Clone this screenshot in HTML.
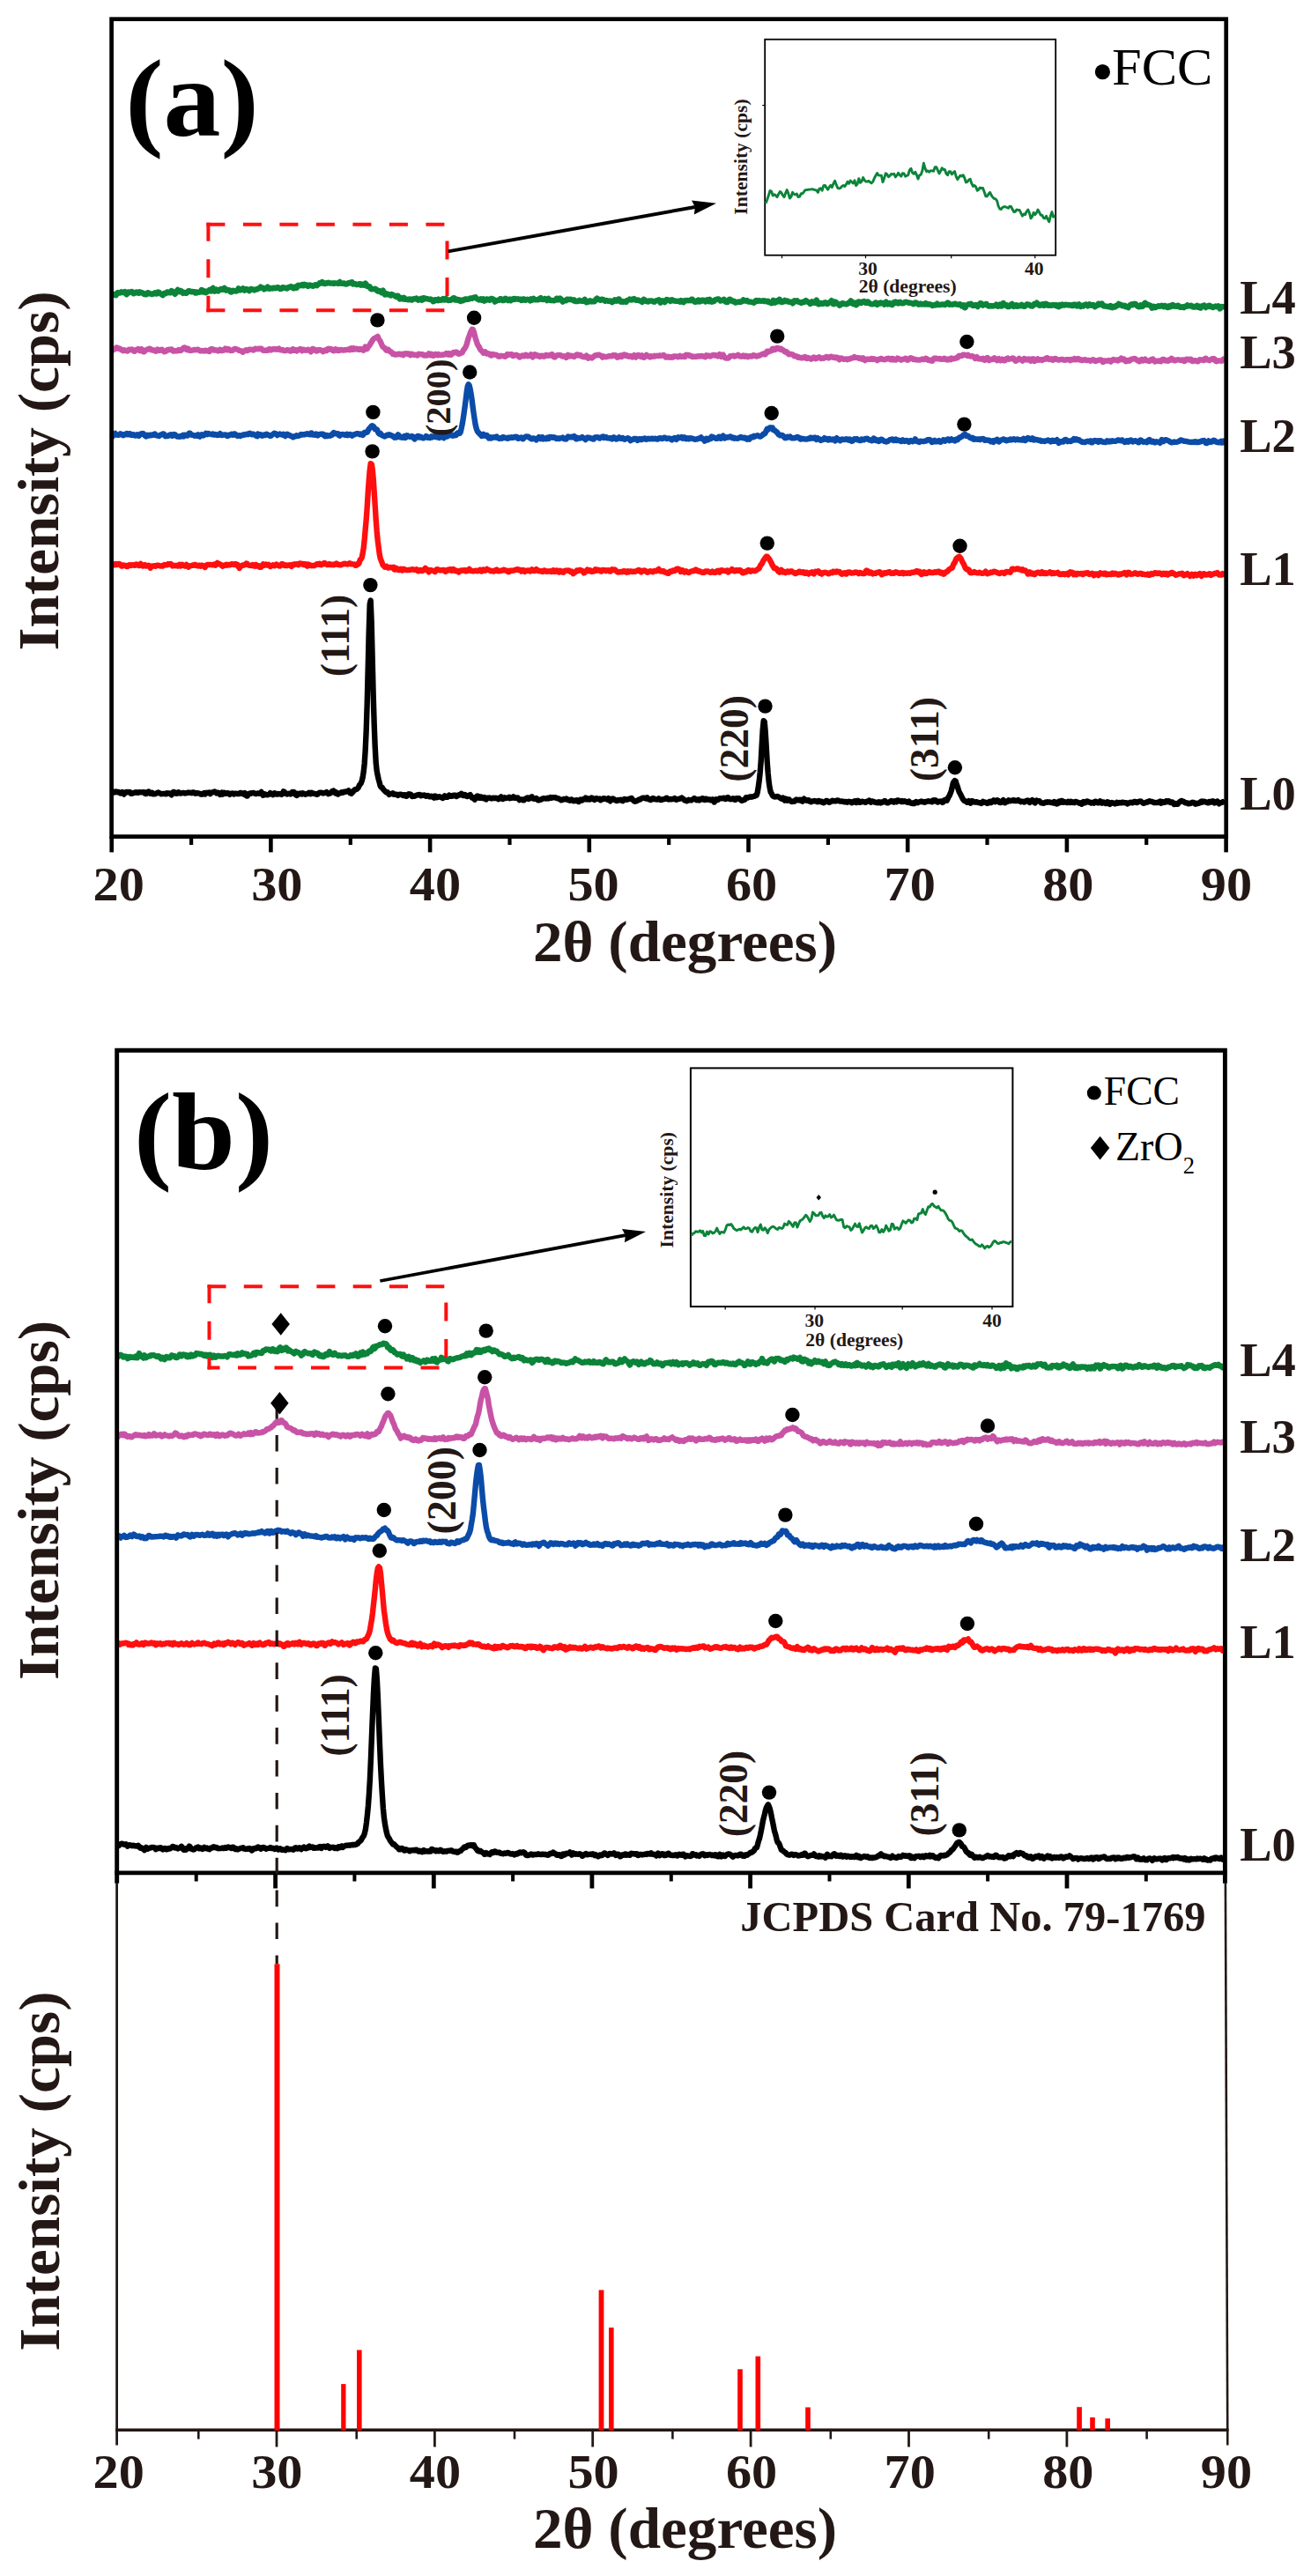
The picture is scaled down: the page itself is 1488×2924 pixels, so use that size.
<!DOCTYPE html>
<html lang="en"><head><meta charset="utf-8"><title>XRD patterns</title>
<style>html,body{margin:0;padding:0;background:#fff}svg{display:block}text{font-family:"Liberation Serif","DejaVu Serif",serif}</style></head><body>
<svg width="1488" height="2924" viewBox="0 0 1488 2924">
<rect width="1488" height="2924" fill="#fff"/>
<g id="panel-a">
<polyline points="126.7,901.1 127.7,900.1 128.7,898.8 129.7,898.6 130.7,899.3 131.7,898.5 132.7,898.8 133.7,899.3 134.7,898.9 135.7,899.7 136.7,900.5 137.7,900.1 138.7,899.2 139.7,900.3 140.7,901.5 141.7,900.3 142.7,899.1 143.7,899.2 144.7,898.9 145.7,899.3 146.7,898.9 147.7,899.3 148.7,900.9 149.7,900.8 150.7,900.5 151.7,899.9 152.7,899.8 153.7,899.4 154.7,899.2 155.7,899.9 156.7,899.8 157.7,899.1 158.7,899.3 159.7,899.4 160.7,899.4 161.7,899.3 162.7,899.2 163.7,899.1 164.7,900.8 165.7,901.1 166.7,899.4 167.7,898.9 168.7,898.6 169.7,900.1 170.7,900.8 171.7,899.8 172.7,899.6 173.7,901.4 174.7,901.4 175.7,901.1 176.7,901.0 177.7,900.3 178.7,899.8 179.7,899.5 180.7,900.1 181.7,900.5 182.7,901.2 183.7,901.1 184.7,901.0 185.7,901.0 186.7,900.9 187.7,900.8 188.7,901.3 189.7,900.2 190.7,900.5 191.7,900.5 192.7,900.7 193.7,901.5 194.7,902.3 195.7,900.7 196.7,898.9 197.7,899.1 198.7,900.1 199.7,900.7 200.7,900.7 201.7,899.7 202.7,899.2 203.7,900.4 204.7,900.5 205.7,900.3 206.7,900.1 207.7,900.0 208.7,899.9 209.7,900.5 210.7,900.2 211.7,900.3 212.7,899.7 213.7,899.8 214.7,899.6 215.7,899.7 216.7,900.0 217.7,900.3 218.7,899.5 219.7,899.4 220.7,899.9 221.7,900.7 222.7,900.2 223.7,900.5 224.7,900.2 225.7,900.5 226.7,900.8 227.7,901.4 228.7,901.7 229.7,901.5 230.7,900.7 231.7,900.1 232.7,901.4 233.7,900.4 234.7,899.7 235.7,900.0 236.7,899.6 237.7,899.5 238.7,901.1 239.7,899.9 240.7,899.5 241.7,899.1 242.7,898.9 243.7,898.5 244.7,899.0 245.7,900.4 246.7,899.9 247.7,899.8 248.7,900.2 249.7,902.0 250.7,900.5 251.7,899.7 252.7,901.6 253.7,901.1 254.7,899.8 255.7,900.5 256.7,900.9 257.7,900.2 258.7,900.3 259.7,900.6 260.7,901.8 261.7,900.9 262.7,900.8 263.7,900.5 264.7,900.6 265.7,901.5 266.7,900.8 267.7,900.7 268.7,901.0 269.7,901.0 270.7,901.1 271.7,901.1 272.7,900.0 273.7,900.0 274.7,900.4 275.7,901.1 276.7,901.6 277.7,900.0 278.7,900.8 279.7,903.5 280.7,903.5 281.7,901.9 282.7,900.9 283.7,900.5 284.7,900.9 285.7,900.2 286.7,900.1 287.7,900.0 288.7,900.3 289.7,901.0 290.7,901.0 291.7,900.6 292.7,900.5 293.7,900.6 294.7,900.9 295.7,900.3 296.7,899.0 297.7,900.7 298.7,902.8 299.7,902.5 300.7,901.3 301.7,901.8 302.7,902.1 303.7,902.3 304.7,902.0 305.7,901.4 306.7,900.1 307.7,900.5 308.7,901.5 309.7,902.2 310.7,901.4 311.7,900.2 312.7,900.6 313.7,901.6 314.7,901.6 315.7,900.9 316.7,901.4 317.7,901.3 318.7,901.4 319.7,901.9 320.7,900.8 321.7,898.4 322.7,898.8 323.7,900.1 324.7,901.0 325.7,901.5 326.7,901.1 327.7,900.6 328.7,901.0 329.7,901.5 330.7,900.9 331.7,898.9 332.7,899.0 333.7,899.1 334.7,900.3 335.7,902.2 336.7,902.9 337.7,900.9 338.7,901.4 339.7,901.5 340.7,900.5 341.7,900.8 342.7,901.5 343.7,900.2 344.7,900.8 345.7,901.3 346.7,901.7 347.7,901.1 348.7,900.7 349.7,901.0 350.7,899.9 351.7,900.9 352.7,901.3 353.7,899.8 354.7,900.2 355.7,900.5 356.7,901.0 357.7,900.9 358.7,901.4 359.7,901.9 360.7,901.4 361.7,900.4 362.7,899.7 363.7,899.8 364.7,899.8 365.7,899.9 366.7,900.5 367.7,900.2 368.7,900.0 369.7,899.7 370.7,899.1 371.7,900.2 372.7,901.2 373.7,900.7 374.7,900.5 375.7,900.0 376.7,898.3 377.7,898.9 378.7,897.7 379.7,898.7 380.7,900.4 381.7,899.4 382.7,900.4 383.7,901.5 384.7,900.7 385.7,900.3 386.7,900.1 387.7,899.2 388.7,899.7 389.7,899.6 390.7,898.7 391.7,898.9 392.7,898.7 393.7,898.3 394.7,898.5 395.7,897.5 396.7,898.5 397.7,900.4 398.7,900.8 399.7,899.9 400.7,898.8 401.7,897.2 402.7,896.3 403.7,896.3 404.7,895.9 405.7,895.1 406.7,894.1 407.7,891.6 408.7,890.4 409.7,889.1 410.7,886.4 411.7,882.4 412.7,876.1 413.7,866.5 414.7,851.1 415.7,829.0 416.7,798.5 417.7,759.1 418.7,717.3 419.7,686.0 420.7,681.5 421.7,707.1 422.7,748.1 423.7,789.4 424.7,822.3 425.7,847.5 426.7,865.9 427.7,875.2 428.7,880.3 429.7,884.8 430.7,888.2 431.7,892.2 432.7,893.6 433.7,893.6 434.7,895.6 435.7,896.7 436.7,897.7 437.7,898.7 438.7,899.5 439.7,899.2 440.7,900.6 441.7,902.0 442.7,901.3 443.7,901.1 444.7,900.8 445.7,900.3 446.7,901.6 447.7,901.9 448.7,901.5 449.7,901.8 450.7,901.9 451.7,902.9 452.7,902.2 453.7,901.7 454.7,901.7 455.7,901.9 456.7,902.6 457.7,903.0 458.7,902.2 459.7,902.3 460.7,903.8 461.7,903.8 462.7,902.0 463.7,901.3 464.7,901.5 465.7,901.5 466.7,902.2 467.7,904.0 468.7,903.9 469.7,903.8 470.7,903.6 471.7,903.1 472.7,902.7 473.7,902.4 474.7,902.3 475.7,901.9 476.7,902.1 477.7,903.3 478.7,902.8 479.7,902.8 480.7,902.8 481.7,902.4 482.7,903.1 483.7,903.8 484.7,903.5 485.7,903.0 486.7,903.5 487.7,904.4 488.7,904.1 489.7,903.6 490.7,904.1 491.7,905.1 492.7,905.6 493.7,903.5 494.7,903.8 495.7,905.3 496.7,905.0 497.7,904.5 498.7,904.3 499.7,904.7 500.7,905.2 501.7,905.3 502.7,905.9 503.7,905.0 504.7,903.3 505.7,904.1 506.7,904.9 507.7,904.9 508.7,903.7 509.7,902.7 510.7,903.8 511.7,903.9 512.7,903.2 513.7,903.6 514.7,902.7 515.7,902.7 516.7,902.8 517.7,904.0 518.7,903.8 519.7,902.8 520.7,902.3 521.7,902.5 522.7,901.6 523.7,900.8 524.7,901.8 525.7,903.1 526.7,903.0 527.7,902.0 528.7,902.9 529.7,903.8 530.7,904.0 531.7,903.2 532.7,902.7 533.7,902.2 534.7,904.2 535.7,905.4 536.7,905.1 537.7,906.3 538.7,907.6 539.7,906.1 540.7,904.4 541.7,903.4 542.7,903.8 543.7,905.7 544.7,905.7 545.7,904.4 546.7,904.7 547.7,906.1 548.7,906.1 549.7,905.1 550.7,906.9 551.7,907.4 552.7,905.9 553.7,905.7 554.7,905.8 555.7,905.4 556.7,906.0 557.7,906.5 558.7,906.2 559.7,905.7 560.7,905.9 561.7,906.1 562.7,905.6 563.7,906.1 564.7,906.5 565.7,907.3 566.7,906.5 567.7,905.2 568.7,904.5 569.7,906.4 570.7,907.0 571.7,905.7 572.7,905.3 573.7,906.0 574.7,905.8 575.7,905.8 576.7,905.5 577.7,904.9 578.7,906.1 579.7,905.2 580.7,905.8 581.7,905.4 582.7,904.4 583.7,905.6 584.7,905.9 585.7,905.4 586.7,905.9 587.7,905.6 588.7,906.9 589.7,908.1 590.7,907.5 591.7,907.4 592.7,907.4 593.7,908.3 594.7,908.4 595.7,907.0 596.7,906.6 597.7,905.9 598.7,905.6 599.7,907.0 600.7,906.7 601.7,905.7 602.7,904.8 603.7,904.3 604.7,906.1 605.7,906.7 606.7,906.9 607.7,906.9 608.7,906.1 609.7,906.8 610.7,908.4 611.7,908.4 612.7,907.9 613.7,907.7 614.7,907.3 615.7,906.5 616.7,906.2 617.7,906.4 618.7,906.4 619.7,906.5 620.7,906.1 621.7,905.8 622.7,906.4 623.7,905.9 624.7,905.1 625.7,905.8 626.7,905.2 627.7,905.2 628.7,905.3 629.7,905.3 630.7,905.3 631.7,906.0 632.7,906.1 633.7,906.4 634.7,906.9 635.7,907.2 636.7,908.2 637.7,908.2 638.7,907.7 639.7,907.0 640.7,907.4 641.7,907.1 642.7,906.5 643.7,907.6 644.7,908.0 645.7,907.8 646.7,908.7 647.7,907.7 648.7,907.4 649.7,908.7 650.7,909.2 651.7,908.8 652.7,909.0 653.7,908.2 654.7,908.3 655.7,909.5 656.7,910.1 657.7,909.2 658.7,907.7 659.7,908.7 660.7,908.5 661.7,907.3 662.7,907.3 663.7,907.4 664.7,905.6 665.7,906.7 666.7,907.4 667.7,906.5 668.7,906.6 669.7,907.5 670.7,906.8 671.7,905.5 672.7,906.0 673.7,906.9 674.7,907.9 675.7,906.6 676.7,906.1 677.7,906.4 678.7,907.0 679.7,907.1 680.7,906.6 681.7,908.2 682.7,907.6 683.7,907.2 684.7,906.4 685.7,906.1 686.7,906.9 687.7,906.8 688.7,906.9 689.7,907.7 690.7,906.2 691.7,908.0 692.7,909.3 693.7,907.4 694.7,906.6 695.7,906.5 696.7,907.1 697.7,907.9 698.7,908.4 699.7,909.0 700.7,908.8 701.7,908.0 702.7,908.4 703.7,908.2 704.7,907.7 705.7,908.6 706.7,909.1 707.7,907.9 708.7,907.0 709.7,907.1 710.7,907.8 711.7,907.5 712.7,907.6 713.7,907.0 714.7,906.9 715.7,906.3 716.7,905.9 717.7,907.3 718.7,908.3 719.7,909.4 720.7,909.7 721.7,909.3 722.7,909.2 723.7,908.7 724.7,907.7 725.7,907.7 726.7,907.4 727.7,906.5 728.7,906.2 729.7,905.7 730.7,905.8 731.7,905.7 732.7,906.4 733.7,906.6 734.7,905.4 735.7,906.7 736.7,907.5 737.7,907.3 738.7,908.1 739.7,907.3 740.7,906.2 741.7,906.1 742.7,907.1 743.7,907.2 744.7,907.4 745.7,907.5 746.7,907.3 747.7,906.4 748.7,907.1 749.7,908.1 750.7,907.8 751.7,907.7 752.7,907.2 753.7,907.1 754.7,907.1 755.7,906.2 756.7,905.7 757.7,907.0 758.7,907.5 759.7,907.1 760.7,906.9 761.7,907.4 762.7,907.2 763.7,907.0 764.7,907.0 765.7,906.1 766.7,907.2 767.7,907.8 768.7,907.1 769.7,907.0 770.7,906.9 771.7,906.6 772.7,906.2 773.7,905.5 774.7,906.6 775.7,907.0 776.7,908.1 777.7,908.6 778.7,908.6 779.7,909.3 780.7,908.5 781.7,907.7 782.7,908.3 783.7,908.4 784.7,908.3 785.7,907.6 786.7,907.2 787.7,906.2 788.7,906.4 789.7,907.2 790.7,908.2 791.7,907.9 792.7,907.3 793.7,908.5 794.7,908.0 795.7,906.8 796.7,906.3 797.7,906.1 798.7,907.7 799.7,908.0 800.7,906.7 801.7,906.7 802.7,907.7 803.7,907.5 804.7,907.4 805.7,907.4 806.7,908.3 807.7,908.0 808.7,907.3 809.7,908.9 810.7,910.5 811.7,908.5 812.7,907.3 813.7,907.6 814.7,908.0 815.7,907.0 816.7,906.3 817.7,906.2 818.7,906.2 819.7,906.3 820.7,906.2 821.7,905.7 822.7,906.6 823.7,907.1 824.7,906.1 825.7,905.1 826.7,905.4 827.7,906.7 828.7,907.1 829.7,907.2 830.7,907.0 831.7,906.3 832.7,906.5 833.7,907.8 834.7,907.9 835.7,906.3 836.7,906.4 837.7,906.2 838.7,906.3 839.7,907.5 840.7,907.6 841.7,908.9 842.7,908.7 843.7,908.1 844.7,907.9 845.7,907.3 846.7,905.2 847.7,905.3 848.7,905.5 849.7,905.1 850.7,904.6 851.7,904.4 852.7,904.7 853.7,904.5 854.7,904.1 855.7,903.9 856.7,903.6 857.7,902.7 858.7,902.7 859.7,899.6 860.7,893.4 861.7,886.5 862.7,877.0 863.7,863.9 864.7,845.5 865.7,828.3 866.7,818.2 867.7,819.1 868.7,830.2 869.7,846.7 870.7,864.1 871.7,877.5 872.7,887.7 873.7,894.4 874.7,899.0 875.7,900.6 876.7,902.8 877.7,903.9 878.7,904.3 879.7,904.5 880.7,904.2 881.7,904.2 882.7,904.0 883.7,904.5 884.7,905.2 885.7,905.8 886.7,906.7 887.7,906.7 888.7,905.6 889.7,907.4 890.7,908.5 891.7,906.7 892.7,907.2 893.7,908.7 894.7,907.4 895.7,907.4 896.7,908.9 897.7,909.4 898.7,910.0 899.7,909.6 900.7,909.5 901.7,909.8 902.7,908.3 903.7,907.6 904.7,908.4 905.7,908.3 906.7,907.8 907.7,908.5 908.7,907.8 909.7,908.9 910.7,909.6 911.7,908.0 912.7,906.7 913.7,908.0 914.7,908.5 915.7,908.9 916.7,908.2 917.7,908.3 918.7,909.5 919.7,909.7 920.7,910.3 921.7,909.5 922.7,909.4 923.7,909.4 924.7,908.9 925.7,909.5 926.7,909.5 927.7,910.2 928.7,909.2 929.7,909.0 930.7,910.0 931.7,910.2 932.7,909.8 933.7,911.0 934.7,911.3 935.7,910.9 936.7,910.0 937.7,909.0 938.7,908.9 939.7,909.5 940.7,910.7 941.7,910.6 942.7,909.9 943.7,909.7 944.7,908.7 945.7,909.2 946.7,909.3 947.7,909.2 948.7,909.4 949.7,908.7 950.7,908.5 951.7,908.6 952.7,909.3 953.7,909.6 954.7,909.6 955.7,909.5 956.7,909.6 957.7,910.2 958.7,910.4 959.7,910.0 960.7,910.0 961.7,910.8 962.7,910.0 963.7,909.7 964.7,910.3 965.7,910.1 966.7,911.3 967.7,910.9 968.7,910.1 969.7,909.3 970.7,909.1 971.7,911.1 972.7,910.8 973.7,908.9 974.7,909.4 975.7,910.9 976.7,910.7 977.7,910.1 978.7,909.6 979.7,910.1 980.7,910.2 981.7,910.7 982.7,910.7 983.7,909.9 984.7,909.6 985.7,909.4 986.7,908.5 987.7,909.2 988.7,910.7 989.7,909.6 990.7,909.5 991.7,910.0 992.7,910.5 993.7,910.7 994.7,911.1 995.7,910.7 996.7,911.3 997.7,910.3 998.7,910.5 999.7,911.5 1000.7,910.8 1001.7,910.1 1002.7,910.4 1003.7,909.3 1004.7,909.2 1005.7,910.4 1006.7,911.2 1007.7,911.3 1008.7,910.8 1009.7,910.2 1010.7,909.4 1011.7,909.0 1012.7,909.4 1013.7,910.3 1014.7,910.6 1015.7,909.1 1016.7,909.3 1017.7,910.2 1018.7,908.4 1019.7,908.5 1020.7,909.1 1021.7,909.3 1022.7,910.0 1023.7,909.1 1024.7,910.1 1025.7,909.9 1026.7,909.2 1027.7,909.8 1028.7,910.2 1029.7,910.8 1030.7,910.6 1031.7,909.7 1032.7,911.1 1033.7,911.5 1034.7,911.9 1035.7,912.0 1036.7,911.2 1037.7,912.0 1038.7,910.9 1039.7,910.1 1040.7,910.9 1041.7,911.2 1042.7,910.5 1043.7,910.2 1044.7,910.0 1045.7,909.4 1046.7,910.1 1047.7,910.3 1048.7,910.1 1049.7,910.7 1050.7,909.9 1051.7,909.8 1052.7,909.6 1053.7,909.3 1054.7,909.5 1055.7,909.6 1056.7,909.9 1057.7,910.3 1058.7,908.6 1059.7,908.3 1060.7,909.1 1061.7,908.3 1062.7,908.9 1063.7,910.3 1064.7,910.5 1065.7,909.7 1066.7,909.8 1067.7,909.4 1068.7,909.6 1069.7,910.9 1070.7,910.4 1071.7,908.3 1072.7,907.8 1073.7,908.0 1074.7,908.7 1075.7,906.6 1076.7,904.4 1077.7,902.9 1078.7,900.5 1079.7,897.8 1080.7,893.9 1081.7,889.2 1082.7,887.2 1083.7,886.0 1084.7,886.7 1085.7,890.1 1086.7,892.7 1087.7,896.0 1088.7,899.0 1089.7,900.8 1090.7,902.6 1091.7,904.6 1092.7,906.8 1093.7,908.1 1094.7,909.0 1095.7,909.6 1096.7,909.7 1097.7,910.9 1098.7,910.9 1099.7,909.2 1100.7,910.2 1101.7,911.6 1102.7,909.2 1103.7,909.1 1104.7,910.1 1105.7,910.3 1106.7,910.6 1107.7,910.1 1108.7,910.2 1109.7,910.8 1110.7,911.0 1111.7,911.4 1112.7,911.3 1113.7,912.0 1114.7,911.2 1115.7,909.9 1116.7,910.7 1117.7,910.9 1118.7,910.7 1119.7,911.4 1120.7,912.0 1121.7,911.5 1122.7,910.1 1123.7,909.8 1124.7,911.2 1125.7,910.7 1126.7,909.8 1127.7,908.4 1128.7,909.1 1129.7,910.2 1130.7,908.8 1131.7,908.2 1132.7,908.5 1133.7,910.1 1134.7,910.9 1135.7,911.1 1136.7,910.6 1137.7,909.2 1138.7,908.1 1139.7,909.6 1140.7,911.2 1141.7,910.2 1142.7,910.2 1143.7,909.9 1144.7,908.3 1145.7,908.6 1146.7,909.2 1147.7,908.9 1148.7,908.9 1149.7,908.3 1150.7,908.2 1151.7,909.1 1152.7,908.7 1153.7,909.1 1154.7,909.1 1155.7,908.1 1156.7,909.1 1157.7,909.5 1158.7,910.2 1159.7,909.7 1160.7,909.8 1161.7,910.1 1162.7,910.6 1163.7,910.0 1164.7,909.0 1165.7,909.3 1166.7,908.5 1167.7,909.1 1168.7,910.9 1169.7,910.2 1170.7,909.1 1171.7,908.1 1172.7,909.0 1173.7,910.7 1174.7,911.4 1175.7,909.8 1176.7,908.6 1177.7,909.3 1178.7,909.2 1179.7,909.2 1180.7,910.3 1181.7,911.3 1182.7,911.4 1183.7,911.7 1184.7,911.9 1185.7,911.0 1186.7,910.5 1187.7,910.8 1188.7,910.3 1189.7,910.4 1190.7,910.5 1191.7,910.5 1192.7,911.0 1193.7,910.9 1194.7,910.9 1195.7,911.5 1196.7,910.1 1197.7,910.6 1198.7,912.1 1199.7,912.6 1200.7,912.0 1201.7,909.8 1202.7,909.4 1203.7,910.8 1204.7,909.0 1205.7,909.0 1206.7,910.7 1207.7,910.0 1208.7,910.3 1209.7,910.5 1210.7,911.1 1211.7,911.0 1212.7,909.7 1213.7,910.3 1214.7,910.9 1215.7,909.7 1216.7,910.3 1217.7,911.0 1218.7,910.5 1219.7,911.1 1220.7,910.0 1221.7,910.0 1222.7,910.5 1223.7,910.8 1224.7,911.7 1225.7,911.9 1226.7,911.4 1227.7,912.7 1228.7,912.1 1229.7,910.2 1230.7,911.0 1231.7,911.3 1232.7,909.8 1233.7,909.5 1234.7,909.6 1235.7,910.5 1236.7,910.7 1237.7,910.6 1238.7,911.5 1239.7,911.1 1240.7,910.8 1241.7,911.6 1242.7,909.8 1243.7,909.6 1244.7,910.5 1245.7,911.3 1246.7,911.3 1247.7,910.8 1248.7,909.4 1249.7,909.9 1250.7,911.6 1251.7,910.9 1252.7,910.4 1253.7,911.2 1254.7,912.1 1255.7,912.0 1256.7,910.3 1257.7,910.4 1258.7,912.5 1259.7,913.0 1260.7,911.6 1261.7,911.0 1262.7,911.4 1263.7,911.8 1264.7,911.6 1265.7,912.4 1266.7,912.0 1267.7,910.8 1268.7,911.7 1269.7,911.5 1270.7,911.0 1271.7,911.3 1272.7,911.4 1273.7,910.6 1274.7,910.9 1275.7,911.0 1276.7,911.4 1277.7,911.1 1278.7,911.3 1279.7,912.4 1280.7,911.7 1281.7,911.3 1282.7,910.8 1283.7,910.9 1284.7,911.2 1285.7,911.2 1286.7,910.2 1287.7,909.9 1288.7,909.9 1289.7,910.9 1290.7,911.1 1291.7,910.3 1292.7,909.7 1293.7,909.9 1294.7,909.4 1295.7,910.3 1296.7,911.0 1297.7,911.8 1298.7,911.6 1299.7,911.2 1300.7,910.8 1301.7,910.3 1302.7,910.5 1303.7,909.7 1304.7,909.3 1305.7,909.6 1306.7,909.8 1307.7,910.0 1308.7,910.6 1309.7,911.0 1310.7,911.0 1311.7,911.0 1312.7,911.1 1313.7,911.0 1314.7,910.9 1315.7,910.0 1316.7,909.5 1317.7,911.8 1318.7,911.5 1319.7,910.0 1320.7,910.6 1321.7,910.8 1322.7,910.3 1323.7,909.2 1324.7,909.4 1325.7,910.1 1326.7,909.2 1327.7,910.0 1328.7,911.0 1329.7,910.6 1330.7,910.4 1331.7,911.4 1332.7,913.0 1333.7,912.9 1334.7,912.0 1335.7,912.7 1336.7,912.7 1337.7,911.4 1338.7,910.4 1339.7,909.7 1340.7,909.0 1341.7,909.2 1342.7,909.8 1343.7,909.9 1344.7,910.9 1345.7,911.4 1346.7,911.2 1347.7,911.9 1348.7,912.3 1349.7,911.8 1350.7,912.1 1351.7,911.7 1352.7,911.0 1353.7,910.8 1354.7,911.0 1355.7,911.8 1356.7,912.7 1357.7,911.8 1358.7,912.2 1359.7,911.8 1360.7,911.7 1361.7,911.4 1362.7,910.1 1363.7,909.6 1364.7,910.6 1365.7,909.6 1366.7,909.7 1367.7,910.2 1368.7,910.6 1369.7,910.4 1370.7,911.2 1371.7,911.3 1372.7,909.9 1373.7,910.0 1374.7,910.5 1375.7,909.6 1376.7,909.3 1377.7,909.9 1378.7,911.4 1379.7,910.9 1380.7,909.9 1381.7,909.5 1382.7,910.7 1383.7,912.3 1384.7,911.3 1385.7,911.0 1386.7,911.1 1387.7,910.2 1388.7,910.3 1389.7,910.1 1390.7,909.3" fill="none" stroke="#000000" stroke-width="6.4" stroke-linejoin="round" stroke-linecap="butt" />
<polyline points="126.7,640.8 127.7,641.1 128.7,640.3 129.7,641.2 130.7,641.3 131.7,640.1 132.7,641.0 133.7,640.6 134.7,639.9 135.7,640.1 136.7,641.0 137.7,642.5 138.7,642.6 139.7,641.4 140.7,641.7 141.7,642.1 142.7,642.0 143.7,643.0 144.7,642.9 145.7,641.9 146.7,641.2 147.7,641.4 148.7,641.9 149.7,641.3 150.7,641.4 151.7,641.3 152.7,641.8 153.7,641.6 154.7,640.4 155.7,640.8 156.7,641.4 157.7,642.0 158.7,641.1 159.7,640.0 160.7,641.2 161.7,642.3 162.7,642.5 163.7,641.3 164.7,641.3 165.7,642.6 166.7,642.4 167.7,642.4 168.7,641.7 169.7,642.3 170.7,644.7 171.7,643.2 172.7,642.5 173.7,642.6 174.7,642.4 175.7,642.1 176.7,642.7 177.7,641.8 178.7,641.6 179.7,641.7 180.7,642.2 181.7,642.5 182.7,642.4 183.7,642.3 184.7,642.6 185.7,641.5 186.7,640.9 187.7,641.3 188.7,641.4 189.7,641.4 190.7,640.3 191.7,640.2 192.7,640.6 193.7,640.0 194.7,640.8 195.7,642.3 196.7,641.7 197.7,642.0 198.7,642.2 199.7,641.9 200.7,641.9 201.7,642.5 202.7,641.6 203.7,640.8 204.7,642.5 205.7,641.3 206.7,640.8 207.7,641.4 208.7,642.1 209.7,642.5 210.7,642.3 211.7,641.0 212.7,642.3 213.7,643.6 214.7,642.7 215.7,642.4 216.7,642.3 217.7,642.0 218.7,641.4 219.7,641.7 220.7,641.0 221.7,641.0 222.7,641.9 223.7,641.6 224.7,642.4 225.7,641.6 226.7,641.6 227.7,642.7 228.7,641.6 229.7,641.8 230.7,642.2 231.7,643.1 232.7,643.9 233.7,642.3 234.7,641.4 235.7,640.9 236.7,641.0 237.7,641.1 238.7,641.0 239.7,641.1 240.7,641.1 241.7,641.3 242.7,640.6 243.7,640.4 244.7,641.6 245.7,640.5 246.7,638.9 247.7,640.1 248.7,640.1 249.7,640.4 250.7,641.0 251.7,642.1 252.7,642.7 253.7,641.8 254.7,642.0 255.7,641.3 256.7,640.8 257.7,641.7 258.7,640.9 259.7,641.1 260.7,641.2 261.7,641.1 262.7,640.2 263.7,640.2 264.7,640.7 265.7,641.0 266.7,640.3 267.7,640.2 268.7,641.4 269.7,641.0 270.7,643.2 271.7,644.9 272.7,643.5 273.7,642.3 274.7,641.8 275.7,641.7 276.7,641.3 277.7,641.2 278.7,640.8 279.7,639.5 280.7,640.1 281.7,641.3 282.7,641.6 283.7,641.8 284.7,641.9 285.7,642.0 286.7,641.1 287.7,642.2 288.7,642.7 289.7,641.2 290.7,641.0 291.7,642.6 292.7,642.6 293.7,642.2 294.7,643.8 295.7,643.9 296.7,643.3 297.7,641.8 298.7,640.5 299.7,641.8 300.7,641.4 301.7,640.6 302.7,641.5 303.7,641.5 304.7,640.8 305.7,641.8 306.7,643.0 307.7,642.6 308.7,642.0 309.7,641.3 310.7,641.9 311.7,642.3 312.7,641.3 313.7,640.5 314.7,641.4 315.7,641.8 316.7,642.4 317.7,642.5 318.7,641.2 319.7,640.2 320.7,640.1 321.7,641.5 322.7,642.0 323.7,641.3 324.7,641.9 325.7,642.1 326.7,641.4 327.7,641.5 328.7,641.3 329.7,642.2 330.7,642.9 331.7,641.0 332.7,640.8 333.7,641.3 334.7,640.3 335.7,640.5 336.7,640.3 337.7,640.1 338.7,641.0 339.7,639.7 340.7,639.4 341.7,639.8 342.7,640.2 343.7,639.9 344.7,641.0 345.7,640.4 346.7,640.3 347.7,642.0 348.7,642.6 349.7,640.5 350.7,641.4 351.7,641.2 352.7,642.0 353.7,642.2 354.7,642.0 355.7,642.1 356.7,642.1 357.7,641.4 358.7,641.2 359.7,640.1 360.7,640.2 361.7,640.7 362.7,639.9 363.7,640.9 364.7,641.2 365.7,640.3 366.7,640.4 367.7,639.1 368.7,639.2 369.7,640.3 370.7,640.4 371.7,641.1 372.7,640.6 373.7,640.1 374.7,641.1 375.7,641.0 376.7,640.6 377.7,640.8 378.7,641.3 379.7,641.0 380.7,640.0 381.7,639.5 382.7,640.7 383.7,640.7 384.7,640.8 385.7,641.4 386.7,641.4 387.7,640.9 388.7,640.7 389.7,640.0 390.7,640.1 391.7,639.8 392.7,640.1 393.7,640.3 394.7,640.5 395.7,639.8 396.7,639.3 397.7,639.6 398.7,640.4 399.7,640.4 400.7,640.4 401.7,640.5 402.7,641.3 403.7,641.8 404.7,641.6 405.7,640.0 406.7,640.3 407.7,638.9 408.7,635.3 409.7,634.6 410.7,632.9 411.7,628.0 412.7,622.0 413.7,612.3 414.7,600.9 415.7,589.7 416.7,576.1 417.7,559.6 418.7,545.6 419.7,533.6 420.7,526.2 421.7,526.6 422.7,532.4 423.7,543.2 424.7,558.1 425.7,573.9 426.7,589.7 427.7,603.1 428.7,613.4 429.7,621.1 430.7,628.9 431.7,633.8 432.7,636.4 433.7,638.9 434.7,641.6 435.7,642.2 436.7,643.6 437.7,643.0 438.7,642.8 439.7,644.2 440.7,644.6 441.7,644.2 442.7,644.0 443.7,643.9 444.7,644.5 445.7,644.0 446.7,643.8 447.7,646.6 448.7,646.5 449.7,644.8 450.7,645.5 451.7,646.8 452.7,647.0 453.7,647.0 454.7,645.8 455.7,646.6 456.7,647.4 457.7,645.7 458.7,646.0 459.7,646.6 460.7,646.8 461.7,647.1 462.7,647.1 463.7,647.0 464.7,646.8 465.7,646.8 466.7,646.6 467.7,646.2 468.7,646.4 469.7,646.6 470.7,646.9 471.7,646.9 472.7,646.3 473.7,647.7 474.7,648.3 475.7,647.8 476.7,647.0 477.7,647.2 478.7,648.0 479.7,647.8 480.7,647.5 481.7,646.3 482.7,644.9 483.7,646.1 484.7,646.2 485.7,647.7 486.7,649.3 487.7,647.4 488.7,647.0 489.7,647.3 490.7,647.6 491.7,647.8 492.7,648.1 493.7,649.0 494.7,648.1 495.7,646.2 496.7,646.2 497.7,646.5 498.7,647.2 499.7,647.5 500.7,647.2 501.7,647.3 502.7,647.0 503.7,647.0 504.7,647.9 505.7,648.8 506.7,648.2 507.7,646.9 508.7,646.7 509.7,647.3 510.7,646.3 511.7,646.2 512.7,647.7 513.7,647.3 514.7,646.1 515.7,646.9 516.7,648.0 517.7,648.3 518.7,647.8 519.7,648.5 520.7,649.5 521.7,648.5 522.7,647.6 523.7,647.4 524.7,647.4 525.7,647.7 526.7,647.2 527.7,647.4 528.7,648.3 529.7,647.3 530.7,647.9 531.7,647.0 532.7,646.0 533.7,647.1 534.7,648.0 535.7,648.0 536.7,648.4 537.7,648.4 538.7,648.0 539.7,647.6 540.7,647.8 541.7,648.2 542.7,647.8 543.7,647.7 544.7,646.7 545.7,646.9 546.7,648.4 547.7,647.8 548.7,646.6 549.7,646.9 550.7,647.7 551.7,646.9 552.7,645.9 553.7,646.9 554.7,647.0 555.7,647.3 556.7,648.2 557.7,648.1 558.7,648.0 559.7,648.5 560.7,648.6 561.7,647.6 562.7,647.0 563.7,646.5 564.7,648.1 565.7,648.3 566.7,647.9 567.7,648.1 568.7,647.6 569.7,647.4 570.7,647.6 571.7,646.7 572.7,647.2 573.7,647.6 574.7,647.5 575.7,648.1 576.7,649.2 577.7,649.1 578.7,647.6 579.7,647.8 580.7,647.8 581.7,647.6 582.7,647.5 583.7,647.3 584.7,647.1 585.7,646.5 586.7,646.4 587.7,646.2 588.7,647.1 589.7,646.7 590.7,647.1 591.7,648.5 592.7,647.4 593.7,647.0 594.7,648.1 595.7,648.9 596.7,647.8 597.7,647.6 598.7,647.8 599.7,647.4 600.7,647.7 601.7,648.4 602.7,647.8 603.7,646.3 604.7,647.1 605.7,647.9 606.7,648.1 607.7,647.0 608.7,646.1 609.7,647.5 610.7,648.0 611.7,647.7 612.7,648.3 613.7,648.2 614.7,648.3 615.7,649.0 616.7,648.7 617.7,647.4 618.7,647.6 619.7,648.3 620.7,648.9 621.7,648.5 622.7,648.6 623.7,648.3 624.7,648.4 625.7,649.0 626.7,648.8 627.7,647.2 628.7,647.7 629.7,648.8 630.7,648.1 631.7,647.4 632.7,647.7 633.7,649.2 634.7,649.6 635.7,647.7 636.7,648.1 637.7,648.6 638.7,649.5 639.7,649.7 640.7,648.0 641.7,647.7 642.7,647.6 643.7,647.5 644.7,647.9 645.7,647.5 646.7,648.5 647.7,649.2 648.7,648.5 649.7,649.7 650.7,651.2 651.7,650.1 652.7,649.6 653.7,648.7 654.7,647.5 655.7,648.1 656.7,647.6 657.7,646.9 658.7,647.0 659.7,647.7 660.7,647.7 661.7,648.7 662.7,650.4 663.7,649.9 664.7,648.3 665.7,647.8 666.7,646.6 667.7,648.0 668.7,648.2 669.7,647.2 670.7,647.6 671.7,648.9 672.7,648.4 673.7,648.6 674.7,648.2 675.7,646.3 676.7,646.5 677.7,647.6 678.7,647.0 679.7,647.0 680.7,647.3 681.7,648.5 682.7,648.6 683.7,647.0 684.7,647.2 685.7,647.1 686.7,647.1 687.7,648.1 688.7,647.5 689.7,647.1 690.7,647.3 691.7,648.4 692.7,648.6 693.7,646.8 694.7,646.3 695.7,646.7 696.7,647.1 697.7,646.6 698.7,647.2 699.7,648.3 700.7,649.3 701.7,649.5 702.7,649.3 703.7,649.2 704.7,648.9 705.7,649.2 706.7,649.1 707.7,648.2 708.7,648.3 709.7,648.4 710.7,649.6 711.7,649.7 712.7,648.5 713.7,649.3 714.7,648.4 715.7,648.4 716.7,648.5 717.7,649.0 718.7,648.7 719.7,648.6 720.7,648.9 721.7,648.7 722.7,648.0 723.7,647.6 724.7,647.0 725.7,647.2 726.7,648.7 727.7,649.4 728.7,648.7 729.7,647.7 730.7,647.6 731.7,647.5 732.7,648.1 733.7,649.2 734.7,649.7 735.7,649.4 736.7,648.6 737.7,648.2 738.7,648.6 739.7,648.5 740.7,649.3 741.7,648.6 742.7,648.0 743.7,648.1 744.7,648.3 745.7,647.9 746.7,646.7 747.7,646.0 748.7,647.8 749.7,648.3 750.7,648.5 751.7,648.3 752.7,648.0 753.7,648.9 754.7,649.6 755.7,649.4 756.7,650.0 757.7,650.9 758.7,650.9 759.7,649.4 760.7,648.5 761.7,648.9 762.7,648.7 763.7,647.6 764.7,647.9 765.7,648.1 766.7,647.1 767.7,646.0 768.7,645.6 769.7,646.6 770.7,646.1 771.7,647.0 772.7,649.0 773.7,648.3 774.7,647.3 775.7,648.8 776.7,649.6 777.7,648.9 778.7,648.3 779.7,649.2 780.7,649.7 781.7,650.0 782.7,649.4 783.7,648.8 784.7,648.5 785.7,648.1 786.7,648.1 787.7,648.0 788.7,647.1 789.7,646.5 790.7,646.9 791.7,648.1 792.7,648.5 793.7,648.1 794.7,648.6 795.7,649.2 796.7,649.7 797.7,649.8 798.7,649.9 799.7,649.6 800.7,648.5 801.7,648.5 802.7,648.6 803.7,648.4 804.7,649.2 805.7,649.6 806.7,649.9 807.7,649.5 808.7,648.5 809.7,649.2 810.7,649.9 811.7,649.9 812.7,649.7 813.7,648.3 814.7,647.7 815.7,648.6 816.7,649.5 817.7,647.5 818.7,647.7 819.7,647.3 820.7,647.9 821.7,647.9 822.7,647.9 823.7,648.2 824.7,647.7 825.7,647.5 826.7,649.4 827.7,648.0 828.7,647.8 829.7,647.8 830.7,646.0 831.7,646.5 832.7,647.8 833.7,648.4 834.7,648.3 835.7,647.1 836.7,647.2 837.7,647.9 838.7,647.9 839.7,647.0 840.7,647.6 841.7,648.8 842.7,650.3 843.7,650.4 844.7,649.2 845.7,648.9 846.7,649.3 847.7,648.6 848.7,647.4 849.7,647.1 850.7,648.2 851.7,648.7 852.7,648.3 853.7,647.5 854.7,647.6 855.7,648.0 856.7,648.2 857.7,647.7 858.7,647.2 859.7,646.3 860.7,645.6 861.7,645.1 862.7,642.6 863.7,641.1 864.7,640.1 865.7,637.7 866.7,635.9 867.7,634.4 868.7,633.0 869.7,631.8 870.7,631.7 871.7,633.1 872.7,634.0 873.7,635.5 874.7,637.4 875.7,639.3 876.7,641.6 877.7,643.1 878.7,644.9 879.7,645.2 880.7,644.9 881.7,646.0 882.7,647.6 883.7,649.0 884.7,649.6 885.7,648.2 886.7,646.9 887.7,648.2 888.7,649.4 889.7,648.7 890.7,649.4 891.7,650.1 892.7,649.3 893.7,648.4 894.7,648.6 895.7,649.5 896.7,648.8 897.7,648.3 898.7,648.5 899.7,649.5 900.7,649.8 901.7,650.5 902.7,651.1 903.7,650.2 904.7,650.3 905.7,649.9 906.7,648.9 907.7,648.6 908.7,649.6 909.7,649.7 910.7,649.4 911.7,649.3 912.7,650.7 913.7,650.9 914.7,649.7 915.7,649.8 916.7,650.5 917.7,651.5 918.7,650.4 919.7,650.0 920.7,650.0 921.7,649.3 922.7,650.9 923.7,651.4 924.7,650.2 925.7,648.8 926.7,649.0 927.7,648.6 928.7,648.3 929.7,649.1 930.7,650.8 931.7,650.8 932.7,651.6 933.7,650.1 934.7,650.1 935.7,649.8 936.7,649.6 937.7,650.0 938.7,650.4 939.7,651.1 940.7,651.3 941.7,650.3 942.7,649.8 943.7,650.1 944.7,650.2 945.7,648.7 946.7,648.9 947.7,649.5 948.7,649.5 949.7,648.4 950.7,648.8 951.7,649.3 952.7,648.9 953.7,650.1 954.7,651.3 955.7,651.7 956.7,651.2 957.7,650.4 958.7,650.3 959.7,651.4 960.7,651.6 961.7,649.8 962.7,649.8 963.7,649.5 964.7,649.5 965.7,650.3 966.7,650.5 967.7,650.4 968.7,650.3 969.7,649.8 970.7,649.4 971.7,649.7 972.7,649.8 973.7,650.5 974.7,651.1 975.7,650.0 976.7,650.2 977.7,650.7 978.7,651.0 979.7,651.1 980.7,651.1 981.7,650.7 982.7,648.2 983.7,647.5 984.7,648.0 985.7,649.1 986.7,650.6 987.7,650.3 988.7,649.5 989.7,650.2 990.7,651.5 991.7,650.8 992.7,650.7 993.7,650.9 994.7,650.3 995.7,649.7 996.7,649.8 997.7,649.3 998.7,649.3 999.7,650.9 1000.7,652.2 1001.7,651.8 1002.7,651.1 1003.7,650.1 1004.7,650.2 1005.7,650.8 1006.7,650.2 1007.7,649.5 1008.7,649.2 1009.7,649.3 1010.7,650.5 1011.7,651.0 1012.7,650.5 1013.7,650.2 1014.7,650.8 1015.7,650.0 1016.7,649.2 1017.7,649.8 1018.7,649.8 1019.7,650.3 1020.7,650.8 1021.7,650.4 1022.7,650.7 1023.7,650.0 1024.7,649.9 1025.7,651.1 1026.7,650.5 1027.7,650.5 1028.7,650.7 1029.7,650.8 1030.7,650.2 1031.7,650.5 1032.7,650.9 1033.7,650.4 1034.7,649.6 1035.7,649.7 1036.7,649.7 1037.7,649.3 1038.7,649.4 1039.7,648.4 1040.7,648.2 1041.7,648.4 1042.7,649.6 1043.7,648.8 1044.7,649.6 1045.7,651.9 1046.7,651.7 1047.7,650.4 1048.7,649.3 1049.7,649.6 1050.7,651.1 1051.7,650.9 1052.7,650.3 1053.7,649.7 1054.7,649.1 1055.7,649.9 1056.7,650.1 1057.7,649.8 1058.7,650.0 1059.7,650.0 1060.7,649.3 1061.7,649.3 1062.7,649.7 1063.7,649.2 1064.7,648.6 1065.7,648.7 1066.7,649.9 1067.7,650.5 1068.7,649.8 1069.7,650.2 1070.7,651.7 1071.7,651.5 1072.7,649.7 1073.7,649.3 1074.7,649.0 1075.7,648.1 1076.7,647.0 1077.7,646.1 1078.7,645.4 1079.7,644.9 1080.7,644.6 1081.7,641.9 1082.7,639.5 1083.7,638.7 1084.7,635.8 1085.7,633.8 1086.7,632.9 1087.7,632.3 1088.7,631.7 1089.7,632.8 1090.7,634.1 1091.7,636.5 1092.7,638.4 1093.7,639.9 1094.7,642.4 1095.7,644.8 1096.7,645.9 1097.7,646.5 1098.7,646.2 1099.7,646.6 1100.7,649.5 1101.7,650.3 1102.7,650.3 1103.7,650.0 1104.7,649.9 1105.7,649.0 1106.7,649.6 1107.7,650.0 1108.7,650.3 1109.7,650.4 1110.7,650.4 1111.7,649.7 1112.7,650.4 1113.7,650.4 1114.7,650.9 1115.7,650.7 1116.7,650.5 1117.7,649.8 1118.7,648.7 1119.7,650.2 1120.7,651.3 1121.7,650.7 1122.7,650.6 1123.7,650.4 1124.7,649.5 1125.7,649.9 1126.7,649.5 1127.7,648.9 1128.7,648.6 1129.7,649.0 1130.7,649.4 1131.7,649.9 1132.7,650.4 1133.7,650.7 1134.7,651.1 1135.7,650.3 1136.7,650.0 1137.7,650.0 1138.7,650.3 1139.7,651.0 1140.7,650.1 1141.7,649.2 1142.7,649.0 1143.7,649.2 1144.7,649.2 1145.7,649.4 1146.7,649.7 1147.7,648.0 1148.7,645.8 1149.7,645.9 1150.7,645.8 1151.7,646.3 1152.7,646.2 1153.7,645.7 1154.7,645.4 1155.7,645.4 1156.7,646.4 1157.7,646.1 1158.7,646.8 1159.7,647.5 1160.7,646.5 1161.7,647.6 1162.7,647.5 1163.7,647.4 1164.7,648.6 1165.7,649.9 1166.7,651.5 1167.7,651.4 1168.7,649.4 1169.7,649.9 1170.7,651.4 1171.7,651.0 1172.7,650.7 1173.7,652.0 1174.7,651.8 1175.7,650.7 1176.7,650.3 1177.7,649.6 1178.7,649.7 1179.7,650.2 1180.7,651.0 1181.7,650.8 1182.7,649.2 1183.7,649.9 1184.7,650.9 1185.7,650.3 1186.7,650.1 1187.7,651.0 1188.7,650.6 1189.7,650.4 1190.7,650.3 1191.7,649.2 1192.7,649.8 1193.7,651.0 1194.7,650.1 1195.7,650.4 1196.7,651.0 1197.7,650.5 1198.7,650.5 1199.7,650.5 1200.7,649.8 1201.7,650.9 1202.7,651.9 1203.7,652.0 1204.7,651.9 1205.7,651.3 1206.7,651.7 1207.7,651.3 1208.7,652.2 1209.7,651.7 1210.7,651.2 1211.7,650.8 1212.7,652.4 1213.7,650.4 1214.7,649.3 1215.7,649.5 1216.7,649.6 1217.7,650.6 1218.7,652.1 1219.7,651.0 1220.7,651.9 1221.7,652.2 1222.7,650.9 1223.7,650.9 1224.7,651.3 1225.7,651.3 1226.7,650.9 1227.7,651.0 1228.7,652.0 1229.7,651.8 1230.7,650.8 1231.7,650.9 1232.7,650.5 1233.7,650.3 1234.7,650.2 1235.7,651.6 1236.7,651.9 1237.7,651.4 1238.7,651.2 1239.7,650.8 1240.7,651.3 1241.7,653.2 1242.7,651.8 1243.7,651.4 1244.7,651.4 1245.7,652.3 1246.7,653.1 1247.7,651.2 1248.7,650.4 1249.7,651.3 1250.7,651.3 1251.7,650.9 1252.7,651.6 1253.7,650.6 1254.7,650.7 1255.7,652.3 1256.7,651.9 1257.7,651.8 1258.7,652.0 1259.7,651.4 1260.7,652.0 1261.7,651.8 1262.7,650.6 1263.7,651.7 1264.7,651.6 1265.7,650.7 1266.7,651.4 1267.7,651.4 1268.7,652.3 1269.7,652.6 1270.7,651.4 1271.7,651.5 1272.7,651.8 1273.7,651.2 1274.7,651.1 1275.7,650.4 1276.7,650.1 1277.7,651.2 1278.7,652.3 1279.7,651.1 1280.7,649.8 1281.7,650.0 1282.7,651.6 1283.7,651.7 1284.7,651.6 1285.7,651.5 1286.7,651.2 1287.7,650.5 1288.7,650.3 1289.7,651.2 1290.7,651.6 1291.7,651.7 1292.7,650.9 1293.7,651.0 1294.7,651.2 1295.7,650.9 1296.7,651.9 1297.7,651.7 1298.7,651.9 1299.7,652.1 1300.7,652.4 1301.7,652.4 1302.7,651.7 1303.7,652.8 1304.7,652.8 1305.7,652.3 1306.7,651.1 1307.7,651.6 1308.7,651.7 1309.7,651.2 1310.7,650.2 1311.7,650.2 1312.7,650.8 1313.7,651.1 1314.7,650.4 1315.7,650.4 1316.7,650.8 1317.7,650.9 1318.7,652.1 1319.7,651.5 1320.7,650.8 1321.7,651.9 1322.7,651.5 1323.7,650.9 1324.7,652.4 1325.7,652.5 1326.7,651.1 1327.7,650.7 1328.7,651.1 1329.7,649.9 1330.7,650.0 1331.7,650.7 1332.7,651.1 1333.7,652.1 1334.7,652.8 1335.7,652.5 1336.7,652.0 1337.7,651.5 1338.7,651.2 1339.7,651.4 1340.7,651.5 1341.7,650.8 1342.7,651.6 1343.7,653.2 1344.7,652.8 1345.7,652.6 1346.7,651.9 1347.7,651.1 1348.7,652.2 1349.7,652.7 1350.7,653.8 1351.7,652.9 1352.7,651.8 1353.7,652.8 1354.7,653.7 1355.7,652.4 1356.7,651.7 1357.7,652.0 1358.7,653.1 1359.7,652.1 1360.7,651.7 1361.7,651.1 1362.7,651.9 1363.7,653.8 1364.7,653.1 1365.7,651.4 1366.7,651.2 1367.7,651.6 1368.7,652.5 1369.7,652.5 1370.7,652.2 1371.7,651.6 1372.7,651.2 1373.7,652.6 1374.7,652.9 1375.7,651.6 1376.7,651.6 1377.7,651.5 1378.7,650.8 1379.7,650.6 1380.7,650.8 1381.7,650.1 1382.7,651.2 1383.7,652.5 1384.7,652.3 1385.7,652.6 1386.7,652.5 1387.7,651.1 1388.7,651.5 1389.7,652.4 1390.7,652.3" fill="none" stroke="#ff0f0f" stroke-width="6.4" stroke-linejoin="round" stroke-linecap="butt" />
<polyline points="126.7,496.6 127.7,495.4 128.7,494.1 129.7,492.7 130.7,491.9 131.7,493.6 132.7,493.4 133.7,493.7 134.7,493.8 135.7,493.5 136.7,492.3 137.7,492.8 138.7,493.4 139.7,494.2 140.7,493.9 141.7,493.0 142.7,492.8 143.7,492.1 144.7,493.2 145.7,493.3 146.7,492.2 147.7,492.2 148.7,493.9 149.7,494.0 150.7,493.4 151.7,493.3 152.7,494.4 153.7,494.5 154.7,494.4 155.7,493.3 156.7,494.0 157.7,494.8 158.7,493.4 159.7,492.4 160.7,492.7 161.7,491.9 162.7,492.3 163.7,493.4 164.7,494.6 165.7,495.3 166.7,493.7 167.7,494.0 168.7,494.6 169.7,493.7 170.7,493.8 171.7,494.2 172.7,493.5 173.7,493.8 174.7,493.1 175.7,492.5 176.7,493.8 177.7,494.3 178.7,494.4 179.7,494.8 180.7,495.0 181.7,493.8 182.7,493.5 183.7,493.3 184.7,492.5 185.7,492.5 186.7,493.4 187.7,495.2 188.7,494.7 189.7,495.0 190.7,494.8 191.7,494.0 192.7,494.3 193.7,493.3 194.7,493.1 195.7,494.7 196.7,493.8 197.7,493.0 198.7,493.3 199.7,494.3 200.7,495.4 201.7,495.1 202.7,495.6 203.7,495.7 204.7,495.0 205.7,495.5 206.7,494.9 207.7,494.0 208.7,495.3 209.7,493.9 210.7,493.6 211.7,494.3 212.7,494.5 213.7,493.4 214.7,491.7 215.7,491.6 216.7,493.5 217.7,493.8 218.7,493.8 219.7,494.1 220.7,494.7 221.7,494.5 222.7,494.8 223.7,493.9 224.7,493.4 225.7,495.0 226.7,495.6 227.7,493.8 228.7,493.3 229.7,494.4 230.7,494.5 231.7,494.0 232.7,492.7 233.7,491.8 234.7,492.4 235.7,493.1 236.7,492.1 237.7,492.6 238.7,492.6 239.7,493.0 240.7,493.2 241.7,492.5 242.7,493.5 243.7,493.6 244.7,492.9 245.7,493.6 246.7,494.0 247.7,493.4 248.7,493.7 249.7,492.2 250.7,492.9 251.7,494.0 252.7,493.8 253.7,493.6 254.7,493.6 255.7,493.4 256.7,493.7 257.7,494.9 258.7,495.0 259.7,493.8 260.7,493.8 261.7,493.6 262.7,492.8 263.7,493.7 264.7,493.7 265.7,492.4 266.7,492.4 267.7,493.4 268.7,494.2 269.7,495.0 270.7,494.3 271.7,494.1 272.7,494.9 273.7,494.3 274.7,493.9 275.7,494.1 276.7,493.2 277.7,493.6 278.7,493.3 279.7,492.8 280.7,492.9 281.7,493.2 282.7,492.1 283.7,491.8 284.7,492.3 285.7,493.3 286.7,492.7 287.7,492.8 288.7,493.7 289.7,493.6 290.7,494.7 291.7,495.2 292.7,492.6 293.7,493.5 294.7,494.0 295.7,493.3 296.7,494.5 297.7,494.8 298.7,493.8 299.7,493.7 300.7,494.1 301.7,493.2 302.7,492.7 303.7,493.3 304.7,493.9 305.7,494.4 306.7,494.9 307.7,494.7 308.7,493.5 309.7,493.0 310.7,492.2 311.7,491.7 312.7,492.3 313.7,492.7 314.7,494.1 315.7,493.5 316.7,492.8 317.7,492.5 318.7,493.0 319.7,493.5 320.7,493.8 321.7,492.8 322.7,493.8 323.7,495.0 324.7,493.7 325.7,492.8 326.7,493.1 327.7,494.0 328.7,493.9 329.7,494.8 330.7,494.9 331.7,495.6 332.7,496.3 333.7,495.7 334.7,495.0 335.7,495.2 336.7,494.2 337.7,494.9 338.7,494.8 339.7,494.3 340.7,494.0 341.7,493.0 342.7,493.6 343.7,493.3 344.7,493.4 345.7,493.4 346.7,492.6 347.7,492.6 348.7,492.2 349.7,493.0 350.7,493.0 351.7,493.3 352.7,491.6 353.7,491.5 354.7,493.5 355.7,493.5 356.7,493.4 357.7,493.7 358.7,492.5 359.7,492.8 360.7,494.3 361.7,493.7 362.7,493.0 363.7,492.9 364.7,492.6 365.7,492.8 366.7,492.6 367.7,494.3 368.7,495.1 369.7,494.0 370.7,493.9 371.7,495.1 372.7,494.7 373.7,494.5 374.7,494.7 375.7,493.7 376.7,493.9 377.7,492.2 378.7,491.1 379.7,492.4 380.7,492.2 381.7,492.0 382.7,492.5 383.7,492.2 384.7,494.2 385.7,494.7 386.7,493.3 387.7,493.3 388.7,493.0 389.7,493.1 390.7,493.5 391.7,493.9 392.7,493.1 393.7,492.7 394.7,494.1 395.7,493.6 396.7,493.1 397.7,493.0 398.7,493.7 399.7,494.7 400.7,494.0 401.7,493.2 402.7,493.1 403.7,492.6 404.7,492.2 405.7,492.3 406.7,492.2 407.7,492.8 408.7,493.3 409.7,492.5 410.7,492.8 411.7,493.9 412.7,493.0 413.7,490.8 414.7,490.6 415.7,490.8 416.7,490.8 417.7,488.9 418.7,486.9 419.7,485.9 420.7,484.7 421.7,483.4 422.7,483.3 423.7,483.8 424.7,485.2 425.7,487.2 426.7,487.3 427.7,487.4 428.7,489.2 429.7,491.7 430.7,492.6 431.7,491.8 432.7,493.0 433.7,494.2 434.7,494.5 435.7,495.2 436.7,495.5 437.7,494.8 438.7,494.1 439.7,493.6 440.7,494.0 441.7,493.2 442.7,493.5 443.7,494.3 444.7,494.5 445.7,494.8 446.7,496.0 447.7,496.7 448.7,495.9 449.7,496.5 450.7,494.8 451.7,493.4 452.7,494.1 453.7,496.1 454.7,496.4 455.7,496.6 456.7,496.7 457.7,496.0 458.7,495.1 459.7,497.0 460.7,496.6 461.7,494.3 462.7,494.5 463.7,495.2 464.7,495.6 465.7,495.9 466.7,495.8 467.7,495.0 468.7,495.5 469.7,497.6 470.7,498.4 471.7,496.4 472.7,496.0 473.7,495.2 474.7,495.0 475.7,496.5 476.7,495.8 477.7,495.7 478.7,496.7 479.7,497.3 480.7,497.3 481.7,496.9 482.7,496.3 483.7,495.0 484.7,495.6 485.7,496.8 486.7,496.5 487.7,497.1 488.7,496.6 489.7,495.4 490.7,496.4 491.7,496.0 492.7,495.3 493.7,495.4 494.7,496.0 495.7,496.4 496.7,496.1 497.7,496.3 498.7,496.9 499.7,496.2 500.7,495.5 501.7,496.3 502.7,495.8 503.7,497.1 504.7,496.3 505.7,494.8 506.7,494.7 507.7,495.4 508.7,494.3 509.7,494.4 510.7,494.1 511.7,493.1 512.7,494.0 513.7,494.8 514.7,494.4 515.7,493.8 516.7,494.2 517.7,494.0 518.7,492.1 519.7,491.3 520.7,492.1 521.7,491.9 522.7,490.4 523.7,486.2 524.7,481.4 525.7,475.3 526.7,468.5 527.7,461.1 528.7,453.5 529.7,445.1 530.7,438.7 531.7,436.2 532.7,437.6 533.7,441.7 534.7,447.5 535.7,454.3 536.7,462.4 537.7,469.6 538.7,476.2 539.7,482.4 540.7,486.4 541.7,489.3 542.7,490.8 543.7,491.6 544.7,493.0 545.7,493.7 546.7,494.9 547.7,494.6 548.7,492.8 549.7,493.8 550.7,494.8 551.7,494.1 552.7,494.0 553.7,495.8 554.7,497.4 555.7,497.1 556.7,496.4 557.7,497.5 558.7,496.8 559.7,496.1 560.7,496.5 561.7,496.6 562.7,495.8 563.7,495.5 564.7,497.0 565.7,497.2 566.7,497.9 567.7,497.1 568.7,497.2 569.7,497.7 570.7,496.3 571.7,496.3 572.7,497.1 573.7,497.1 574.7,497.0 575.7,497.7 576.7,497.7 577.7,496.5 578.7,497.0 579.7,497.1 580.7,496.2 581.7,496.8 582.7,496.8 583.7,496.0 584.7,496.2 585.7,495.6 586.7,496.0 587.7,497.8 588.7,497.7 589.7,496.9 590.7,496.9 591.7,496.6 592.7,497.8 593.7,498.3 594.7,497.0 595.7,496.3 596.7,495.7 597.7,495.5 598.7,495.6 599.7,495.7 600.7,496.6 601.7,497.3 602.7,498.1 603.7,498.4 604.7,497.4 605.7,497.4 606.7,497.8 607.7,498.4 608.7,499.3 609.7,498.4 610.7,497.6 611.7,496.0 612.7,496.7 613.7,498.0 614.7,496.4 615.7,496.2 616.7,498.3 617.7,497.5 618.7,497.9 619.7,498.3 620.7,496.9 621.7,497.6 622.7,498.0 623.7,496.1 624.7,496.6 625.7,495.9 626.7,496.3 627.7,496.7 628.7,496.2 629.7,496.5 630.7,497.4 631.7,498.1 632.7,497.7 633.7,497.4 634.7,498.1 635.7,497.5 636.7,497.4 637.7,497.2 638.7,496.5 639.7,497.9 640.7,498.3 641.7,498.1 642.7,498.4 643.7,497.0 644.7,495.4 645.7,495.8 646.7,496.1 647.7,496.4 648.7,495.7 649.7,496.2 650.7,496.2 651.7,495.1 652.7,496.0 653.7,498.2 654.7,498.3 655.7,497.0 656.7,497.1 657.7,497.5 658.7,497.4 659.7,496.8 660.7,496.1 661.7,496.9 662.7,497.4 663.7,498.2 664.7,499.1 665.7,498.1 666.7,496.5 667.7,497.0 668.7,496.6 669.7,497.0 670.7,497.7 671.7,497.6 672.7,498.3 673.7,498.6 674.7,496.9 675.7,496.4 676.7,496.3 677.7,496.5 678.7,496.3 679.7,496.9 680.7,497.6 681.7,497.0 682.7,496.3 683.7,495.6 684.7,495.5 685.7,497.0 686.7,496.5 687.7,496.0 688.7,497.2 689.7,497.4 690.7,497.2 691.7,497.6 692.7,497.2 693.7,497.1 694.7,498.4 695.7,497.9 696.7,496.3 697.7,497.0 698.7,497.6 699.7,498.5 700.7,498.2 701.7,497.3 702.7,496.4 703.7,497.1 704.7,497.8 705.7,497.4 706.7,497.0 707.7,498.2 708.7,498.8 709.7,498.3 710.7,497.9 711.7,497.7 712.7,497.2 713.7,497.8 714.7,498.9 715.7,500.2 716.7,499.5 717.7,498.6 718.7,498.9 719.7,498.0 720.7,498.1 721.7,497.9 722.7,498.4 723.7,499.9 724.7,499.2 725.7,498.1 726.7,498.3 727.7,499.1 728.7,498.2 729.7,498.6 730.7,497.8 731.7,497.5 732.7,498.6 733.7,498.7 734.7,498.4 735.7,497.8 736.7,498.0 737.7,498.4 738.7,498.0 739.7,497.6 740.7,497.6 741.7,498.3 742.7,498.0 743.7,497.6 744.7,498.3 745.7,498.5 746.7,498.5 747.7,497.6 748.7,497.3 749.7,497.1 750.7,497.6 751.7,498.1 752.7,497.5 753.7,496.8 754.7,496.8 755.7,497.4 756.7,498.0 757.7,497.8 758.7,497.5 759.7,497.6 760.7,497.8 761.7,498.9 762.7,499.4 763.7,498.1 764.7,497.4 765.7,497.0 766.7,498.0 767.7,498.9 768.7,497.4 769.7,496.4 770.7,497.1 771.7,496.8 772.7,496.4 773.7,496.0 774.7,497.6 775.7,496.9 776.7,496.4 777.7,498.0 778.7,498.3 779.7,497.3 780.7,498.2 781.7,498.4 782.7,497.2 783.7,497.7 784.7,497.4 785.7,497.7 786.7,498.2 787.7,498.4 788.7,498.8 789.7,498.6 790.7,498.6 791.7,498.1 792.7,497.8 793.7,497.7 794.7,497.2 795.7,496.4 796.7,497.8 797.7,498.3 798.7,498.7 799.7,500.6 800.7,500.1 801.7,497.8 802.7,498.5 803.7,499.1 804.7,497.6 805.7,497.5 806.7,497.9 807.7,495.6 808.7,495.8 809.7,496.4 810.7,496.9 811.7,497.1 812.7,497.8 813.7,497.8 814.7,497.6 815.7,495.8 816.7,495.8 817.7,497.7 818.7,497.7 819.7,495.6 820.7,494.7 821.7,496.6 822.7,497.5 823.7,496.7 824.7,496.3 825.7,496.6 826.7,496.6 827.7,496.0 828.7,495.4 829.7,495.7 830.7,496.8 831.7,497.3 832.7,496.8 833.7,497.8 834.7,497.5 835.7,497.5 836.7,497.8 837.7,497.6 838.7,497.2 839.7,496.5 840.7,495.9 841.7,496.6 842.7,497.1 843.7,496.7 844.7,497.4 845.7,496.8 846.7,497.3 847.7,498.6 848.7,497.7 849.7,497.3 850.7,498.5 851.7,497.0 852.7,496.0 853.7,495.9 854.7,496.3 855.7,494.9 856.7,495.6 857.7,495.0 858.7,494.5 859.7,494.2 860.7,494.7 861.7,495.3 862.7,495.5 863.7,495.3 864.7,494.3 865.7,493.6 866.7,492.4 867.7,492.5 868.7,491.5 869.7,488.8 870.7,486.9 871.7,487.8 872.7,486.8 873.7,485.4 874.7,485.7 875.7,485.4 876.7,485.5 877.7,488.1 878.7,488.0 879.7,488.8 880.7,490.0 881.7,490.1 882.7,491.7 883.7,493.3 884.7,493.4 885.7,494.4 886.7,494.2 887.7,493.9 888.7,494.6 889.7,495.8 890.7,497.0 891.7,497.2 892.7,496.2 893.7,495.8 894.7,496.5 895.7,495.8 896.7,495.5 897.7,496.8 898.7,497.2 899.7,497.3 900.7,497.3 901.7,497.4 902.7,496.9 903.7,496.5 904.7,495.9 905.7,496.2 906.7,496.5 907.7,498.0 908.7,498.6 909.7,497.7 910.7,497.9 911.7,498.2 912.7,498.3 913.7,498.4 914.7,498.6 915.7,498.6 916.7,498.2 917.7,497.7 918.7,498.0 919.7,496.7 920.7,496.6 921.7,497.5 922.7,497.6 923.7,497.4 924.7,496.7 925.7,498.1 926.7,498.9 927.7,497.1 928.7,498.3 929.7,498.1 930.7,498.7 931.7,499.9 932.7,499.4 933.7,499.2 934.7,498.8 935.7,497.2 936.7,498.2 937.7,498.7 938.7,498.1 939.7,499.5 940.7,499.3 941.7,498.1 942.7,499.0 943.7,499.2 944.7,498.9 945.7,498.4 946.7,499.1 947.7,500.4 948.7,498.7 949.7,497.1 950.7,498.6 951.7,499.4 952.7,499.4 953.7,500.2 954.7,498.8 955.7,498.5 956.7,498.9 957.7,499.0 958.7,499.1 959.7,498.5 960.7,498.7 961.7,498.4 962.7,499.5 963.7,499.8 964.7,498.6 965.7,499.5 966.7,500.9 967.7,500.5 968.7,499.6 969.7,498.3 970.7,498.6 971.7,498.1 972.7,498.2 973.7,499.4 974.7,499.2 975.7,500.1 976.7,500.1 977.7,498.5 978.7,498.6 979.7,499.3 980.7,499.2 981.7,498.2 982.7,498.0 983.7,497.8 984.7,497.9 985.7,499.0 986.7,499.6 987.7,499.4 988.7,499.4 989.7,500.3 990.7,500.0 991.7,497.5 992.7,498.0 993.7,499.5 994.7,500.3 995.7,499.5 996.7,499.5 997.7,500.9 998.7,500.2 999.7,498.9 1000.7,498.6 1001.7,499.3 1002.7,500.3 1003.7,500.8 1004.7,501.0 1005.7,501.6 1006.7,501.2 1007.7,500.9 1008.7,500.0 1009.7,499.3 1010.7,498.9 1011.7,498.9 1012.7,498.5 1013.7,499.9 1014.7,500.1 1015.7,499.2 1016.7,498.6 1017.7,500.1 1018.7,499.9 1019.7,499.7 1020.7,500.1 1021.7,500.0 1022.7,501.1 1023.7,500.9 1024.7,499.5 1025.7,500.5 1026.7,501.0 1027.7,500.4 1028.7,500.0 1029.7,500.1 1030.7,500.9 1031.7,501.7 1032.7,500.6 1033.7,500.1 1034.7,500.7 1035.7,501.2 1036.7,500.8 1037.7,500.3 1038.7,498.4 1039.7,499.5 1040.7,501.1 1041.7,501.2 1042.7,501.6 1043.7,501.9 1044.7,500.8 1045.7,500.9 1046.7,500.9 1047.7,501.1 1048.7,501.0 1049.7,500.7 1050.7,500.5 1051.7,500.3 1052.7,499.3 1053.7,499.3 1054.7,499.0 1055.7,499.3 1056.7,500.8 1057.7,502.0 1058.7,501.7 1059.7,500.3 1060.7,499.8 1061.7,501.4 1062.7,501.4 1063.7,501.2 1064.7,500.6 1065.7,500.0 1066.7,501.6 1067.7,501.8 1068.7,500.9 1069.7,500.4 1070.7,499.3 1071.7,499.7 1072.7,500.6 1073.7,499.5 1074.7,499.1 1075.7,498.4 1076.7,498.7 1077.7,500.1 1078.7,499.2 1079.7,498.4 1080.7,499.5 1081.7,499.3 1082.7,499.7 1083.7,500.4 1084.7,498.6 1085.7,498.8 1086.7,499.3 1087.7,497.9 1088.7,496.8 1089.7,496.7 1090.7,495.9 1091.7,495.7 1092.7,494.6 1093.7,493.7 1094.7,493.0 1095.7,493.2 1096.7,494.8 1097.7,494.8 1098.7,494.8 1099.7,495.6 1100.7,496.7 1101.7,497.2 1102.7,497.3 1103.7,496.9 1104.7,498.7 1105.7,498.9 1106.7,498.1 1107.7,498.5 1108.7,498.7 1109.7,498.9 1110.7,498.5 1111.7,498.4 1112.7,499.1 1113.7,498.1 1114.7,498.4 1115.7,498.0 1116.7,498.4 1117.7,499.7 1118.7,499.7 1119.7,499.5 1120.7,499.7 1121.7,499.8 1122.7,499.7 1123.7,500.4 1124.7,501.3 1125.7,500.9 1126.7,500.3 1127.7,501.9 1128.7,500.7 1129.7,499.6 1130.7,499.6 1131.7,498.8 1132.7,500.6 1133.7,501.4 1134.7,500.8 1135.7,499.7 1136.7,499.4 1137.7,499.2 1138.7,498.4 1139.7,498.7 1140.7,499.0 1141.7,500.1 1142.7,500.2 1143.7,499.5 1144.7,499.6 1145.7,499.5 1146.7,498.6 1147.7,499.3 1148.7,499.2 1149.7,498.6 1150.7,498.3 1151.7,498.7 1152.7,499.4 1153.7,498.9 1154.7,498.5 1155.7,498.8 1156.7,499.3 1157.7,499.3 1158.7,499.3 1159.7,499.5 1160.7,499.6 1161.7,497.9 1162.7,498.4 1163.7,500.0 1164.7,499.3 1165.7,497.7 1166.7,496.9 1167.7,497.5 1168.7,498.2 1169.7,498.8 1170.7,498.0 1171.7,497.3 1172.7,499.4 1173.7,499.5 1174.7,498.6 1175.7,499.1 1176.7,499.2 1177.7,499.3 1178.7,499.7 1179.7,500.1 1180.7,499.8 1181.7,500.8 1182.7,500.8 1183.7,500.5 1184.7,500.6 1185.7,501.0 1186.7,500.4 1187.7,500.3 1188.7,499.9 1189.7,499.5 1190.7,500.2 1191.7,500.7 1192.7,501.4 1193.7,500.1 1194.7,499.8 1195.7,500.7 1196.7,500.3 1197.7,500.7 1198.7,500.2 1199.7,499.2 1200.7,500.7 1201.7,502.9 1202.7,502.3 1203.7,501.6 1204.7,500.9 1205.7,501.2 1206.7,501.6 1207.7,500.1 1208.7,499.1 1209.7,499.0 1210.7,500.1 1211.7,501.2 1212.7,500.7 1213.7,500.4 1214.7,501.0 1215.7,500.8 1216.7,500.0 1217.7,499.2 1218.7,498.2 1219.7,499.5 1220.7,499.4 1221.7,498.3 1222.7,499.4 1223.7,499.1 1224.7,499.1 1225.7,500.5 1226.7,500.8 1227.7,501.6 1228.7,501.9 1229.7,501.7 1230.7,502.0 1231.7,502.0 1232.7,501.3 1233.7,501.0 1234.7,500.7 1235.7,501.3 1236.7,500.8 1237.7,500.4 1238.7,502.2 1239.7,502.3 1240.7,501.0 1241.7,500.3 1242.7,499.9 1243.7,500.6 1244.7,501.0 1245.7,500.4 1246.7,501.7 1247.7,501.4 1248.7,500.1 1249.7,500.3 1250.7,501.0 1251.7,501.8 1252.7,501.7 1253.7,501.9 1254.7,502.1 1255.7,501.6 1256.7,500.4 1257.7,501.0 1258.7,501.5 1259.7,500.6 1260.7,501.0 1261.7,501.2 1262.7,500.3 1263.7,500.9 1264.7,500.9 1265.7,500.8 1266.7,500.7 1267.7,500.2 1268.7,499.4 1269.7,499.4 1270.7,499.8 1271.7,500.2 1272.7,499.7 1273.7,499.4 1274.7,500.7 1275.7,501.3 1276.7,501.9 1277.7,501.2 1278.7,500.4 1279.7,501.5 1280.7,501.7 1281.7,499.9 1282.7,500.2 1283.7,499.6 1284.7,500.4 1285.7,501.5 1286.7,500.9 1287.7,500.3 1288.7,500.1 1289.7,501.0 1290.7,501.3 1291.7,502.2 1292.7,502.2 1293.7,499.9 1294.7,499.4 1295.7,500.1 1296.7,501.1 1297.7,501.7 1298.7,501.6 1299.7,501.5 1300.7,501.2 1301.7,502.2 1302.7,501.5 1303.7,499.6 1304.7,499.0 1305.7,501.1 1306.7,501.5 1307.7,501.3 1308.7,500.8 1309.7,501.6 1310.7,502.4 1311.7,502.1 1312.7,501.3 1313.7,501.6 1314.7,501.7 1315.7,502.0 1316.7,502.8 1317.7,501.0 1318.7,499.1 1319.7,500.0 1320.7,501.0 1321.7,499.8 1322.7,499.1 1323.7,499.4 1324.7,499.8 1325.7,500.2 1326.7,500.6 1327.7,501.2 1328.7,502.0 1329.7,502.4 1330.7,502.2 1331.7,501.9 1332.7,501.4 1333.7,501.9 1334.7,501.9 1335.7,501.8 1336.7,501.5 1337.7,501.0 1338.7,500.7 1339.7,499.7 1340.7,499.5 1341.7,499.9 1342.7,500.3 1343.7,500.7 1344.7,500.6 1345.7,500.8 1346.7,501.0 1347.7,501.2 1348.7,501.6 1349.7,501.6 1350.7,501.7 1351.7,502.0 1352.7,501.9 1353.7,501.6 1354.7,502.0 1355.7,501.4 1356.7,501.2 1357.7,502.1 1358.7,501.6 1359.7,502.1 1360.7,501.9 1361.7,501.1 1362.7,501.4 1363.7,500.5 1364.7,500.2 1365.7,500.4 1366.7,500.1 1367.7,501.7 1368.7,502.9 1369.7,503.1 1370.7,501.4 1371.7,500.4 1372.7,501.9 1373.7,501.9 1374.7,501.8 1375.7,501.5 1376.7,500.1 1377.7,499.8 1378.7,500.1 1379.7,501.3 1380.7,501.7 1381.7,501.8 1382.7,502.2 1383.7,502.2 1384.7,501.8 1385.7,501.0 1386.7,502.5 1387.7,501.6 1388.7,500.7 1389.7,502.3 1390.7,502.2" fill="none" stroke="#0b4ca8" stroke-width="6.4" stroke-linejoin="round" stroke-linecap="butt" />
<polyline points="126.7,397.7 127.7,397.7 128.7,396.9 129.7,396.5 130.7,396.2 131.7,394.6 132.7,394.4 133.7,395.4 134.7,395.7 135.7,395.5 136.7,396.0 137.7,397.2 138.7,397.2 139.7,398.2 140.7,397.3 141.7,397.7 142.7,397.6 143.7,398.3 144.7,398.5 145.7,397.6 146.7,396.6 147.7,396.8 148.7,397.1 149.7,396.5 150.7,397.4 151.7,398.3 152.7,398.8 153.7,397.3 154.7,397.1 155.7,397.3 156.7,396.1 157.7,397.5 158.7,398.1 159.7,396.3 160.7,396.1 161.7,398.1 162.7,399.4 163.7,399.3 164.7,397.6 165.7,397.5 166.7,396.8 167.7,396.8 168.7,396.2 169.7,395.7 170.7,396.2 171.7,397.2 172.7,396.9 173.7,397.3 174.7,397.9 175.7,397.7 176.7,398.7 177.7,397.8 178.7,396.7 179.7,398.1 180.7,397.9 181.7,397.1 182.7,397.0 183.7,396.7 184.7,398.1 185.7,398.6 186.7,399.3 187.7,399.0 188.7,398.1 189.7,397.3 190.7,397.6 191.7,396.6 192.7,396.6 193.7,396.8 194.7,396.5 195.7,397.9 196.7,398.6 197.7,397.9 198.7,398.3 199.7,398.3 200.7,398.3 201.7,398.2 202.7,397.0 203.7,397.5 204.7,398.0 205.7,397.6 206.7,396.5 207.7,395.5 208.7,394.6 209.7,394.5 210.7,395.1 211.7,396.9 212.7,397.2 213.7,395.9 214.7,397.3 215.7,397.9 216.7,397.9 217.7,397.8 218.7,397.5 219.7,397.1 220.7,396.9 221.7,397.3 222.7,397.0 223.7,396.8 224.7,396.7 225.7,397.1 226.7,398.3 227.7,398.3 228.7,398.4 229.7,398.0 230.7,398.1 231.7,398.5 232.7,397.8 233.7,397.6 234.7,398.3 235.7,398.1 236.7,398.6 237.7,398.9 238.7,396.5 239.7,396.2 240.7,396.1 241.7,396.3 242.7,397.6 243.7,397.5 244.7,397.2 245.7,397.8 246.7,397.5 247.7,398.4 248.7,397.9 249.7,396.8 250.7,397.1 251.7,398.0 252.7,397.6 253.7,397.7 254.7,397.1 255.7,395.6 256.7,396.3 257.7,397.3 258.7,396.0 259.7,396.3 260.7,397.6 261.7,398.0 262.7,397.9 263.7,397.8 264.7,397.1 265.7,396.2 266.7,395.9 267.7,396.0 268.7,396.5 269.7,396.8 270.7,397.3 271.7,397.9 272.7,398.1 273.7,398.4 274.7,398.9 275.7,399.7 276.7,398.7 277.7,398.0 278.7,397.4 279.7,397.3 280.7,398.1 281.7,397.4 282.7,396.8 283.7,396.9 284.7,396.6 285.7,397.0 286.7,397.1 287.7,397.5 288.7,396.7 289.7,395.7 290.7,396.2 291.7,396.0 292.7,396.3 293.7,395.6 294.7,395.6 295.7,395.9 296.7,395.8 297.7,397.0 298.7,397.8 299.7,397.8 300.7,397.9 301.7,397.6 302.7,397.7 303.7,397.9 304.7,396.5 305.7,396.1 306.7,396.4 307.7,397.4 308.7,397.0 309.7,396.3 310.7,396.0 311.7,396.6 312.7,396.6 313.7,396.0 314.7,396.7 315.7,396.2 316.7,395.5 317.7,396.9 318.7,397.4 319.7,397.3 320.7,397.0 321.7,397.9 322.7,398.1 323.7,398.1 324.7,397.9 325.7,397.2 326.7,397.1 327.7,397.6 328.7,398.1 329.7,398.6 330.7,398.2 331.7,396.7 332.7,396.2 333.7,397.9 334.7,397.9 335.7,397.3 336.7,398.4 337.7,397.8 338.7,396.8 339.7,396.5 340.7,396.0 341.7,397.1 342.7,398.0 343.7,396.8 344.7,396.6 345.7,397.5 346.7,397.4 347.7,397.7 348.7,397.1 349.7,396.8 350.7,397.4 351.7,398.1 352.7,399.3 353.7,397.9 354.7,395.9 355.7,396.2 356.7,397.3 357.7,396.9 358.7,398.4 359.7,398.5 360.7,397.9 361.7,396.9 362.7,397.3 363.7,397.3 364.7,397.6 365.7,398.3 366.7,399.2 367.7,398.3 368.7,397.5 369.7,397.2 370.7,398.0 371.7,396.3 372.7,395.7 373.7,396.6 374.7,395.9 375.7,396.0 376.7,396.7 377.7,397.9 378.7,398.3 379.7,396.9 380.7,396.3 381.7,397.6 382.7,397.7 383.7,397.1 384.7,398.0 385.7,397.6 386.7,397.0 387.7,397.0 388.7,397.5 389.7,397.5 390.7,397.3 391.7,397.4 392.7,397.2 393.7,397.0 394.7,396.9 395.7,396.4 396.7,397.1 397.7,395.6 398.7,395.3 399.7,396.8 400.7,396.7 401.7,395.5 402.7,396.5 403.7,396.2 404.7,395.7 405.7,396.2 406.7,396.9 407.7,396.8 408.7,396.0 409.7,396.9 410.7,396.8 411.7,396.2 412.7,397.7 413.7,396.8 414.7,393.5 415.7,394.6 416.7,395.9 417.7,393.7 418.7,392.9 419.7,391.6 420.7,389.5 421.7,388.4 422.7,386.2 423.7,385.0 424.7,384.2 425.7,383.7 426.7,383.4 427.7,382.5 428.7,381.9 429.7,384.3 430.7,386.0 431.7,387.4 432.7,389.8 433.7,392.1 434.7,393.8 435.7,394.4 436.7,395.0 437.7,396.7 438.7,397.7 439.7,396.7 440.7,396.8 441.7,397.9 442.7,399.1 443.7,399.2 444.7,400.3 445.7,401.8 446.7,401.3 447.7,402.5 448.7,402.4 449.7,402.6 450.7,402.0 451.7,402.2 452.7,401.7 453.7,401.7 454.7,402.4 455.7,401.9 456.7,402.2 457.7,403.1 458.7,401.5 459.7,401.4 460.7,401.6 461.7,401.3 462.7,402.0 463.7,401.5 464.7,401.5 465.7,403.2 466.7,402.5 467.7,401.8 468.7,402.5 469.7,402.8 470.7,402.8 471.7,402.7 472.7,403.2 473.7,403.5 474.7,402.2 475.7,401.7 476.7,402.0 477.7,402.3 478.7,402.3 479.7,402.3 480.7,403.2 481.7,403.6 482.7,402.9 483.7,403.3 484.7,403.6 485.7,402.8 486.7,401.5 487.7,402.8 488.7,403.2 489.7,401.9 490.7,402.4 491.7,403.8 492.7,403.3 493.7,402.2 494.7,401.9 495.7,402.8 496.7,403.2 497.7,402.2 498.7,403.0 499.7,403.1 500.7,402.6 501.7,402.6 502.7,402.9 503.7,402.3 504.7,402.1 505.7,402.2 506.7,401.0 507.7,401.3 508.7,402.5 509.7,401.0 510.7,401.5 511.7,402.8 512.7,402.4 513.7,400.8 514.7,399.9 515.7,400.3 516.7,400.3 517.7,399.4 518.7,400.0 519.7,401.5 520.7,401.8 521.7,401.5 522.7,400.9 523.7,400.7 524.7,400.1 525.7,397.8 526.7,396.5 527.7,395.2 528.7,393.5 529.7,390.8 530.7,387.2 531.7,383.6 532.7,381.1 533.7,378.2 534.7,375.9 535.7,373.8 536.7,374.0 537.7,376.2 538.7,380.0 539.7,384.1 540.7,386.9 541.7,390.2 542.7,392.2 543.7,393.5 544.7,395.9 545.7,397.3 546.7,398.3 547.7,399.4 548.7,400.7 549.7,399.9 550.7,399.3 551.7,400.7 552.7,401.6 553.7,401.3 554.7,401.4 555.7,401.7 556.7,403.3 557.7,403.6 558.7,402.0 559.7,402.1 560.7,402.6 561.7,402.6 562.7,402.7 563.7,403.2 564.7,403.7 565.7,404.6 566.7,404.7 567.7,404.5 568.7,403.8 569.7,404.0 570.7,404.1 571.7,404.2 572.7,404.6 573.7,404.8 574.7,403.6 575.7,402.2 576.7,402.9 577.7,402.6 578.7,402.2 579.7,402.3 580.7,402.3 581.7,403.8 582.7,404.0 583.7,403.4 584.7,403.0 585.7,402.9 586.7,403.1 587.7,403.6 588.7,404.8 589.7,405.5 590.7,404.9 591.7,404.2 592.7,403.5 593.7,403.6 594.7,404.3 595.7,403.8 596.7,402.7 597.7,403.2 598.7,404.2 599.7,404.1 600.7,403.7 601.7,403.6 602.7,402.4 603.7,404.2 604.7,405.4 605.7,404.0 606.7,402.3 607.7,402.4 608.7,403.5 609.7,404.0 610.7,403.5 611.7,403.6 612.7,405.0 613.7,404.5 614.7,403.6 615.7,403.6 616.7,404.5 617.7,404.7 618.7,404.1 619.7,402.9 620.7,403.2 621.7,403.8 622.7,403.3 623.7,403.3 624.7,403.5 625.7,402.4 626.7,402.2 627.7,403.5 628.7,405.2 629.7,405.5 630.7,404.5 631.7,403.7 632.7,403.2 633.7,403.1 634.7,403.0 635.7,403.1 636.7,403.4 637.7,404.2 638.7,404.6 639.7,404.4 640.7,404.3 641.7,404.5 642.7,405.9 643.7,405.0 644.7,402.8 645.7,403.8 646.7,404.4 647.7,403.8 648.7,403.8 649.7,404.2 650.7,404.7 651.7,405.0 652.7,404.0 653.7,403.1 654.7,402.5 655.7,402.4 656.7,403.6 657.7,403.5 658.7,403.1 659.7,404.3 660.7,404.6 661.7,405.0 662.7,404.9 663.7,405.4 664.7,404.9 665.7,403.7 666.7,405.2 667.7,406.6 668.7,405.6 669.7,405.4 670.7,406.0 671.7,406.4 672.7,405.6 673.7,404.9 674.7,403.9 675.7,403.3 676.7,403.1 677.7,403.3 678.7,402.8 679.7,402.7 680.7,403.2 681.7,403.5 682.7,404.3 683.7,405.5 684.7,404.3 685.7,404.8 686.7,405.0 687.7,405.2 688.7,405.0 689.7,404.7 690.7,404.4 691.7,404.1 692.7,404.2 693.7,404.3 694.7,404.2 695.7,403.1 696.7,403.3 697.7,403.6 698.7,403.3 699.7,404.9 700.7,405.7 701.7,405.3 702.7,404.0 703.7,403.5 704.7,404.9 705.7,405.0 706.7,403.2 707.7,402.6 708.7,402.5 709.7,403.6 710.7,404.0 711.7,403.3 712.7,404.0 713.7,404.7 714.7,404.6 715.7,404.0 716.7,404.5 717.7,405.4 718.7,404.5 719.7,403.1 720.7,404.7 721.7,405.5 722.7,404.3 723.7,403.3 724.7,402.9 725.7,403.5 726.7,404.6 727.7,404.9 728.7,403.5 729.7,404.4 730.7,405.8 731.7,405.3 732.7,404.0 733.7,402.9 734.7,403.6 735.7,404.2 736.7,405.0 737.7,405.4 738.7,404.2 739.7,404.7 740.7,404.9 741.7,404.5 742.7,403.8 743.7,404.5 744.7,404.0 745.7,403.7 746.7,404.0 747.7,404.1 748.7,403.4 749.7,403.7 750.7,403.8 751.7,403.5 752.7,403.0 753.7,403.2 754.7,404.4 755.7,405.5 756.7,405.6 757.7,404.9 758.7,404.8 759.7,405.7 760.7,405.2 761.7,405.3 762.7,405.7 763.7,405.5 764.7,404.4 765.7,404.6 766.7,404.4 767.7,404.5 768.7,405.1 769.7,405.2 770.7,404.5 771.7,403.8 772.7,404.7 773.7,405.1 774.7,404.5 775.7,404.2 776.7,405.1 777.7,405.0 778.7,402.8 779.7,403.0 780.7,403.2 781.7,403.0 782.7,404.0 783.7,403.8 784.7,404.1 785.7,405.1 786.7,405.0 787.7,404.7 788.7,404.7 789.7,405.0 790.7,404.5 791.7,404.7 792.7,404.2 793.7,404.4 794.7,404.5 795.7,403.9 796.7,403.9 797.7,404.5 798.7,404.5 799.7,405.1 800.7,405.2 801.7,403.3 802.7,403.6 803.7,403.6 804.7,403.7 805.7,404.5 806.7,404.3 807.7,403.7 808.7,403.2 809.7,402.9 810.7,402.9 811.7,403.6 812.7,403.3 813.7,403.9 814.7,404.4 815.7,403.8 816.7,402.1 817.7,403.7 818.7,404.9 819.7,403.1 820.7,402.6 821.7,404.7 822.7,405.9 823.7,406.5 824.7,406.5 825.7,406.5 826.7,406.5 827.7,405.5 828.7,404.3 829.7,404.3 830.7,403.9 831.7,403.9 832.7,403.7 833.7,404.6 834.7,404.3 835.7,403.7 836.7,403.6 837.7,402.8 838.7,403.8 839.7,404.5 840.7,404.2 841.7,404.8 842.7,404.2 843.7,403.6 844.7,404.7 845.7,404.3 846.7,403.8 847.7,404.7 848.7,405.2 849.7,404.4 850.7,404.2 851.7,404.3 852.7,404.5 853.7,404.3 854.7,403.4 855.7,403.1 856.7,403.9 857.7,404.1 858.7,404.5 859.7,403.6 860.7,403.6 861.7,403.8 862.7,403.2 863.7,402.6 864.7,402.3 865.7,401.7 866.7,401.4 867.7,402.3 868.7,402.3 869.7,400.0 870.7,398.9 871.7,399.7 872.7,398.9 873.7,398.6 874.7,398.3 875.7,398.1 876.7,395.9 877.7,395.8 878.7,397.1 879.7,397.0 880.7,396.0 881.7,394.9 882.7,395.0 883.7,396.0 884.7,396.5 885.7,395.7 886.7,395.9 887.7,397.3 888.7,397.3 889.7,397.9 890.7,399.2 891.7,399.7 892.7,399.3 893.7,400.5 894.7,401.8 895.7,402.2 896.7,401.8 897.7,402.0 898.7,402.3 899.7,402.5 900.7,403.3 901.7,404.4 902.7,404.2 903.7,404.1 904.7,405.1 905.7,405.7 906.7,405.3 907.7,406.0 908.7,406.1 909.7,406.4 910.7,405.8 911.7,406.3 912.7,405.7 913.7,405.1 914.7,406.1 915.7,406.9 916.7,406.0 917.7,406.1 918.7,406.8 919.7,407.0 920.7,407.7 921.7,406.8 922.7,406.1 923.7,405.5 924.7,406.3 925.7,407.3 926.7,407.0 927.7,406.0 928.7,405.7 929.7,405.3 930.7,405.8 931.7,407.0 932.7,406.8 933.7,406.5 934.7,406.7 935.7,406.3 936.7,405.7 937.7,405.0 938.7,405.0 939.7,406.1 940.7,406.4 941.7,405.7 942.7,404.8 943.7,404.6 944.7,405.5 945.7,405.8 946.7,405.6 947.7,405.4 948.7,406.3 949.7,405.7 950.7,405.7 951.7,407.3 952.7,408.3 953.7,406.9 954.7,406.4 955.7,406.9 956.7,407.3 957.7,407.7 958.7,407.8 959.7,407.5 960.7,407.5 961.7,408.3 962.7,407.5 963.7,407.4 964.7,407.5 965.7,406.8 966.7,406.4 967.7,406.4 968.7,406.2 969.7,405.0 970.7,405.5 971.7,406.1 972.7,406.1 973.7,406.1 974.7,406.4 975.7,407.1 976.7,406.4 977.7,406.9 978.7,407.7 979.7,406.3 980.7,407.8 981.7,409.0 982.7,408.1 983.7,407.7 984.7,407.8 985.7,407.7 986.7,407.8 987.7,407.9 988.7,407.1 989.7,407.0 990.7,407.9 991.7,407.5 992.7,407.5 993.7,407.9 994.7,408.5 995.7,409.1 996.7,407.8 997.7,407.6 998.7,407.7 999.7,406.9 1000.7,407.1 1001.7,407.9 1002.7,408.0 1003.7,408.3 1004.7,407.8 1005.7,407.9 1006.7,407.0 1007.7,407.4 1008.7,406.7 1009.7,407.3 1010.7,408.2 1011.7,407.1 1012.7,406.9 1013.7,408.4 1014.7,407.5 1015.7,407.9 1016.7,408.6 1017.7,407.9 1018.7,406.6 1019.7,407.0 1020.7,407.3 1021.7,408.1 1022.7,408.7 1023.7,408.2 1024.7,407.9 1025.7,407.5 1026.7,407.2 1027.7,406.8 1028.7,408.1 1029.7,408.7 1030.7,408.5 1031.7,407.6 1032.7,406.6 1033.7,406.3 1034.7,406.6 1035.7,407.0 1036.7,408.1 1037.7,407.8 1038.7,407.9 1039.7,408.4 1040.7,408.4 1041.7,408.5 1042.7,408.6 1043.7,408.5 1044.7,408.3 1045.7,408.0 1046.7,407.5 1047.7,408.0 1048.7,408.1 1049.7,407.6 1050.7,406.8 1051.7,407.1 1052.7,408.4 1053.7,408.9 1054.7,408.5 1055.7,409.3 1056.7,409.0 1057.7,409.8 1058.7,409.3 1059.7,407.0 1060.7,406.5 1061.7,406.8 1062.7,406.8 1063.7,407.2 1064.7,407.3 1065.7,407.3 1066.7,407.0 1067.7,407.9 1068.7,407.8 1069.7,407.9 1070.7,407.7 1071.7,406.7 1072.7,407.0 1073.7,408.2 1074.7,408.0 1075.7,408.5 1076.7,407.5 1077.7,408.0 1078.7,408.2 1079.7,406.6 1080.7,406.9 1081.7,407.2 1082.7,407.2 1083.7,407.0 1084.7,406.5 1085.7,406.4 1086.7,406.4 1087.7,404.4 1088.7,403.8 1089.7,404.0 1090.7,403.8 1091.7,403.9 1092.7,402.9 1093.7,402.6 1094.7,402.9 1095.7,402.9 1096.7,403.4 1097.7,403.8 1098.7,402.9 1099.7,403.8 1100.7,404.1 1101.7,404.5 1102.7,404.2 1103.7,404.2 1104.7,405.0 1105.7,405.3 1106.7,407.0 1107.7,406.6 1108.7,405.1 1109.7,406.4 1110.7,407.4 1111.7,407.1 1112.7,407.2 1113.7,407.7 1114.7,407.5 1115.7,406.8 1116.7,408.5 1117.7,408.9 1118.7,407.6 1119.7,406.6 1120.7,406.0 1121.7,407.0 1122.7,409.1 1123.7,408.4 1124.7,407.9 1125.7,408.1 1126.7,407.9 1127.7,407.1 1128.7,406.3 1129.7,407.0 1130.7,408.4 1131.7,409.1 1132.7,408.2 1133.7,407.2 1134.7,408.4 1135.7,409.2 1136.7,407.9 1137.7,407.7 1138.7,408.6 1139.7,409.3 1140.7,409.1 1141.7,407.6 1142.7,407.0 1143.7,406.5 1144.7,407.7 1145.7,407.6 1146.7,407.3 1147.7,407.1 1148.7,406.7 1149.7,406.5 1150.7,407.1 1151.7,408.8 1152.7,409.8 1153.7,409.1 1154.7,408.8 1155.7,408.3 1156.7,406.8 1157.7,407.9 1158.7,408.0 1159.7,408.4 1160.7,409.6 1161.7,408.3 1162.7,407.0 1163.7,407.6 1164.7,407.9 1165.7,408.5 1166.7,407.8 1167.7,407.4 1168.7,407.9 1169.7,409.7 1170.7,408.6 1171.7,407.5 1172.7,407.3 1173.7,409.9 1174.7,409.6 1175.7,409.3 1176.7,407.9 1177.7,407.3 1178.7,408.3 1179.7,408.7 1180.7,408.2 1181.7,408.3 1182.7,408.9 1183.7,408.3 1184.7,407.8 1185.7,407.9 1186.7,407.7 1187.7,406.4 1188.7,406.2 1189.7,407.3 1190.7,408.1 1191.7,407.5 1192.7,407.5 1193.7,407.4 1194.7,408.7 1195.7,408.6 1196.7,407.3 1197.7,406.9 1198.7,407.4 1199.7,408.1 1200.7,408.3 1201.7,408.6 1202.7,408.4 1203.7,408.1 1204.7,408.0 1205.7,408.0 1206.7,408.2 1207.7,408.8 1208.7,408.8 1209.7,408.4 1210.7,408.1 1211.7,408.3 1212.7,408.2 1213.7,408.3 1214.7,409.2 1215.7,408.1 1216.7,407.9 1217.7,408.3 1218.7,408.2 1219.7,407.0 1220.7,407.4 1221.7,408.3 1222.7,407.7 1223.7,407.1 1224.7,407.7 1225.7,408.6 1226.7,408.2 1227.7,409.0 1228.7,409.1 1229.7,408.5 1230.7,408.4 1231.7,408.1 1232.7,408.9 1233.7,409.0 1234.7,409.0 1235.7,408.9 1236.7,409.1 1237.7,409.7 1238.7,409.1 1239.7,408.6 1240.7,408.3 1241.7,408.7 1242.7,409.7 1243.7,410.1 1244.7,409.3 1245.7,409.1 1246.7,409.1 1247.7,408.5 1248.7,408.6 1249.7,408.5 1250.7,409.1 1251.7,410.9 1252.7,410.6 1253.7,409.5 1254.7,409.9 1255.7,409.5 1256.7,409.4 1257.7,409.5 1258.7,409.0 1259.7,409.8 1260.7,410.6 1261.7,409.7 1262.7,408.5 1263.7,407.9 1264.7,408.5 1265.7,408.8 1266.7,408.5 1267.7,409.2 1268.7,409.5 1269.7,408.3 1270.7,408.6 1271.7,407.8 1272.7,406.6 1273.7,408.1 1274.7,408.4 1275.7,407.5 1276.7,408.5 1277.7,410.2 1278.7,410.1 1279.7,409.2 1280.7,409.0 1281.7,409.7 1282.7,408.9 1283.7,407.9 1284.7,407.6 1285.7,407.6 1286.7,407.1 1287.7,407.0 1288.7,407.3 1289.7,408.0 1290.7,409.1 1291.7,409.1 1292.7,410.3 1293.7,410.2 1294.7,408.8 1295.7,408.0 1296.7,408.2 1297.7,409.4 1298.7,408.5 1299.7,407.7 1300.7,408.7 1301.7,409.4 1302.7,409.5 1303.7,409.8 1304.7,410.0 1305.7,409.2 1306.7,408.1 1307.7,408.7 1308.7,407.7 1309.7,409.0 1310.7,410.4 1311.7,410.1 1312.7,409.6 1313.7,409.8 1314.7,409.9 1315.7,409.5 1316.7,409.4 1317.7,410.2 1318.7,408.9 1319.7,408.0 1320.7,407.9 1321.7,408.4 1322.7,409.5 1323.7,409.2 1324.7,409.2 1325.7,409.8 1326.7,408.5 1327.7,408.6 1328.7,408.8 1329.7,406.9 1330.7,407.6 1331.7,408.5 1332.7,409.2 1333.7,409.3 1334.7,408.6 1335.7,408.5 1336.7,408.4 1337.7,408.2 1338.7,408.5 1339.7,409.1 1340.7,408.7 1341.7,408.9 1342.7,408.5 1343.7,409.9 1344.7,410.0 1345.7,408.5 1346.7,407.6 1347.7,407.7 1348.7,408.1 1349.7,408.5 1350.7,407.6 1351.7,407.6 1352.7,409.6 1353.7,410.1 1354.7,409.4 1355.7,409.3 1356.7,409.1 1357.7,409.7 1358.7,410.3 1359.7,410.3 1360.7,409.4 1361.7,408.2 1362.7,408.5 1363.7,408.5 1364.7,408.4 1365.7,409.0 1366.7,409.1 1367.7,407.2 1368.7,406.7 1369.7,407.9 1370.7,408.5 1371.7,408.7 1372.7,409.2 1373.7,408.3 1374.7,408.0 1375.7,407.3 1376.7,407.9 1377.7,407.0 1378.7,407.5 1379.7,409.8 1380.7,410.2 1381.7,409.6 1382.7,409.4 1383.7,409.5 1384.7,409.4 1385.7,409.5 1386.7,409.7 1387.7,408.4 1388.7,407.6 1389.7,407.4 1390.7,406.7" fill="none" stroke="#c853a6" stroke-width="6.4" stroke-linejoin="round" stroke-linecap="butt" />
<polyline points="126.7,333.9 127.7,333.5 128.7,334.8 129.7,335.0 130.7,334.1 131.7,335.0 132.7,333.8 133.7,332.1 134.7,332.5 135.7,332.6 136.7,331.9 137.7,331.3 138.7,332.1 139.7,332.1 140.7,331.7 141.7,331.1 142.7,333.3 143.7,334.3 144.7,332.7 145.7,331.6 146.7,332.3 147.7,331.5 148.7,331.3 149.7,330.9 150.7,331.9 151.7,333.3 152.7,332.9 153.7,332.2 154.7,331.4 155.7,331.9 156.7,332.6 157.7,332.8 158.7,331.4 159.7,332.0 160.7,332.0 161.7,332.9 162.7,332.7 163.7,334.0 164.7,333.6 165.7,334.3 166.7,333.8 167.7,332.3 168.7,332.4 169.7,333.3 170.7,333.2 171.7,333.8 172.7,334.0 173.7,333.6 174.7,333.0 175.7,332.4 176.7,333.4 177.7,333.6 178.7,331.9 179.7,331.4 180.7,332.0 181.7,333.1 182.7,333.7 183.7,334.4 184.7,335.1 185.7,333.3 186.7,332.8 187.7,333.3 188.7,332.9 189.7,331.5 190.7,331.7 191.7,331.7 192.7,332.4 193.7,332.4 194.7,330.1 195.7,330.7 196.7,331.5 197.7,332.2 198.7,333.8 199.7,332.6 200.7,330.2 201.7,329.0 202.7,330.1 203.7,331.1 204.7,329.9 205.7,330.2 206.7,332.0 207.7,332.8 208.7,331.8 209.7,332.6 210.7,332.7 211.7,332.9 212.7,331.6 213.7,330.4 214.7,330.1 215.7,330.6 216.7,331.2 217.7,331.2 218.7,330.9 219.7,331.3 220.7,331.2 221.7,332.6 222.7,332.5 223.7,331.5 224.7,332.0 225.7,331.7 226.7,331.6 227.7,331.4 228.7,329.0 229.7,329.3 230.7,331.6 231.7,331.5 232.7,330.7 233.7,332.2 234.7,331.4 235.7,330.5 236.7,330.6 237.7,329.1 238.7,329.4 239.7,330.4 240.7,327.8 241.7,327.0 242.7,328.5 243.7,330.7 244.7,330.1 245.7,328.5 246.7,329.6 247.7,330.4 248.7,329.6 249.7,328.7 250.7,327.9 251.7,327.9 252.7,328.8 253.7,328.3 254.7,326.8 255.7,328.7 256.7,329.7 257.7,329.2 258.7,329.0 259.7,329.4 260.7,329.5 261.7,331.4 262.7,331.6 263.7,330.8 264.7,329.7 265.7,330.0 266.7,330.4 267.7,330.6 268.7,330.4 269.7,329.7 270.7,327.4 271.7,328.4 272.7,329.4 273.7,329.0 274.7,328.2 275.7,327.3 276.7,328.4 277.7,329.6 278.7,328.1 279.7,328.1 280.7,328.3 281.7,328.8 282.7,330.2 283.7,329.6 284.7,327.9 285.7,328.1 286.7,328.5 287.7,328.7 288.7,329.4 289.7,328.7 290.7,328.4 291.7,328.5 292.7,327.6 293.7,327.5 294.7,327.2 295.7,325.7 296.7,326.6 297.7,326.5 298.7,326.8 299.7,328.3 300.7,327.7 301.7,327.8 302.7,327.2 303.7,325.6 304.7,326.4 305.7,327.7 306.7,327.6 307.7,327.5 308.7,326.9 309.7,327.4 310.7,326.7 311.7,326.8 312.7,327.2 313.7,326.9 314.7,326.3 315.7,326.2 316.7,326.8 317.7,328.0 318.7,327.9 319.7,327.6 320.7,326.3 321.7,326.2 322.7,326.8 323.7,326.8 324.7,326.9 325.7,327.6 326.7,327.0 327.7,325.9 328.7,325.9 329.7,325.3 330.7,325.3 331.7,326.3 332.7,327.2 333.7,327.3 334.7,326.0 335.7,326.8 336.7,326.7 337.7,324.2 338.7,323.8 339.7,324.2 340.7,324.2 341.7,324.0 342.7,323.1 343.7,324.2 344.7,324.3 345.7,322.9 346.7,323.5 347.7,323.4 348.7,323.4 349.7,325.0 350.7,324.5 351.7,323.5 352.7,323.9 353.7,324.0 354.7,324.8 355.7,324.8 356.7,324.0 357.7,323.3 358.7,323.4 359.7,324.1 360.7,323.2 361.7,322.5 362.7,321.3 363.7,321.7 364.7,321.5 365.7,320.1 366.7,320.7 367.7,321.9 368.7,322.1 369.7,321.4 370.7,321.3 371.7,321.5 372.7,320.7 373.7,321.1 374.7,321.5 375.7,321.4 376.7,321.5 377.7,321.4 378.7,321.9 379.7,321.3 380.7,321.6 381.7,321.6 382.7,321.5 383.7,321.9 384.7,320.7 385.7,320.0 386.7,321.6 387.7,321.8 388.7,321.9 389.7,321.4 390.7,321.4 391.7,322.3 392.7,322.6 393.7,322.4 394.7,321.5 395.7,321.0 396.7,321.5 397.7,320.9 398.7,320.4 399.7,320.2 400.7,322.5 401.7,322.0 402.7,322.1 403.7,322.4 404.7,323.1 405.7,323.1 406.7,322.9 407.7,322.1 408.7,322.1 409.7,323.6 410.7,322.7 411.7,323.1 412.7,323.7 413.7,322.5 414.7,321.6 415.7,322.8 416.7,324.9 417.7,324.6 418.7,325.0 419.7,325.3 420.7,327.9 421.7,328.3 422.7,328.1 423.7,328.1 424.7,328.0 425.7,327.8 426.7,328.2 427.7,329.8 428.7,330.6 429.7,329.9 430.7,330.1 431.7,330.8 432.7,332.1 433.7,331.1 434.7,329.7 435.7,332.7 436.7,334.4 437.7,332.9 438.7,333.2 439.7,334.3 440.7,334.4 441.7,334.1 442.7,334.9 443.7,335.5 444.7,334.1 445.7,334.6 446.7,335.2 447.7,335.5 448.7,336.3 449.7,337.0 450.7,335.7 451.7,335.6 452.7,337.7 453.7,339.4 454.7,338.5 455.7,338.0 456.7,339.3 457.7,339.6 458.7,337.9 459.7,339.8 460.7,339.6 461.7,339.6 462.7,340.1 463.7,340.2 464.7,339.4 465.7,339.6 466.7,340.6 467.7,340.5 468.7,339.5 469.7,339.3 470.7,339.0 471.7,339.5 472.7,338.7 473.7,339.8 474.7,340.7 475.7,340.2 476.7,339.5 477.7,338.8 478.7,340.7 479.7,340.3 480.7,338.2 481.7,338.4 482.7,339.3 483.7,339.0 484.7,339.1 485.7,339.4 486.7,339.7 487.7,340.0 488.7,339.5 489.7,340.1 490.7,340.9 491.7,342.2 492.7,342.0 493.7,340.2 494.7,340.1 495.7,340.7 496.7,341.2 497.7,339.6 498.7,340.9 499.7,340.8 500.7,340.4 501.7,340.5 502.7,339.1 503.7,339.8 504.7,340.4 505.7,339.0 506.7,339.2 507.7,340.5 508.7,341.1 509.7,340.7 510.7,340.9 511.7,340.8 512.7,339.5 513.7,339.1 514.7,338.2 515.7,338.4 516.7,340.5 517.7,339.6 518.7,339.6 519.7,340.9 520.7,340.1 521.7,340.3 522.7,342.0 523.7,341.0 524.7,340.4 525.7,341.2 526.7,340.2 527.7,339.5 528.7,340.1 529.7,339.4 530.7,339.9 531.7,339.7 532.7,339.3 533.7,338.5 534.7,338.7 535.7,338.9 536.7,338.2 537.7,337.6 538.7,337.5 539.7,337.3 540.7,338.7 541.7,339.4 542.7,339.8 543.7,340.5 544.7,340.2 545.7,339.3 546.7,340.8 547.7,340.6 548.7,339.5 549.7,341.6 550.7,341.2 551.7,339.7 552.7,339.4 553.7,339.9 554.7,340.5 555.7,340.8 556.7,339.2 557.7,338.9 558.7,339.1 559.7,339.6 560.7,340.1 561.7,342.6 562.7,342.0 563.7,341.2 564.7,340.9 565.7,340.7 566.7,340.7 567.7,339.3 568.7,339.3 569.7,340.4 570.7,341.1 571.7,341.1 572.7,339.4 573.7,338.7 574.7,339.4 575.7,340.1 576.7,341.0 577.7,340.1 578.7,339.5 579.7,341.2 580.7,339.9 581.7,339.6 582.7,339.1 583.7,339.9 584.7,339.0 585.7,339.4 586.7,339.5 587.7,339.3 588.7,339.7 589.7,339.7 590.7,339.8 591.7,341.0 592.7,340.7 593.7,339.4 594.7,339.5 595.7,340.7 596.7,340.7 597.7,340.0 598.7,339.7 599.7,340.0 600.7,340.4 601.7,341.3 602.7,339.4 603.7,340.7 604.7,340.3 605.7,339.0 606.7,339.8 607.7,340.2 608.7,340.1 609.7,340.2 610.7,340.3 611.7,339.6 612.7,338.8 613.7,338.2 614.7,339.8 615.7,339.8 616.7,340.0 617.7,339.2 618.7,338.9 619.7,339.8 620.7,341.0 621.7,340.1 622.7,339.0 623.7,340.2 624.7,341.1 625.7,340.9 626.7,341.0 627.7,341.1 628.7,341.2 629.7,341.1 630.7,340.3 631.7,338.8 632.7,338.7 633.7,340.5 634.7,340.0 635.7,338.6 636.7,339.5 637.7,341.2 638.7,342.5 639.7,341.5 640.7,341.2 641.7,341.4 642.7,341.1 643.7,339.6 644.7,339.7 645.7,340.0 646.7,339.8 647.7,339.8 648.7,340.0 649.7,340.5 650.7,341.2 651.7,340.5 652.7,342.0 653.7,342.0 654.7,341.6 655.7,342.1 656.7,341.7 657.7,340.8 658.7,341.5 659.7,341.6 660.7,341.7 661.7,341.7 662.7,340.7 663.7,339.8 664.7,341.3 665.7,343.2 666.7,342.5 667.7,342.8 668.7,342.5 669.7,341.3 670.7,341.8 671.7,342.4 672.7,341.9 673.7,342.2 674.7,342.3 675.7,341.3 676.7,339.3 677.7,338.6 678.7,339.3 679.7,339.8 680.7,340.3 681.7,340.8 682.7,339.8 683.7,340.2 684.7,340.0 685.7,340.8 686.7,341.8 687.7,341.1 688.7,341.0 689.7,341.3 690.7,341.9 691.7,341.6 692.7,341.4 693.7,342.5 694.7,343.2 695.7,342.5 696.7,341.9 697.7,340.3 698.7,341.2 699.7,341.7 700.7,341.5 701.7,339.7 702.7,339.5 703.7,341.8 704.7,342.7 705.7,341.8 706.7,342.6 707.7,342.8 708.7,342.2 709.7,342.6 710.7,342.8 711.7,341.1 712.7,340.8 713.7,340.5 714.7,339.5 715.7,340.2 716.7,340.5 717.7,339.6 718.7,339.5 719.7,339.1 720.7,340.2 721.7,340.8 722.7,340.8 723.7,340.5 724.7,340.7 725.7,341.3 726.7,341.6 727.7,341.6 728.7,342.9 729.7,342.1 730.7,339.8 731.7,340.3 732.7,341.8 733.7,342.1 734.7,341.9 735.7,342.5 736.7,341.4 737.7,341.5 738.7,341.4 739.7,341.4 740.7,341.9 741.7,342.5 742.7,342.8 743.7,341.8 744.7,341.3 745.7,341.4 746.7,340.9 747.7,340.3 748.7,341.5 749.7,343.6 750.7,342.2 751.7,341.3 752.7,341.5 753.7,341.9 754.7,343.0 755.7,341.5 756.7,340.1 757.7,340.4 758.7,340.5 759.7,340.8 760.7,341.9 761.7,341.3 762.7,340.2 763.7,340.6 764.7,341.5 765.7,341.5 766.7,341.6 767.7,341.9 768.7,341.9 769.7,341.8 770.7,342.0 771.7,342.7 772.7,341.0 773.7,341.3 774.7,342.4 775.7,343.1 776.7,341.9 777.7,341.0 778.7,341.3 779.7,341.2 780.7,341.0 781.7,341.3 782.7,341.0 783.7,341.2 784.7,339.6 785.7,339.6 786.7,341.0 787.7,341.9 788.7,342.8 789.7,342.7 790.7,342.4 791.7,340.9 792.7,340.5 793.7,342.5 794.7,342.2 795.7,342.0 796.7,340.8 797.7,340.7 798.7,340.8 799.7,341.6 800.7,342.4 801.7,341.8 802.7,340.5 803.7,342.0 804.7,342.3 805.7,339.9 806.7,341.2 807.7,342.7 808.7,342.5 809.7,342.1 810.7,341.9 811.7,340.3 812.7,340.0 813.7,339.6 814.7,339.4 815.7,339.5 816.7,340.2 817.7,341.5 818.7,341.3 819.7,341.0 820.7,341.0 821.7,339.8 822.7,341.1 823.7,342.7 824.7,343.0 825.7,343.0 826.7,341.9 827.7,339.9 828.7,339.7 829.7,340.5 830.7,341.6 831.7,342.2 832.7,341.7 833.7,342.0 834.7,343.6 835.7,343.4 836.7,343.0 837.7,342.9 838.7,342.4 839.7,342.6 840.7,342.9 841.7,342.4 842.7,341.4 843.7,340.3 844.7,341.6 845.7,341.6 846.7,341.4 847.7,341.0 848.7,342.1 849.7,342.6 850.7,342.4 851.7,342.6 852.7,342.9 853.7,342.9 854.7,343.3 855.7,343.7 856.7,342.8 857.7,341.3 858.7,340.9 859.7,341.8 860.7,341.7 861.7,341.0 862.7,341.5 863.7,341.8 864.7,341.6 865.7,341.4 866.7,341.2 867.7,342.1 868.7,341.5 869.7,341.8 870.7,342.5 871.7,341.8 872.7,343.0 873.7,343.6 874.7,343.2 875.7,344.2 876.7,343.0 877.7,340.8 878.7,341.5 879.7,343.7 880.7,341.6 881.7,341.3 882.7,342.4 883.7,341.0 884.7,339.8 885.7,342.2 886.7,342.9 887.7,342.2 888.7,342.8 889.7,342.2 890.7,340.8 891.7,342.0 892.7,342.2 893.7,341.5 894.7,342.5 895.7,342.8 896.7,342.7 897.7,342.6 898.7,342.8 899.7,344.3 900.7,343.5 901.7,341.3 902.7,341.6 903.7,341.6 904.7,341.3 905.7,342.5 906.7,342.9 907.7,343.0 908.7,343.6 909.7,343.9 910.7,343.2 911.7,342.4 912.7,343.0 913.7,342.2 914.7,341.1 915.7,341.8 916.7,342.6 917.7,343.1 918.7,343.7 919.7,345.0 920.7,344.5 921.7,342.4 922.7,343.5 923.7,343.6 924.7,343.8 925.7,342.2 926.7,340.5 927.7,343.8 928.7,345.2 929.7,345.3 930.7,344.0 931.7,344.0 932.7,344.8 933.7,344.9 934.7,344.6 935.7,343.5 936.7,343.2 937.7,344.3 938.7,345.1 939.7,344.8 940.7,343.7 941.7,343.1 942.7,342.7 943.7,341.2 944.7,342.3 945.7,345.1 946.7,345.2 947.7,342.5 948.7,342.8 949.7,344.2 950.7,344.5 951.7,345.3 952.7,346.7 953.7,346.4 954.7,345.0 955.7,344.3 956.7,344.2 957.7,344.7 958.7,345.1 959.7,345.0 960.7,345.5 961.7,345.0 962.7,343.9 963.7,343.9 964.7,342.9 965.7,341.4 966.7,342.5 967.7,344.7 968.7,345.2 969.7,343.7 970.7,343.8 971.7,346.2 972.7,345.7 973.7,342.9 974.7,342.4 975.7,342.6 976.7,343.8 977.7,344.0 978.7,342.6 979.7,342.3 980.7,341.9 981.7,343.1 982.7,343.9 983.7,343.8 984.7,342.4 985.7,342.7 986.7,344.2 987.7,344.8 988.7,345.2 989.7,345.4 990.7,345.1 991.7,345.1 992.7,344.8 993.7,343.5 994.7,343.7 995.7,345.8 996.7,344.3 997.7,344.2 998.7,344.6 999.7,343.4 1000.7,343.8 1001.7,344.1 1002.7,344.7 1003.7,345.6 1004.7,343.4 1005.7,342.7 1006.7,344.7 1007.7,345.5 1008.7,344.8 1009.7,344.1 1010.7,345.4 1011.7,345.9 1012.7,346.0 1013.7,344.7 1014.7,343.0 1015.7,343.9 1016.7,342.6 1017.7,343.0 1018.7,344.2 1019.7,344.5 1020.7,343.0 1021.7,342.8 1022.7,343.8 1023.7,344.4 1024.7,344.4 1025.7,344.0 1026.7,343.1 1027.7,342.7 1028.7,343.1 1029.7,342.9 1030.7,343.5 1031.7,343.9 1032.7,343.8 1033.7,343.9 1034.7,344.2 1035.7,344.6 1036.7,345.2 1037.7,344.7 1038.7,343.4 1039.7,343.4 1040.7,344.1 1041.7,344.9 1042.7,345.7 1043.7,345.2 1044.7,344.5 1045.7,345.3 1046.7,345.5 1047.7,344.9 1048.7,345.4 1049.7,345.6 1050.7,344.2 1051.7,344.9 1052.7,345.6 1053.7,345.6 1054.7,345.3 1055.7,345.4 1056.7,345.9 1057.7,346.6 1058.7,347.0 1059.7,346.5 1060.7,345.9 1061.7,346.4 1062.7,345.7 1063.7,344.7 1064.7,345.9 1065.7,345.6 1066.7,346.1 1067.7,345.7 1068.7,345.7 1069.7,345.4 1070.7,345.4 1071.7,345.9 1072.7,346.1 1073.7,345.0 1074.7,344.2 1075.7,343.6 1076.7,344.1 1077.7,345.7 1078.7,345.4 1079.7,345.6 1080.7,345.8 1081.7,345.3 1082.7,345.4 1083.7,344.7 1084.7,344.9 1085.7,345.6 1086.7,345.6 1087.7,345.9 1088.7,345.4 1089.7,345.3 1090.7,346.2 1091.7,347.5 1092.7,347.2 1093.7,346.3 1094.7,349.2 1095.7,349.2 1096.7,346.6 1097.7,346.1 1098.7,345.7 1099.7,345.1 1100.7,345.5 1101.7,344.8 1102.7,345.2 1103.7,346.7 1104.7,347.0 1105.7,346.9 1106.7,346.4 1107.7,345.9 1108.7,346.8 1109.7,348.0 1110.7,346.2 1111.7,345.2 1112.7,344.1 1113.7,344.3 1114.7,346.2 1115.7,346.7 1116.7,346.0 1117.7,345.7 1118.7,345.2 1119.7,345.0 1120.7,346.5 1121.7,347.3 1122.7,347.5 1123.7,347.3 1124.7,346.9 1125.7,347.5 1126.7,347.3 1127.7,347.3 1128.7,347.1 1129.7,346.7 1130.7,345.7 1131.7,347.2 1132.7,347.8 1133.7,346.5 1134.7,345.7 1135.7,347.4 1136.7,347.6 1137.7,346.1 1138.7,344.0 1139.7,345.2 1140.7,346.4 1141.7,346.1 1142.7,346.4 1143.7,348.0 1144.7,347.8 1145.7,348.0 1146.7,346.5 1147.7,345.5 1148.7,344.9 1149.7,345.9 1150.7,347.9 1151.7,347.5 1152.7,346.3 1153.7,346.1 1154.7,347.7 1155.7,347.1 1156.7,346.8 1157.7,347.3 1158.7,347.1 1159.7,345.9 1160.7,347.3 1161.7,347.6 1162.7,347.9 1163.7,347.4 1164.7,346.0 1165.7,345.3 1166.7,345.8 1167.7,345.6 1168.7,346.2 1169.7,347.2 1170.7,347.1 1171.7,347.6 1172.7,346.7 1173.7,345.0 1174.7,345.7 1175.7,344.7 1176.7,343.7 1177.7,344.6 1178.7,345.7 1179.7,346.7 1180.7,346.7 1181.7,346.4 1182.7,345.3 1183.7,345.1 1184.7,346.8 1185.7,346.8 1186.7,344.8 1187.7,344.9 1188.7,345.7 1189.7,346.8 1190.7,346.2 1191.7,346.4 1192.7,346.8 1193.7,346.7 1194.7,346.0 1195.7,346.1 1196.7,346.4 1197.7,346.9 1198.7,346.0 1199.7,346.5 1200.7,348.0 1201.7,348.3 1202.7,346.0 1203.7,346.4 1204.7,346.9 1205.7,345.5 1206.7,346.2 1207.7,346.6 1208.7,345.9 1209.7,345.8 1210.7,346.0 1211.7,346.4 1212.7,346.0 1213.7,346.6 1214.7,346.5 1215.7,346.2 1216.7,347.0 1217.7,347.1 1218.7,345.7 1219.7,345.7 1220.7,345.7 1221.7,347.2 1222.7,347.5 1223.7,346.5 1224.7,345.5 1225.7,346.5 1226.7,348.0 1227.7,347.3 1228.7,346.7 1229.7,347.4 1230.7,346.3 1231.7,345.7 1232.7,345.4 1233.7,345.8 1234.7,347.3 1235.7,346.7 1236.7,345.4 1237.7,346.5 1238.7,346.7 1239.7,346.4 1240.7,345.9 1241.7,346.6 1242.7,348.2 1243.7,346.9 1244.7,346.6 1245.7,346.7 1246.7,344.7 1247.7,344.6 1248.7,345.7 1249.7,345.1 1250.7,344.6 1251.7,346.5 1252.7,347.4 1253.7,347.6 1254.7,347.4 1255.7,347.7 1256.7,348.0 1257.7,347.8 1258.7,347.8 1259.7,348.4 1260.7,347.2 1261.7,349.0 1262.7,349.2 1263.7,348.0 1264.7,348.6 1265.7,348.5 1266.7,347.0 1267.7,347.0 1268.7,346.9 1269.7,344.9 1270.7,345.5 1271.7,345.7 1272.7,346.0 1273.7,347.2 1274.7,347.4 1275.7,346.9 1276.7,346.8 1277.7,348.4 1278.7,348.4 1279.7,348.1 1280.7,349.0 1281.7,347.3 1282.7,346.3 1283.7,345.7 1284.7,345.3 1285.7,346.2 1286.7,345.7 1287.7,344.8 1288.7,345.0 1289.7,345.9 1290.7,347.2 1291.7,348.0 1292.7,348.4 1293.7,348.1 1294.7,346.2 1295.7,346.5 1296.7,347.9 1297.7,347.0 1298.7,344.8 1299.7,343.8 1300.7,345.5 1301.7,346.1 1302.7,345.5 1303.7,346.2 1304.7,346.4 1305.7,346.8 1306.7,348.1 1307.7,349.7 1308.7,349.2 1309.7,347.9 1310.7,349.0 1311.7,349.0 1312.7,348.0 1313.7,348.0 1314.7,347.3 1315.7,347.4 1316.7,347.8 1317.7,347.2 1318.7,346.8 1319.7,347.3 1320.7,348.2 1321.7,347.0 1322.7,347.2 1323.7,348.1 1324.7,348.8 1325.7,349.0 1326.7,347.4 1327.7,347.2 1328.7,348.1 1329.7,346.7 1330.7,345.9 1331.7,346.3 1332.7,347.8 1333.7,347.5 1334.7,347.7 1335.7,347.8 1336.7,346.8 1337.7,346.9 1338.7,348.5 1339.7,348.9 1340.7,348.9 1341.7,348.3 1342.7,348.1 1343.7,349.1 1344.7,348.2 1345.7,347.5 1346.7,347.7 1347.7,346.4 1348.7,347.3 1349.7,347.2 1350.7,347.4 1351.7,346.8 1352.7,347.2 1353.7,348.3 1354.7,348.5 1355.7,348.6 1356.7,348.5 1357.7,347.3 1358.7,346.8 1359.7,348.6 1360.7,347.6 1361.7,347.6 1362.7,349.6 1363.7,348.1 1364.7,347.2 1365.7,346.9 1366.7,346.5 1367.7,347.9 1368.7,349.0 1369.7,347.9 1370.7,347.3 1371.7,348.0 1372.7,346.8 1373.7,347.2 1374.7,347.9 1375.7,348.7 1376.7,349.0 1377.7,348.6 1378.7,348.0 1379.7,347.4 1380.7,348.1 1381.7,348.2 1382.7,347.4 1383.7,348.5 1384.7,350.5 1385.7,349.3 1386.7,347.9 1387.7,348.3 1388.7,348.3 1389.7,347.9 1390.7,349.1" fill="none" stroke="#0b8439" stroke-width="6.4" stroke-linejoin="round" stroke-linecap="butt" />
<rect x="126.6" y="21.7" width="1265.1" height="927.9" fill="none" stroke="#000" stroke-width="4.7"/>
<line x1="126.7" y1="949.6" x2="126.7" y2="967.4" stroke="#000" stroke-width="4.6" />
<line x1="307.4" y1="949.6" x2="307.4" y2="967.4" stroke="#000" stroke-width="4.6" />
<line x1="488.1" y1="949.6" x2="488.1" y2="967.4" stroke="#000" stroke-width="4.6" />
<line x1="668.8" y1="949.6" x2="668.8" y2="967.4" stroke="#000" stroke-width="4.6" />
<line x1="849.5" y1="949.6" x2="849.5" y2="967.4" stroke="#000" stroke-width="4.6" />
<line x1="1030.2" y1="949.6" x2="1030.2" y2="967.4" stroke="#000" stroke-width="4.6" />
<line x1="1210.9" y1="949.6" x2="1210.9" y2="967.4" stroke="#000" stroke-width="4.6" />
<line x1="1391.6" y1="949.6" x2="1391.6" y2="967.4" stroke="#000" stroke-width="4.6" />
<line x1="217.1" y1="949.6" x2="217.1" y2="959.0" stroke="#000" stroke-width="4.2" />
<line x1="397.8" y1="949.6" x2="397.8" y2="959.0" stroke="#000" stroke-width="4.2" />
<line x1="578.5" y1="949.6" x2="578.5" y2="959.0" stroke="#000" stroke-width="4.2" />
<line x1="759.2" y1="949.6" x2="759.2" y2="959.0" stroke="#000" stroke-width="4.2" />
<line x1="939.9" y1="949.6" x2="939.9" y2="959.0" stroke="#000" stroke-width="4.2" />
<line x1="1120.5" y1="949.6" x2="1120.5" y2="959.0" stroke="#000" stroke-width="4.2" />
<line x1="1301.2" y1="949.6" x2="1301.2" y2="959.0" stroke="#000" stroke-width="4.2" />
<text x="0.0" y="0.0" font-size="55.5" font-weight="bold" text-anchor="middle" fill="#231815" transform="translate(134.7 1021.5) scale(1.050 1)" >20</text>
<text x="0.0" y="0.0" font-size="55.5" font-weight="bold" text-anchor="middle" fill="#231815" transform="translate(314.3 1021.5) scale(1.050 1)" >30</text>
<text x="0.0" y="0.0" font-size="55.5" font-weight="bold" text-anchor="middle" fill="#231815" transform="translate(493.9 1021.5) scale(1.050 1)" >40</text>
<text x="0.0" y="0.0" font-size="55.5" font-weight="bold" text-anchor="middle" fill="#231815" transform="translate(673.5 1021.5) scale(1.050 1)" >50</text>
<text x="0.0" y="0.0" font-size="55.5" font-weight="bold" text-anchor="middle" fill="#231815" transform="translate(853.1 1021.5) scale(1.050 1)" >60</text>
<text x="0.0" y="0.0" font-size="55.5" font-weight="bold" text-anchor="middle" fill="#231815" transform="translate(1032.7 1021.5) scale(1.050 1)" >70</text>
<text x="0.0" y="0.0" font-size="55.5" font-weight="bold" text-anchor="middle" fill="#231815" transform="translate(1212.3 1021.5) scale(1.050 1)" >80</text>
<text x="0.0" y="0.0" font-size="55.5" font-weight="bold" text-anchor="middle" fill="#231815" transform="translate(1391.9 1021.5) scale(1.050 1)" >90</text>
<text x="0.0" y="0.0" font-size="66" font-weight="bold" text-anchor="middle" fill="#231815" transform="translate(777.5 1090.8) scale(1.017 1)" >2θ (degrees)</text>
<text x="0.0" y="0.0" font-size="66" font-weight="bold" text-anchor="middle" fill="#231815" transform="translate(65.6 534.5) rotate(-90) scale(1.017 1)" >Intensity (cps)</text>
<text x="0.0" y="0.0" font-size="124.3" font-weight="bold" text-anchor="start" fill="#000" transform="translate(142.3 154.0) scale(1.045 1)" >(a)</text>
<path d="M234.4,254.7 H507.5" stroke="#ff0f0f" stroke-width="4" fill="none" stroke-dasharray="21 20.5"/>
<path d="M234.4,352.2 H507.5" stroke="#ff0f0f" stroke-width="4" fill="none" stroke-dasharray="21 20.5"/>
<path d="M236.4,252.7 V354.2" stroke="#ff0f0f" stroke-width="4" fill="none" stroke-dasharray="21 20.5"/>
<path d="M507.5,273.4 V340" stroke="#ff0f0f" stroke-width="4" fill="none" stroke-dasharray="21 20.5"/>
<line x1="508.7" y1="285.4" x2="788.9" y2="235.0" stroke="#000" stroke-width="4.0" />
<path d="M813.0,230.7 L787.8,243.4 L788.9,235.0 L785.0,227.6 Z" fill="#000"/>
<rect x="868.2" y="44.7" width="330.0" height="245.0" fill="#fff" stroke="#000" stroke-width="1.8"/>
<line x1="887.5" y1="289.7" x2="887.5" y2="293.2" stroke="#000" stroke-width="1.2" />
<line x1="982.5" y1="289.7" x2="982.5" y2="293.2" stroke="#000" stroke-width="1.2" />
<line x1="1079.7" y1="289.7" x2="1079.7" y2="293.2" stroke="#000" stroke-width="1.2" />
<line x1="1174.8" y1="289.7" x2="1174.8" y2="293.2" stroke="#000" stroke-width="1.2" />
<line x1="865.2" y1="119.5" x2="868.2" y2="119.5" stroke="#000" stroke-width="1" />
<polyline points="869.2,230.8 870.8,226.5 872.4,221.6 874.0,216.5 875.6,217.3 877.2,222.0 878.8,220.7 880.4,221.8 882.0,223.6 883.6,220.5 885.2,217.6 886.8,218.6 888.4,221.7 890.0,223.7 891.6,219.3 893.2,215.5 894.8,219.6 896.4,225.0 898.0,223.2 899.6,218.3 901.2,220.4 902.8,221.0 904.4,220.0 906.0,223.6 907.6,223.2 909.2,219.8 910.8,219.7 912.4,217.9 914.0,215.7 915.6,215.6 917.2,215.3 918.8,215.1 920.4,214.9 922.0,214.8 923.6,215.1 925.2,215.7 926.8,215.9 928.4,218.4 930.0,214.3 931.6,213.7 933.2,216.2 934.8,210.6 936.4,210.4 938.0,212.9 939.6,215.2 941.2,212.5 942.8,210.4 944.4,212.6 946.0,208.3 947.6,205.2 949.2,209.7 950.8,213.3 952.4,214.0 954.0,213.3 955.6,211.5 957.2,210.4 958.8,211.7 960.4,209.4 962.0,206.2 963.6,208.4 965.2,205.1 966.8,206.7 968.4,208.0 970.0,204.8 971.6,210.6 973.2,208.7 974.8,202.7 976.4,207.4 978.0,206.0 979.6,201.5 981.2,204.5 982.8,206.1 984.4,206.0 986.0,205.5 987.6,206.8 989.2,207.9 990.8,206.1 992.4,202.3 994.0,199.3 995.6,196.5 997.2,199.1 998.8,199.1 1000.4,199.2 1002.0,206.7 1003.6,202.4 1005.2,196.8 1006.8,197.8 1008.4,200.7 1010.0,199.6 1011.6,197.4 1013.2,197.8 1014.8,197.3 1016.4,200.9 1018.0,199.1 1019.6,196.3 1021.2,198.7 1022.8,200.1 1024.4,196.6 1026.0,196.9 1027.6,200.2 1029.2,199.5 1030.8,198.5 1032.4,192.9 1034.0,191.2 1035.6,196.1 1037.2,197.3 1038.8,195.2 1040.4,198.6 1042.0,203.1 1043.6,199.0 1045.2,198.2 1046.8,193.9 1048.4,185.3 1050.0,191.1 1051.6,194.7 1053.2,193.9 1054.8,195.3 1056.4,193.8 1058.0,193.9 1059.6,194.3 1061.2,189.6 1062.8,189.7 1064.4,193.4 1066.0,196.9 1067.6,194.3 1069.2,190.7 1070.8,192.5 1072.4,192.5 1074.0,197.2 1075.6,198.7 1077.2,194.6 1078.8,194.6 1080.4,197.8 1082.0,196.0 1083.6,194.5 1085.2,200.5 1086.8,203.7 1088.4,201.2 1090.0,199.3 1091.6,200.0 1093.2,198.7 1094.8,202.0 1096.4,207.0 1098.0,206.3 1099.6,204.0 1101.2,203.3 1102.8,208.2 1104.4,211.4 1106.0,210.4 1107.6,212.1 1109.2,216.3 1110.8,215.0 1112.4,213.0 1114.0,213.7 1115.6,213.5 1117.2,218.1 1118.8,222.7 1120.4,222.8 1122.0,220.3 1123.6,218.4 1125.2,221.7 1126.8,224.0 1128.4,225.4 1130.0,225.8 1131.6,227.9 1133.2,234.1 1134.8,237.0 1136.4,237.5 1138.0,235.3 1139.6,234.7 1141.2,234.7 1142.8,235.5 1144.4,236.3 1146.0,234.2 1147.6,234.5 1149.2,237.8 1150.8,240.5 1152.4,240.2 1154.0,237.9 1155.6,238.5 1157.2,238.5 1158.8,241.9 1160.4,245.2 1162.0,243.0 1163.6,243.5 1165.2,240.2 1166.8,238.0 1168.4,241.6 1170.0,247.9 1171.6,245.8 1173.2,241.3 1174.8,243.7 1176.4,241.6 1178.0,238.1 1179.6,240.8 1181.2,244.2 1182.8,244.2 1184.4,247.4 1186.0,247.9 1187.6,245.3 1189.2,249.0 1190.8,251.7 1192.4,245.0 1194.0,240.6 1195.6,246.3 1197.2,244.2" fill="none" stroke="#0b8439" stroke-width="2.9" stroke-linejoin="round" stroke-linecap="butt" />
<text x="985.0" y="312.0" font-size="21.6" font-weight="bold" text-anchor="middle" fill="#231815" >30</text>
<text x="1173.7" y="312.0" font-size="21.6" font-weight="bold" text-anchor="middle" fill="#231815" >40</text>
<text x="1030.2" y="331.5" font-size="21.6" font-weight="bold" text-anchor="middle" fill="#231815" >2θ (degrees)</text>
<text x="0.0" y="0.0" font-size="21.6" font-weight="bold" text-anchor="middle" fill="#231815" transform="translate(847.6 178.0) rotate(-90)" >Intensity (cps)</text>
<circle cx="1251.4" cy="81.7" r="8.6" fill="#000"/>
<text x="0.0" y="0.0" font-size="58.5" font-weight="normal" text-anchor="start" fill="#000" transform="translate(1262.0 95.7) scale(1.035 1)" >FCC</text>
<circle cx="420.4" cy="664.1" r="8.2" fill="#000"/>
<circle cx="868.5" cy="801.6" r="8.2" fill="#000"/>
<circle cx="1083.9" cy="871.2" r="8.2" fill="#000"/>
<circle cx="422.6" cy="512.4" r="8.2" fill="#000"/>
<circle cx="870.8" cy="616.6" r="8.2" fill="#000"/>
<circle cx="1089.5" cy="619.8" r="8.2" fill="#000"/>
<circle cx="423.4" cy="467.9" r="8.2" fill="#000"/>
<circle cx="533.2" cy="422.5" r="8.2" fill="#000"/>
<circle cx="875.7" cy="469.0" r="8.2" fill="#000"/>
<circle cx="1094.4" cy="481.6" r="8.2" fill="#000"/>
<circle cx="428.4" cy="363.4" r="8.2" fill="#000"/>
<circle cx="538.1" cy="360.7" r="8.2" fill="#000"/>
<circle cx="882.2" cy="381.6" r="8.2" fill="#000"/>
<circle cx="1097.4" cy="388.0" r="8.2" fill="#000"/>
<text x="0.0" y="0.0" font-size="45.5" font-weight="bold" text-anchor="middle" fill="#231815" transform="translate(396.1 721.5) rotate(-90)" >(111)</text>
<text x="0.0" y="0.0" font-size="45.5" font-weight="bold" text-anchor="middle" fill="#231815" transform="translate(848.6 838.4) rotate(-90)" >(220)</text>
<text x="0.0" y="0.0" font-size="45.5" font-weight="bold" text-anchor="middle" fill="#231815" transform="translate(1065.3 839.2) rotate(-90)" >(311)</text>
<text x="0.0" y="0.0" font-size="40.5" font-weight="bold" text-anchor="middle" fill="#231815" transform="translate(511.2 451.4) rotate(-90)" >(200)</text>
<text x="1407.2" y="355.8" font-size="54.5" font-weight="bold" text-anchor="start" fill="#231815" >L4</text>
<text x="1407.2" y="418.4" font-size="54.5" font-weight="bold" text-anchor="start" fill="#231815" >L3</text>
<text x="1407.2" y="513.0" font-size="54.5" font-weight="bold" text-anchor="start" fill="#231815" >L2</text>
<text x="1407.2" y="664.0" font-size="54.5" font-weight="bold" text-anchor="start" fill="#231815" >L1</text>
<text x="1407.2" y="919.0" font-size="54.5" font-weight="bold" text-anchor="start" fill="#231815" >L0</text>
</g>
<g id="panel-b">
<polyline points="132.9,2094.5 133.9,2094.4 134.9,2094.9 135.9,2093.7 136.9,2093.1 137.9,2092.8 138.9,2092.7 139.9,2093.4 140.9,2093.7 141.9,2093.6 142.9,2093.2 143.9,2094.2 144.9,2095.7 145.9,2094.5 146.9,2094.1 147.9,2094.5 148.9,2094.6 149.9,2095.2 150.9,2094.7 151.9,2094.9 152.9,2095.4 153.9,2095.3 154.9,2095.6 155.9,2095.6 156.9,2094.8 157.9,2095.9 158.9,2097.4 159.9,2097.9 160.9,2097.5 161.9,2098.5 162.9,2099.1 163.9,2100.2 164.9,2098.8 165.9,2096.9 166.9,2097.6 167.9,2098.7 168.9,2098.0 169.9,2097.7 170.9,2097.5 171.9,2097.0 172.9,2096.9 173.9,2097.1 174.9,2097.0 175.9,2097.7 176.9,2099.2 177.9,2097.9 178.9,2097.6 179.9,2097.9 180.9,2098.0 181.9,2097.2 182.9,2097.4 183.9,2098.6 184.9,2099.4 185.9,2098.9 186.9,2097.9 187.9,2098.1 188.9,2099.4 189.9,2099.2 190.9,2098.1 191.9,2097.9 192.9,2098.5 193.9,2097.8 194.9,2097.0 195.9,2096.0 196.9,2096.1 197.9,2097.3 198.9,2097.5 199.9,2096.9 200.9,2097.7 201.9,2098.4 202.9,2097.9 203.9,2097.4 204.9,2096.8 205.9,2095.8 206.9,2096.8 207.9,2099.1 208.9,2099.9 209.9,2099.9 210.9,2099.8 211.9,2098.1 212.9,2098.4 213.9,2098.0 214.9,2095.6 215.9,2096.6 216.9,2098.7 217.9,2098.6 218.9,2099.3 219.9,2099.5 220.9,2098.9 221.9,2097.8 222.9,2097.2 223.9,2096.9 224.9,2096.6 225.9,2098.3 226.9,2098.2 227.9,2097.5 228.9,2097.8 229.9,2098.9 230.9,2098.2 231.9,2097.0 232.9,2097.9 233.9,2098.2 234.9,2097.5 235.9,2098.3 236.9,2098.9 237.9,2099.2 238.9,2097.8 239.9,2097.8 240.9,2097.5 241.9,2096.5 242.9,2096.3 243.9,2097.1 244.9,2097.3 245.9,2097.0 246.9,2098.0 247.9,2098.2 248.9,2098.1 249.9,2098.1 250.9,2098.0 251.9,2097.9 252.9,2097.4 253.9,2098.1 254.9,2097.7 255.9,2097.0 256.9,2097.7 257.9,2097.1 258.9,2096.5 259.9,2096.6 260.9,2097.3 261.9,2097.7 262.9,2098.1 263.9,2096.8 264.9,2096.8 265.9,2098.0 266.9,2099.0 267.9,2098.3 268.9,2099.3 269.9,2099.3 270.9,2098.6 271.9,2098.6 272.9,2098.0 273.9,2097.6 274.9,2097.6 275.9,2097.2 276.9,2098.5 277.9,2098.4 278.9,2099.0 279.9,2098.7 280.9,2098.4 281.9,2098.8 282.9,2098.0 283.9,2098.1 284.9,2099.6 285.9,2100.4 286.9,2099.4 287.9,2098.2 288.9,2098.5 289.9,2097.7 290.9,2098.2 291.9,2097.7 292.9,2096.5 293.9,2096.9 294.9,2097.3 295.9,2098.7 296.9,2098.3 297.9,2097.1 298.9,2097.0 299.9,2097.2 300.9,2098.0 301.9,2098.7 302.9,2098.1 303.9,2098.1 304.9,2097.9 305.9,2097.6 306.9,2097.1 307.9,2098.0 308.9,2098.0 309.9,2097.8 310.9,2098.5 311.9,2099.1 312.9,2098.3 313.9,2097.4 314.9,2098.0 315.9,2099.5 316.9,2098.8 317.9,2098.2 318.9,2099.4 319.9,2099.8 320.9,2099.4 321.9,2099.6 322.9,2100.0 323.9,2100.3 324.9,2099.0 325.9,2098.0 326.9,2098.9 327.9,2099.4 328.9,2099.1 329.9,2099.0 330.9,2099.1 331.9,2099.0 332.9,2099.8 333.9,2099.0 334.9,2097.4 335.9,2097.3 336.9,2097.6 337.9,2098.5 338.9,2098.1 339.9,2097.3 340.9,2098.3 341.9,2099.1 342.9,2098.0 343.9,2097.3 344.9,2096.5 345.9,2097.6 346.9,2098.2 347.9,2098.1 348.9,2097.7 349.9,2096.4 350.9,2095.7 351.9,2097.0 352.9,2096.9 353.9,2096.5 354.9,2096.5 355.9,2097.8 356.9,2097.8 357.9,2097.3 358.9,2097.5 359.9,2097.5 360.9,2097.6 361.9,2096.5 362.9,2096.1 363.9,2097.6 364.9,2097.9 365.9,2096.2 366.9,2095.9 367.9,2096.2 368.9,2096.0 369.9,2096.8 370.9,2095.8 371.9,2095.3 372.9,2096.8 373.9,2097.8 374.9,2096.9 375.9,2097.2 376.9,2097.0 377.9,2096.6 378.9,2097.0 379.9,2098.0 380.9,2097.4 381.9,2097.1 382.9,2098.0 383.9,2096.3 384.9,2096.1 385.9,2097.2 386.9,2096.0 387.9,2095.3 388.9,2097.0 389.9,2096.1 390.9,2095.7 391.9,2095.2 392.9,2094.7 393.9,2094.8 394.9,2094.8 395.9,2094.5 396.9,2094.7 397.9,2094.4 398.9,2094.3 399.9,2093.9 400.9,2094.2 401.9,2093.9 402.9,2094.1 403.9,2093.8 404.9,2093.1 405.9,2092.9 406.9,2091.3 407.9,2090.5 408.9,2089.7 409.9,2088.8 410.9,2086.6 411.9,2085.1 412.9,2083.8 413.9,2080.7 414.9,2076.4 415.9,2069.1 416.9,2060.3 417.9,2050.1 418.9,2036.2 419.9,2019.4 420.9,1996.9 421.9,1971.7 422.9,1946.7 423.9,1923.0 424.9,1904.6 425.9,1893.4 426.9,1894.1 427.9,1906.7 428.9,1927.3 429.9,1952.2 430.9,1977.7 431.9,2001.5 432.9,2020.9 433.9,2037.9 434.9,2052.8 435.9,2063.2 436.9,2070.1 437.9,2075.7 438.9,2080.3 439.9,2084.0 440.9,2085.6 441.9,2087.2 442.9,2089.3 443.9,2090.6 444.9,2092.0 445.9,2093.4 446.9,2093.1 447.9,2094.2 448.9,2095.1 449.9,2096.3 450.9,2097.0 451.9,2097.4 452.9,2099.3 453.9,2099.4 454.9,2098.4 455.9,2097.9 456.9,2098.2 457.9,2099.2 458.9,2100.5 459.9,2100.5 460.9,2099.3 461.9,2099.9 462.9,2100.2 463.9,2100.2 464.9,2101.2 465.9,2100.8 466.9,2100.4 467.9,2100.1 468.9,2100.4 469.9,2099.9 470.9,2100.4 471.9,2099.7 472.9,2099.7 473.9,2100.8 474.9,2101.6 475.9,2101.6 476.9,2100.7 477.9,2101.5 478.9,2102.1 479.9,2100.9 480.9,2100.2 481.9,2101.6 482.9,2101.0 483.9,2101.1 484.9,2101.5 485.9,2101.3 486.9,2100.9 487.9,2101.6 488.9,2101.6 489.9,2099.0 490.9,2099.2 491.9,2100.0 492.9,2100.0 493.9,2100.8 494.9,2101.3 495.9,2100.3 496.9,2101.0 497.9,2101.2 498.9,2100.8 499.9,2099.7 500.9,2100.3 501.9,2101.4 502.9,2101.9 503.9,2101.6 504.9,2101.2 505.9,2101.5 506.9,2101.6 507.9,2100.9 508.9,2100.8 509.9,2100.9 510.9,2100.8 511.9,2100.2 512.9,2100.5 513.9,2101.6 514.9,2101.6 515.9,2102.0 516.9,2101.6 517.9,2101.7 518.9,2102.7 519.9,2102.5 520.9,2101.5 521.9,2101.0 522.9,2100.8 523.9,2099.7 524.9,2098.7 525.9,2097.9 526.9,2096.5 527.9,2096.2 528.9,2096.9 529.9,2095.8 530.9,2094.8 531.9,2094.5 532.9,2095.0 533.9,2094.2 534.9,2094.4 535.9,2095.1 536.9,2094.2 537.9,2094.2 538.9,2096.7 539.9,2097.8 540.9,2098.9 541.9,2100.4 542.9,2101.2 543.9,2101.5 544.9,2100.7 545.9,2101.4 546.9,2102.2 547.9,2102.9 548.9,2103.3 549.9,2104.9 550.9,2104.7 551.9,2103.1 552.9,2103.9 553.9,2104.5 554.9,2104.3 555.9,2105.0 556.9,2103.4 557.9,2102.4 558.9,2102.3 559.9,2102.9 560.9,2101.7 561.9,2101.5 562.9,2101.9 563.9,2102.8 564.9,2102.9 565.9,2102.6 566.9,2102.7 567.9,2103.6 568.9,2103.9 569.9,2103.9 570.9,2104.3 571.9,2103.9 572.9,2103.4 573.9,2104.0 574.9,2103.4 575.9,2103.0 576.9,2102.9 577.9,2103.5 578.9,2104.4 579.9,2104.4 580.9,2104.6 581.9,2104.0 582.9,2104.5 583.9,2105.5 584.9,2104.8 585.9,2103.9 586.9,2104.5 587.9,2104.1 588.9,2103.0 589.9,2102.4 590.9,2102.7 591.9,2103.3 592.9,2102.5 593.9,2102.2 594.9,2102.6 595.9,2103.6 596.9,2105.7 597.9,2106.0 598.9,2106.1 599.9,2106.1 600.9,2105.3 601.9,2104.8 602.9,2104.5 603.9,2105.4 604.9,2105.6 605.9,2104.9 606.9,2105.0 607.9,2104.9 608.9,2105.0 609.9,2104.8 610.9,2104.2 611.9,2104.8 612.9,2104.8 613.9,2105.0 614.9,2105.0 615.9,2104.5 616.9,2105.1 617.9,2105.0 618.9,2104.8 619.9,2105.2 620.9,2105.6 621.9,2105.7 622.9,2105.5 623.9,2104.1 624.9,2103.8 625.9,2104.1 626.9,2103.6 627.9,2102.6 628.9,2103.5 629.9,2104.2 630.9,2104.1 631.9,2105.7 632.9,2105.9 633.9,2105.4 634.9,2105.2 635.9,2105.6 636.9,2107.1 637.9,2106.7 638.9,2104.4 639.9,2104.4 640.9,2105.4 641.9,2104.5 642.9,2103.7 643.9,2104.0 644.9,2103.9 645.9,2103.5 646.9,2102.4 647.9,2103.0 648.9,2105.6 649.9,2104.9 650.9,2103.5 651.9,2104.5 652.9,2104.3 653.9,2104.7 654.9,2104.5 655.9,2104.8 656.9,2104.6 657.9,2104.2 658.9,2104.6 659.9,2105.4 660.9,2106.8 661.9,2106.3 662.9,2105.3 663.9,2104.6 664.9,2104.1 665.9,2105.3 666.9,2105.2 667.9,2104.9 668.9,2104.9 669.9,2104.7 670.9,2104.8 671.9,2105.1 672.9,2104.3 673.9,2104.8 674.9,2106.0 675.9,2105.1 676.9,2105.9 677.9,2106.4 678.9,2107.3 679.9,2106.7 680.9,2105.4 681.9,2105.4 682.9,2106.1 683.9,2105.6 684.9,2104.4 685.9,2103.5 686.9,2103.7 687.9,2104.5 688.9,2105.3 689.9,2105.9 690.9,2105.2 691.9,2104.0 692.9,2104.1 693.9,2104.3 694.9,2104.6 695.9,2103.8 696.9,2103.3 697.9,2104.8 698.9,2105.9 699.9,2104.9 700.9,2104.6 701.9,2104.6 702.9,2106.4 703.9,2107.3 704.9,2106.8 705.9,2105.5 706.9,2105.4 707.9,2105.8 708.9,2104.7 709.9,2104.4 710.9,2105.8 711.9,2105.3 712.9,2104.9 713.9,2105.6 714.9,2105.8 715.9,2104.2 716.9,2103.7 717.9,2104.4 718.9,2104.2 719.9,2104.2 720.9,2104.7 721.9,2104.2 722.9,2104.3 723.9,2106.0 724.9,2105.8 725.9,2104.9 726.9,2105.1 727.9,2104.9 728.9,2105.5 729.9,2105.0 730.9,2105.1 731.9,2104.9 732.9,2104.4 733.9,2104.9 734.9,2104.1 735.9,2103.9 736.9,2104.5 737.9,2104.3 738.9,2103.4 739.9,2104.6 740.9,2104.7 741.9,2104.6 742.9,2105.2 743.9,2105.5 744.9,2106.5 745.9,2105.3 746.9,2103.5 747.9,2104.7 748.9,2106.2 749.9,2105.5 750.9,2104.4 751.9,2104.2 752.9,2105.4 753.9,2106.0 754.9,2104.9 755.9,2105.9 756.9,2105.5 757.9,2103.9 758.9,2103.8 759.9,2104.9 760.9,2105.7 761.9,2105.5 762.9,2106.1 763.9,2106.1 764.9,2105.8 765.9,2106.0 766.9,2105.3 767.9,2105.6 768.9,2106.4 769.9,2105.3 770.9,2104.7 771.9,2105.1 772.9,2105.7 773.9,2105.9 774.9,2104.7 775.9,2104.8 776.9,2106.0 777.9,2107.4 778.9,2106.6 779.9,2106.1 780.9,2106.6 781.9,2106.6 782.9,2106.9 783.9,2107.0 784.9,2106.5 785.9,2104.2 786.9,2104.4 787.9,2105.6 788.9,2105.3 789.9,2105.2 790.9,2106.4 791.9,2106.0 792.9,2105.9 793.9,2106.8 794.9,2105.8 795.9,2104.8 796.9,2104.7 797.9,2104.2 798.9,2104.9 799.9,2106.2 800.9,2105.1 801.9,2105.3 802.9,2105.9 803.9,2105.4 804.9,2105.1 805.9,2104.9 806.9,2105.5 807.9,2106.1 808.9,2105.4 809.9,2106.1 810.9,2106.3 811.9,2105.2 812.9,2105.7 813.9,2107.0 814.9,2107.4 815.9,2107.1 816.9,2104.8 817.9,2105.3 818.9,2107.3 819.9,2106.7 820.9,2105.7 821.9,2106.6 822.9,2107.0 823.9,2106.0 824.9,2105.2 825.9,2104.7 826.9,2104.4 827.9,2104.4 828.9,2105.0 829.9,2105.9 830.9,2106.7 831.9,2107.7 832.9,2106.5 833.9,2106.0 834.9,2106.0 835.9,2105.9 836.9,2106.4 837.9,2106.4 838.9,2105.2 839.9,2104.8 840.9,2104.6 841.9,2105.2 842.9,2106.7 843.9,2106.9 844.9,2106.8 845.9,2105.4 846.9,2105.7 847.9,2105.9 848.9,2104.8 849.9,2104.3 850.9,2103.6 851.9,2102.8 852.9,2102.9 853.9,2102.2 854.9,2101.4 855.9,2100.6 856.9,2098.2 857.9,2097.4 858.9,2097.3 859.9,2093.9 860.9,2090.0 861.9,2087.2 862.9,2082.9 863.9,2078.1 864.9,2072.9 865.9,2067.1 866.9,2063.0 867.9,2059.2 868.9,2054.7 869.9,2051.6 870.9,2049.8 871.9,2048.3 872.9,2050.6 873.9,2053.4 874.9,2057.5 875.9,2062.9 876.9,2067.7 877.9,2072.6 878.9,2078.0 879.9,2081.2 880.9,2084.9 881.9,2089.4 882.9,2091.5 883.9,2092.1 884.9,2094.2 885.9,2097.2 886.9,2099.8 887.9,2100.2 888.9,2100.9 889.9,2101.8 890.9,2102.7 891.9,2103.2 892.9,2104.6 893.9,2105.2 894.9,2105.1 895.9,2105.7 896.9,2105.4 897.9,2104.9 898.9,2104.6 899.9,2105.2 900.9,2106.0 901.9,2105.5 902.9,2105.0 903.9,2105.6 904.9,2105.7 905.9,2106.5 906.9,2106.4 907.9,2106.2 908.9,2105.6 909.9,2105.1 910.9,2105.8 911.9,2105.2 912.9,2103.8 913.9,2103.7 914.9,2105.9 915.9,2106.5 916.9,2107.2 917.9,2106.9 918.9,2106.4 919.9,2106.0 920.9,2105.9 921.9,2105.9 922.9,2105.6 923.9,2104.4 924.9,2105.5 925.9,2107.0 926.9,2106.6 927.9,2107.1 928.9,2107.6 929.9,2106.3 930.9,2106.6 931.9,2107.4 932.9,2106.9 933.9,2107.3 934.9,2107.4 935.9,2108.1 936.9,2108.7 937.9,2106.4 938.9,2104.8 939.9,2106.6 940.9,2107.1 941.9,2106.8 942.9,2106.9 943.9,2107.2 944.9,2106.0 945.9,2104.6 946.9,2104.2 947.9,2105.6 948.9,2106.7 949.9,2105.7 950.9,2106.1 951.9,2106.9 952.9,2107.0 953.9,2105.7 954.9,2105.7 955.9,2107.5 956.9,2107.5 957.9,2106.8 958.9,2106.2 959.9,2107.1 960.9,2107.7 961.9,2106.7 962.9,2106.9 963.9,2107.4 964.9,2107.9 965.9,2107.3 966.9,2107.7 967.9,2107.3 968.9,2107.4 969.9,2108.0 970.9,2107.2 971.9,2105.8 972.9,2106.9 973.9,2108.1 974.9,2106.8 975.9,2107.7 976.9,2109.0 977.9,2108.4 978.9,2107.7 979.9,2107.8 980.9,2107.0 981.9,2107.1 982.9,2107.6 983.9,2108.1 984.9,2107.4 985.9,2108.2 986.9,2109.0 987.9,2108.7 988.9,2108.5 989.9,2109.1 990.9,2108.4 991.9,2108.5 992.9,2108.5 993.9,2108.1 994.9,2108.1 995.9,2107.1 996.9,2106.4 997.9,2106.6 998.9,2105.0 999.9,2104.3 1000.9,2106.1 1001.9,2105.8 1002.9,2107.0 1003.9,2107.3 1004.9,2106.7 1005.9,2107.1 1006.9,2107.5 1007.9,2107.8 1008.9,2107.8 1009.9,2108.4 1010.9,2108.9 1011.9,2108.1 1012.9,2106.7 1013.9,2107.7 1014.9,2108.2 1015.9,2108.5 1016.9,2108.3 1017.9,2108.8 1018.9,2107.8 1019.9,2107.1 1020.9,2107.9 1021.9,2107.8 1022.9,2107.7 1023.9,2107.0 1024.9,2105.9 1025.9,2106.5 1026.9,2106.7 1027.9,2106.2 1028.9,2106.9 1029.9,2107.0 1030.9,2106.7 1031.9,2106.3 1032.9,2106.5 1033.9,2109.1 1034.9,2109.1 1035.9,2107.8 1036.9,2108.1 1037.9,2109.0 1038.9,2107.6 1039.9,2107.0 1040.9,2107.1 1041.9,2107.1 1042.9,2106.8 1043.9,2107.4 1044.9,2108.1 1045.9,2107.8 1046.9,2106.8 1047.9,2106.9 1048.9,2108.1 1049.9,2107.5 1050.9,2106.2 1051.9,2106.5 1052.9,2107.3 1053.9,2106.5 1054.9,2105.9 1055.9,2107.3 1056.9,2106.4 1057.9,2106.1 1058.9,2106.1 1059.9,2107.8 1060.9,2108.1 1061.9,2108.8 1062.9,2108.2 1063.9,2108.5 1064.9,2109.3 1065.9,2108.4 1066.9,2106.6 1067.9,2105.9 1068.9,2106.1 1069.9,2106.4 1070.9,2106.5 1071.9,2105.8 1072.9,2106.2 1073.9,2105.7 1074.9,2105.3 1075.9,2104.4 1076.9,2103.2 1077.9,2102.8 1078.9,2101.7 1079.9,2099.9 1080.9,2099.7 1081.9,2098.6 1082.9,2097.0 1083.9,2095.8 1084.9,2094.3 1085.9,2092.5 1086.9,2091.5 1087.9,2091.0 1088.9,2090.9 1089.9,2091.9 1090.9,2093.2 1091.9,2095.7 1092.9,2096.1 1093.9,2096.3 1094.9,2098.0 1095.9,2100.1 1096.9,2101.9 1097.9,2102.7 1098.9,2102.9 1099.9,2104.5 1100.9,2105.6 1101.9,2104.8 1102.9,2104.8 1103.9,2106.7 1104.9,2107.0 1105.9,2108.7 1106.9,2108.7 1107.9,2107.8 1108.9,2108.1 1109.9,2108.6 1110.9,2108.1 1111.9,2107.8 1112.9,2108.2 1113.9,2108.9 1114.9,2109.1 1115.9,2109.0 1116.9,2108.3 1117.9,2108.0 1118.9,2107.4 1119.9,2106.7 1120.9,2106.0 1121.9,2107.2 1122.9,2107.5 1123.9,2106.9 1124.9,2107.5 1125.9,2108.0 1126.9,2107.3 1127.9,2108.0 1128.9,2107.4 1129.9,2105.8 1130.9,2106.0 1131.9,2106.9 1132.9,2107.8 1133.9,2108.3 1134.9,2108.4 1135.9,2108.1 1136.9,2108.3 1137.9,2108.0 1138.9,2108.1 1139.9,2109.6 1140.9,2109.4 1141.9,2109.0 1142.9,2108.0 1143.9,2107.6 1144.9,2106.2 1145.9,2106.7 1146.9,2107.3 1147.9,2106.3 1148.9,2105.8 1149.9,2107.1 1150.9,2106.0 1151.9,2104.3 1152.9,2103.9 1153.9,2103.1 1154.9,2103.8 1155.9,2104.7 1156.9,2103.6 1157.9,2102.9 1158.9,2103.6 1159.9,2104.1 1160.9,2103.9 1161.9,2105.2 1162.9,2106.3 1163.9,2106.3 1164.9,2106.2 1165.9,2107.9 1166.9,2107.6 1167.9,2108.5 1168.9,2107.6 1169.9,2107.3 1170.9,2109.1 1171.9,2109.8 1172.9,2109.3 1173.9,2108.6 1174.9,2107.4 1175.9,2107.2 1176.9,2107.7 1177.9,2106.9 1178.9,2106.4 1179.9,2106.7 1180.9,2108.8 1181.9,2108.5 1182.9,2107.2 1183.9,2108.7 1184.9,2109.7 1185.9,2108.3 1186.9,2108.0 1187.9,2107.4 1188.9,2106.6 1189.9,2108.4 1190.9,2108.2 1191.9,2107.2 1192.9,2109.0 1193.9,2109.5 1194.9,2108.4 1195.9,2108.2 1196.9,2107.9 1197.9,2108.8 1198.9,2108.8 1199.9,2107.9 1200.9,2108.5 1201.9,2108.9 1202.9,2108.4 1203.9,2107.4 1204.9,2107.4 1205.9,2108.6 1206.9,2109.4 1207.9,2108.9 1208.9,2107.9 1209.9,2107.5 1210.9,2107.6 1211.9,2107.8 1212.9,2107.2 1213.9,2106.4 1214.9,2107.1 1215.9,2108.0 1216.9,2108.8 1217.9,2110.0 1218.9,2109.6 1219.9,2108.9 1220.9,2109.4 1221.9,2109.0 1222.9,2109.1 1223.9,2110.5 1224.9,2109.6 1225.9,2109.4 1226.9,2109.3 1227.9,2109.4 1228.9,2109.7 1229.9,2110.0 1230.9,2109.7 1231.9,2110.1 1232.9,2109.5 1233.9,2108.9 1234.9,2109.7 1235.9,2110.1 1236.9,2109.6 1237.9,2108.8 1238.9,2108.4 1239.9,2109.6 1240.9,2110.5 1241.9,2109.8 1242.9,2108.4 1243.9,2108.4 1244.9,2108.3 1245.9,2108.4 1246.9,2110.0 1247.9,2109.7 1248.9,2108.4 1249.9,2108.2 1250.9,2108.3 1251.9,2107.9 1252.9,2107.5 1253.9,2107.7 1254.9,2109.0 1255.9,2109.8 1256.9,2110.0 1257.9,2109.8 1258.9,2109.5 1259.9,2110.1 1260.9,2109.7 1261.9,2108.6 1262.9,2108.7 1263.9,2108.5 1264.9,2108.5 1265.9,2110.2 1266.9,2109.1 1267.9,2108.6 1268.9,2109.5 1269.9,2108.5 1270.9,2108.9 1271.9,2109.8 1272.9,2109.7 1273.9,2109.8 1274.9,2108.9 1275.9,2108.7 1276.9,2109.1 1277.9,2109.2 1278.9,2108.0 1279.9,2108.0 1280.9,2108.9 1281.9,2108.7 1282.9,2108.3 1283.9,2108.1 1284.9,2107.9 1285.9,2107.5 1286.9,2107.3 1287.9,2107.5 1288.9,2109.0 1289.9,2110.3 1290.9,2110.0 1291.9,2108.7 1292.9,2110.5 1293.9,2110.8 1294.9,2110.2 1295.9,2110.7 1296.9,2109.8 1297.9,2109.3 1298.9,2110.6 1299.9,2111.2 1300.9,2111.0 1301.9,2111.3 1302.9,2110.0 1303.9,2109.4 1304.9,2109.5 1305.9,2109.7 1306.9,2110.3 1307.9,2111.8 1308.9,2110.7 1309.9,2109.2 1310.9,2109.7 1311.9,2110.3 1312.9,2110.2 1313.9,2110.1 1314.9,2109.6 1315.9,2109.9 1316.9,2109.5 1317.9,2110.1 1318.9,2111.4 1319.9,2111.1 1320.9,2109.4 1321.9,2109.1 1322.9,2110.6 1323.9,2111.1 1324.9,2110.1 1325.9,2109.1 1326.9,2109.2 1327.9,2109.2 1328.9,2109.1 1329.9,2108.7 1330.9,2108.0 1331.9,2109.1 1332.9,2108.1 1333.9,2108.2 1334.9,2108.8 1335.9,2108.2 1336.9,2107.9 1337.9,2108.9 1338.9,2109.4 1339.9,2109.6 1340.9,2109.3 1341.9,2109.4 1342.9,2110.2 1343.9,2110.5 1344.9,2109.1 1345.9,2109.7 1346.9,2111.2 1347.9,2110.3 1348.9,2110.4 1349.9,2111.4 1350.9,2111.0 1351.9,2109.8 1352.9,2110.2 1353.9,2110.2 1354.9,2110.3 1355.9,2110.0 1356.9,2110.3 1357.9,2110.2 1358.9,2109.4 1359.9,2110.0 1360.9,2109.8 1361.9,2109.6 1362.9,2109.6 1363.9,2110.0 1364.9,2110.7 1365.9,2110.6 1366.9,2109.5 1367.9,2110.8 1368.9,2110.2 1369.9,2111.2 1370.9,2111.6 1371.9,2111.2 1372.9,2111.4 1373.9,2111.6 1374.9,2109.7 1375.9,2109.9 1376.9,2109.2 1377.9,2108.9 1378.9,2109.8 1379.9,2108.5 1380.9,2108.7 1381.9,2109.2 1382.9,2109.7 1383.9,2110.0 1384.9,2109.1 1385.9,2108.5 1386.9,2108.9 1387.9,2110.6 1388.9,2110.9 1389.9,2110.7" fill="none" stroke="#000000" stroke-width="6.4" stroke-linejoin="round" stroke-linecap="butt" />
<polyline points="132.9,1865.0 133.9,1864.8 134.9,1865.8 135.9,1866.7 136.9,1866.1 137.9,1865.4 138.9,1865.6 139.9,1865.5 140.9,1865.2 141.9,1865.1 142.9,1864.7 143.9,1865.0 144.9,1865.4 145.9,1866.8 146.9,1866.0 147.9,1866.4 148.9,1867.4 149.9,1867.4 150.9,1867.5 151.9,1866.0 152.9,1866.0 153.9,1866.0 154.9,1864.4 155.9,1865.5 156.9,1866.5 157.9,1866.7 158.9,1866.6 159.9,1866.1 160.9,1865.2 161.9,1865.2 162.9,1866.9 163.9,1865.8 164.9,1864.7 165.9,1865.6 166.9,1865.5 167.9,1865.5 168.9,1865.7 169.9,1865.4 170.9,1865.3 171.9,1864.5 172.9,1865.3 173.9,1865.6 174.9,1865.0 175.9,1866.4 176.9,1867.2 177.9,1865.5 178.9,1865.4 179.9,1865.8 180.9,1866.1 181.9,1865.3 182.9,1866.5 183.9,1866.7 184.9,1866.2 185.9,1865.7 186.9,1866.2 187.9,1865.7 188.9,1865.0 189.9,1865.3 190.9,1865.0 191.9,1865.0 192.9,1866.1 193.9,1865.4 194.9,1865.2 195.9,1866.9 196.9,1866.0 197.9,1864.9 198.9,1866.1 199.9,1865.9 200.9,1866.4 201.9,1866.2 202.9,1867.0 203.9,1866.5 204.9,1865.8 205.9,1865.2 206.9,1866.3 207.9,1866.3 208.9,1866.7 209.9,1866.5 210.9,1865.7 211.9,1865.1 212.9,1865.8 213.9,1866.9 214.9,1867.1 215.9,1867.2 216.9,1865.7 217.9,1864.9 218.9,1865.9 219.9,1866.4 220.9,1866.5 221.9,1866.0 222.9,1865.9 223.9,1864.9 224.9,1864.5 225.9,1865.9 226.9,1865.8 227.9,1865.9 228.9,1866.2 229.9,1865.1 230.9,1865.1 231.9,1864.7 232.9,1865.3 233.9,1865.8 234.9,1865.9 235.9,1866.2 236.9,1866.4 237.9,1866.9 238.9,1867.3 239.9,1867.2 240.9,1868.1 241.9,1867.2 242.9,1865.7 243.9,1866.8 244.9,1866.7 245.9,1866.4 246.9,1864.8 247.9,1864.5 248.9,1865.5 249.9,1866.4 250.9,1866.0 251.9,1865.6 252.9,1866.7 253.9,1867.0 254.9,1865.2 255.9,1865.0 256.9,1865.6 257.9,1864.5 258.9,1863.8 259.9,1864.3 260.9,1865.2 261.9,1866.0 262.9,1864.8 263.9,1864.6 264.9,1865.3 265.9,1866.3 266.9,1866.9 267.9,1865.5 268.9,1865.2 269.9,1864.3 270.9,1864.3 271.9,1864.9 272.9,1866.0 273.9,1865.2 274.9,1865.0 275.9,1866.7 276.9,1867.7 277.9,1866.7 278.9,1866.7 279.9,1866.4 280.9,1866.0 281.9,1866.2 282.9,1865.1 283.9,1865.7 284.9,1866.6 285.9,1867.8 286.9,1867.3 287.9,1865.2 288.9,1865.9 289.9,1866.8 290.9,1865.7 291.9,1865.8 292.9,1866.9 293.9,1865.4 294.9,1864.7 295.9,1866.4 296.9,1866.5 297.9,1867.0 298.9,1867.2 299.9,1866.1 300.9,1866.4 301.9,1865.0 302.9,1864.9 303.9,1864.5 304.9,1864.1 305.9,1865.2 306.9,1866.1 307.9,1865.3 308.9,1865.5 309.9,1866.1 310.9,1866.2 311.9,1865.8 312.9,1866.1 313.9,1866.0 314.9,1864.7 315.9,1865.9 316.9,1866.4 317.9,1865.6 318.9,1866.5 319.9,1866.5 320.9,1867.1 321.9,1868.8 322.9,1868.6 323.9,1866.4 324.9,1866.0 325.9,1865.2 326.9,1865.3 327.9,1867.2 328.9,1866.6 329.9,1866.2 330.9,1866.0 331.9,1865.2 332.9,1865.1 333.9,1866.4 334.9,1865.0 335.9,1864.7 336.9,1865.3 337.9,1866.4 338.9,1866.1 339.9,1863.7 340.9,1864.8 341.9,1866.6 342.9,1865.7 343.9,1865.0 344.9,1864.9 345.9,1865.0 346.9,1865.8 347.9,1866.1 348.9,1865.9 349.9,1865.2 350.9,1865.9 351.9,1867.2 352.9,1867.3 353.9,1866.0 354.9,1865.6 355.9,1865.5 356.9,1865.6 357.9,1866.7 358.9,1868.0 359.9,1868.1 360.9,1866.5 361.9,1865.6 362.9,1866.0 363.9,1865.2 364.9,1864.9 365.9,1866.2 366.9,1865.1 367.9,1865.8 368.9,1867.9 369.9,1866.5 370.9,1865.4 371.9,1865.4 372.9,1864.5 373.9,1865.5 374.9,1866.0 375.9,1864.2 376.9,1863.4 377.9,1864.3 378.9,1864.5 379.9,1864.2 380.9,1864.4 381.9,1864.8 382.9,1865.3 383.9,1866.4 384.9,1865.8 385.9,1865.5 386.9,1865.0 387.9,1864.4 388.9,1865.4 389.9,1866.9 390.9,1866.0 391.9,1865.8 392.9,1866.0 393.9,1865.3 394.9,1865.3 395.9,1866.6 396.9,1867.5 397.9,1866.5 398.9,1864.9 399.9,1864.7 400.9,1863.7 401.9,1864.0 402.9,1865.4 403.9,1865.2 404.9,1863.5 405.9,1863.6 406.9,1863.8 407.9,1863.5 408.9,1862.7 409.9,1862.8 410.9,1863.2 411.9,1863.4 412.9,1862.4 413.9,1861.2 414.9,1860.7 415.9,1860.4 416.9,1858.2 417.9,1856.1 418.9,1854.1 419.9,1850.3 420.9,1844.3 421.9,1838.6 422.9,1831.2 423.9,1821.9 424.9,1812.9 425.9,1803.4 426.9,1792.9 427.9,1785.0 428.9,1779.7 429.9,1778.4 430.9,1779.4 431.9,1785.2 432.9,1795.5 433.9,1806.3 434.9,1817.8 435.9,1828.4 436.9,1835.5 437.9,1842.8 438.9,1848.8 439.9,1853.4 440.9,1856.3 441.9,1858.4 442.9,1860.5 443.9,1861.6 444.9,1862.6 445.9,1861.5 446.9,1862.3 447.9,1863.7 448.9,1864.4 449.9,1864.7 450.9,1865.1 451.9,1864.5 452.9,1864.0 453.9,1863.8 454.9,1864.0 455.9,1864.4 456.9,1864.9 457.9,1865.1 458.9,1865.3 459.9,1865.4 460.9,1866.1 461.9,1866.4 462.9,1866.6 463.9,1866.8 464.9,1867.1 465.9,1866.7 466.9,1864.9 467.9,1864.7 468.9,1867.0 469.9,1866.2 470.9,1865.6 471.9,1866.2 472.9,1867.0 473.9,1868.2 474.9,1867.2 475.9,1866.6 476.9,1865.7 477.9,1867.3 478.9,1869.2 479.9,1868.1 480.9,1867.6 481.9,1868.8 482.9,1868.9 483.9,1868.5 484.9,1869.1 485.9,1869.5 486.9,1868.7 487.9,1868.4 488.9,1867.9 489.9,1868.1 490.9,1869.0 491.9,1867.6 492.9,1865.6 493.9,1866.6 494.9,1867.8 495.9,1867.0 496.9,1866.6 497.9,1867.4 498.9,1867.3 499.9,1867.9 500.9,1869.1 501.9,1870.2 502.9,1869.5 503.9,1868.6 504.9,1868.3 505.9,1868.1 506.9,1868.7 507.9,1869.1 508.9,1869.8 509.9,1868.3 510.9,1868.5 511.9,1868.3 512.9,1867.8 513.9,1868.0 514.9,1868.3 515.9,1867.5 516.9,1867.8 517.9,1868.4 518.9,1868.2 519.9,1868.8 520.9,1869.1 521.9,1867.3 522.9,1867.3 523.9,1867.4 524.9,1867.5 525.9,1868.1 526.9,1867.5 527.9,1867.8 528.9,1867.3 529.9,1866.4 530.9,1866.3 531.9,1865.4 532.9,1864.6 533.9,1865.6 534.9,1864.6 535.9,1864.7 536.9,1866.5 537.9,1866.4 538.9,1866.4 539.9,1866.6 540.9,1866.7 541.9,1866.1 542.9,1866.3 543.9,1866.4 544.9,1867.9 545.9,1868.3 546.9,1868.7 547.9,1869.1 548.9,1868.6 549.9,1868.9 550.9,1869.4 551.9,1869.7 552.9,1869.2 553.9,1868.4 554.9,1869.5 555.9,1869.5 556.9,1869.8 557.9,1870.5 558.9,1870.1 559.9,1871.1 560.9,1871.3 561.9,1868.9 562.9,1869.9 563.9,1870.7 564.9,1869.3 565.9,1869.2 566.9,1869.6 567.9,1870.3 568.9,1869.4 569.9,1868.1 570.9,1867.9 571.9,1868.9 572.9,1869.2 573.9,1869.3 574.9,1869.7 575.9,1870.4 576.9,1870.0 577.9,1869.2 578.9,1868.4 579.9,1868.2 580.9,1868.4 581.9,1867.9 582.9,1868.9 583.9,1869.1 584.9,1869.2 585.9,1868.3 586.9,1868.0 587.9,1869.2 588.9,1869.4 589.9,1869.4 590.9,1869.0 591.9,1868.9 592.9,1869.6 593.9,1869.3 594.9,1869.9 595.9,1871.1 596.9,1870.9 597.9,1869.4 598.9,1868.8 599.9,1869.0 600.9,1868.7 601.9,1869.9 602.9,1870.2 603.9,1868.8 604.9,1868.9 605.9,1869.8 606.9,1869.3 607.9,1869.2 608.9,1870.6 609.9,1870.9 610.9,1870.5 611.9,1870.2 612.9,1868.8 613.9,1869.3 614.9,1871.5 615.9,1872.2 616.9,1873.2 617.9,1871.5 618.9,1870.1 619.9,1870.0 620.9,1869.9 621.9,1870.2 622.9,1870.1 623.9,1870.7 624.9,1870.9 625.9,1871.0 626.9,1871.2 627.9,1870.7 628.9,1869.4 629.9,1869.7 630.9,1869.5 631.9,1869.6 632.9,1870.5 633.9,1870.4 634.9,1868.4 635.9,1867.7 636.9,1868.4 637.9,1870.4 638.9,1870.8 639.9,1869.1 640.9,1869.1 641.9,1872.6 642.9,1872.4 643.9,1870.7 644.9,1871.3 645.9,1870.8 646.9,1869.3 647.9,1870.5 648.9,1870.1 649.9,1869.7 650.9,1870.6 651.9,1870.1 652.9,1869.9 653.9,1870.5 654.9,1870.9 655.9,1871.1 656.9,1871.2 657.9,1870.4 658.9,1870.9 659.9,1871.6 660.9,1871.6 661.9,1870.3 662.9,1869.8 663.9,1868.9 664.9,1869.8 665.9,1871.7 666.9,1871.2 667.9,1870.6 668.9,1870.2 669.9,1869.9 670.9,1869.7 671.9,1870.2 672.9,1870.8 673.9,1870.8 674.9,1869.6 675.9,1869.2 676.9,1869.8 677.9,1869.5 678.9,1868.6 679.9,1868.4 680.9,1869.2 681.9,1870.6 682.9,1870.3 683.9,1869.2 684.9,1869.8 685.9,1870.4 686.9,1870.6 687.9,1870.8 688.9,1871.3 689.9,1870.4 690.9,1871.0 691.9,1871.2 692.9,1871.0 693.9,1871.6 694.9,1871.6 695.9,1871.0 696.9,1870.6 697.9,1870.4 698.9,1870.4 699.9,1870.9 700.9,1871.0 701.9,1869.8 702.9,1869.2 703.9,1869.3 704.9,1870.0 705.9,1869.8 706.9,1869.2 707.9,1868.9 708.9,1869.3 709.9,1870.1 710.9,1870.0 711.9,1870.7 712.9,1870.1 713.9,1869.0 714.9,1869.8 715.9,1870.3 716.9,1870.0 717.9,1871.4 718.9,1871.2 719.9,1869.5 720.9,1869.1 721.9,1868.4 722.9,1868.7 723.9,1870.2 724.9,1870.7 725.9,1869.1 726.9,1870.3 727.9,1871.5 728.9,1870.6 729.9,1870.5 730.9,1871.7 731.9,1870.9 732.9,1870.9 733.9,1870.3 734.9,1869.9 735.9,1871.4 736.9,1872.2 737.9,1871.2 738.9,1872.0 739.9,1871.5 740.9,1871.4 741.9,1872.1 742.9,1872.8 743.9,1873.0 744.9,1871.9 745.9,1870.3 746.9,1869.4 747.9,1869.9 748.9,1869.2 749.9,1869.0 750.9,1869.3 751.9,1869.8 752.9,1870.5 753.9,1870.9 754.9,1870.7 755.9,1870.5 756.9,1870.3 757.9,1871.1 758.9,1870.6 759.9,1871.7 760.9,1872.2 761.9,1871.2 762.9,1870.5 763.9,1871.6 764.9,1871.2 765.9,1870.6 766.9,1871.8 767.9,1872.7 768.9,1871.7 769.9,1871.0 770.9,1871.3 771.9,1871.5 772.9,1871.2 773.9,1871.4 774.9,1871.7 775.9,1871.5 776.9,1871.7 777.9,1872.0 778.9,1872.0 779.9,1871.7 780.9,1871.8 781.9,1871.5 782.9,1872.2 783.9,1871.4 784.9,1870.9 785.9,1871.1 786.9,1870.3 787.9,1870.6 788.9,1870.8 789.9,1869.9 790.9,1869.8 791.9,1870.7 792.9,1869.7 793.9,1868.8 794.9,1869.5 795.9,1869.2 796.9,1868.8 797.9,1868.4 798.9,1868.5 799.9,1870.3 800.9,1869.6 801.9,1869.8 802.9,1870.2 803.9,1869.6 804.9,1870.7 805.9,1871.7 806.9,1871.1 807.9,1871.2 808.9,1870.6 809.9,1870.3 810.9,1869.7 811.9,1869.3 812.9,1870.1 813.9,1869.3 814.9,1869.6 815.9,1870.4 816.9,1870.6 817.9,1870.9 818.9,1870.6 819.9,1870.0 820.9,1869.7 821.9,1869.5 822.9,1869.7 823.9,1869.0 824.9,1869.8 825.9,1870.4 826.9,1870.0 827.9,1870.9 828.9,1869.9 829.9,1869.6 830.9,1870.8 831.9,1870.6 832.9,1870.2 833.9,1869.9 834.9,1870.7 835.9,1871.6 836.9,1871.9 837.9,1872.2 838.9,1871.0 839.9,1869.7 840.9,1870.5 841.9,1871.5 842.9,1870.9 843.9,1870.8 844.9,1871.4 845.9,1870.8 846.9,1870.0 847.9,1869.9 848.9,1870.8 849.9,1870.3 850.9,1869.5 851.9,1870.1 852.9,1869.7 853.9,1869.7 854.9,1870.5 855.9,1871.5 856.9,1871.3 857.9,1870.3 858.9,1869.9 859.9,1870.0 860.9,1869.9 861.9,1869.1 862.9,1868.6 863.9,1868.8 864.9,1868.6 865.9,1868.6 866.9,1867.6 867.9,1866.9 868.9,1866.7 869.9,1866.7 870.9,1865.4 871.9,1863.4 872.9,1861.7 873.9,1861.1 874.9,1859.7 875.9,1858.8 876.9,1859.3 877.9,1859.0 878.9,1858.7 879.9,1858.0 880.9,1857.9 881.9,1857.7 882.9,1858.6 883.9,1860.1 884.9,1860.3 885.9,1861.1 886.9,1862.9 887.9,1863.4 888.9,1863.2 889.9,1863.6 890.9,1865.7 891.9,1868.2 892.9,1868.6 893.9,1869.0 894.9,1869.3 895.9,1869.4 896.9,1870.1 897.9,1870.6 898.9,1870.6 899.9,1871.1 900.9,1870.5 901.9,1871.2 902.9,1871.9 903.9,1870.3 904.9,1869.2 905.9,1871.5 906.9,1872.1 907.9,1871.1 908.9,1871.3 909.9,1872.8 910.9,1872.6 911.9,1872.0 912.9,1872.9 913.9,1871.5 914.9,1871.0 915.9,1870.7 916.9,1869.8 917.9,1870.2 918.9,1872.7 919.9,1872.3 920.9,1871.8 921.9,1873.3 922.9,1872.3 923.9,1871.4 924.9,1872.1 925.9,1872.7 926.9,1873.4 927.9,1873.8 928.9,1874.5 929.9,1873.7 930.9,1873.5 931.9,1873.4 932.9,1872.5 933.9,1872.1 934.9,1872.5 935.9,1871.4 936.9,1871.5 937.9,1872.2 938.9,1871.5 939.9,1871.9 940.9,1871.8 941.9,1872.6 942.9,1873.8 943.9,1873.1 944.9,1873.2 945.9,1874.0 946.9,1873.8 947.9,1872.0 948.9,1871.4 949.9,1871.8 950.9,1872.8 951.9,1873.5 952.9,1872.8 953.9,1873.4 954.9,1872.8 955.9,1871.7 956.9,1871.1 957.9,1870.9 958.9,1871.6 959.9,1872.4 960.9,1870.8 961.9,1871.4 962.9,1872.2 963.9,1872.1 964.9,1872.1 965.9,1870.8 966.9,1870.7 967.9,1872.6 968.9,1872.6 969.9,1871.4 970.9,1871.0 971.9,1870.6 972.9,1872.2 973.9,1872.7 974.9,1873.3 975.9,1873.1 976.9,1871.5 977.9,1870.5 978.9,1871.8 979.9,1872.3 980.9,1871.6 981.9,1871.5 982.9,1872.2 983.9,1873.3 984.9,1873.3 985.9,1873.7 986.9,1874.2 987.9,1873.6 988.9,1871.7 989.9,1870.1 990.9,1870.9 991.9,1872.7 992.9,1873.2 993.9,1871.9 994.9,1871.4 995.9,1872.8 996.9,1872.8 997.9,1872.8 998.9,1872.0 999.9,1871.9 1000.9,1872.1 1001.9,1872.8 1002.9,1872.1 1003.9,1872.1 1004.9,1872.0 1005.9,1872.1 1006.9,1870.7 1007.9,1871.4 1008.9,1872.9 1009.9,1872.1 1010.9,1871.7 1011.9,1872.7 1012.9,1872.7 1013.9,1873.3 1014.9,1874.7 1015.9,1875.6 1016.9,1873.2 1017.9,1871.3 1018.9,1872.0 1019.9,1871.1 1020.9,1870.7 1021.9,1871.4 1022.9,1871.7 1023.9,1870.7 1024.9,1870.5 1025.9,1871.8 1026.9,1872.8 1027.9,1873.0 1028.9,1872.8 1029.9,1871.9 1030.9,1872.2 1031.9,1872.3 1032.9,1872.7 1033.9,1872.9 1034.9,1872.7 1035.9,1872.6 1036.9,1873.4 1037.9,1873.4 1038.9,1873.1 1039.9,1872.4 1040.9,1873.4 1041.9,1874.2 1042.9,1874.4 1043.9,1872.7 1044.9,1872.4 1045.9,1872.8 1046.9,1872.6 1047.9,1872.1 1048.9,1871.8 1049.9,1871.9 1050.9,1872.0 1051.9,1870.6 1052.9,1870.9 1053.9,1871.8 1054.9,1872.3 1055.9,1871.0 1056.9,1871.5 1057.9,1873.1 1058.9,1872.7 1059.9,1871.8 1060.9,1871.8 1061.9,1871.4 1062.9,1871.8 1063.9,1871.1 1064.9,1871.2 1065.9,1872.3 1066.9,1872.3 1067.9,1872.5 1068.9,1871.2 1069.9,1871.9 1070.9,1871.9 1071.9,1870.5 1072.9,1870.5 1073.9,1872.1 1074.9,1872.8 1075.9,1870.0 1076.9,1868.8 1077.9,1870.0 1078.9,1870.0 1079.9,1869.7 1080.9,1868.8 1081.9,1868.6 1082.9,1869.7 1083.9,1870.1 1084.9,1868.5 1085.9,1867.7 1086.9,1868.0 1087.9,1867.6 1088.9,1866.6 1089.9,1865.4 1090.9,1863.8 1091.9,1864.7 1092.9,1864.1 1093.9,1861.4 1094.9,1861.5 1095.9,1862.1 1096.9,1861.5 1097.9,1861.3 1098.9,1860.5 1099.9,1862.4 1100.9,1863.9 1101.9,1863.5 1102.9,1864.8 1103.9,1866.7 1104.9,1868.6 1105.9,1869.9 1106.9,1869.7 1107.9,1869.0 1108.9,1868.6 1109.9,1869.7 1110.9,1870.2 1111.9,1870.8 1112.9,1872.6 1113.9,1873.2 1114.9,1873.6 1115.9,1873.2 1116.9,1872.3 1117.9,1872.2 1118.9,1871.5 1119.9,1871.3 1120.9,1871.4 1121.9,1872.4 1122.9,1872.8 1123.9,1872.4 1124.9,1871.8 1125.9,1871.5 1126.9,1872.0 1127.9,1873.2 1128.9,1874.2 1129.9,1873.4 1130.9,1873.0 1131.9,1872.3 1132.9,1871.9 1133.9,1871.0 1134.9,1871.5 1135.9,1872.4 1136.9,1872.5 1137.9,1871.3 1138.9,1871.2 1139.9,1871.1 1140.9,1871.1 1141.9,1872.2 1142.9,1872.0 1143.9,1871.6 1144.9,1872.2 1145.9,1873.3 1146.9,1872.6 1147.9,1872.8 1148.9,1873.0 1149.9,1872.7 1150.9,1873.0 1151.9,1871.3 1152.9,1870.6 1153.9,1869.9 1154.9,1869.2 1155.9,1868.9 1156.9,1868.6 1157.9,1868.5 1158.9,1869.2 1159.9,1869.0 1160.9,1869.2 1161.9,1869.6 1162.9,1869.3 1163.9,1869.4 1164.9,1869.7 1165.9,1869.0 1166.9,1869.8 1167.9,1870.2 1168.9,1868.7 1169.9,1867.9 1170.9,1869.1 1171.9,1870.3 1172.9,1870.5 1173.9,1871.0 1174.9,1870.9 1175.9,1870.9 1176.9,1871.0 1177.9,1871.4 1178.9,1872.7 1179.9,1872.4 1180.9,1871.3 1181.9,1872.6 1182.9,1873.4 1183.9,1873.2 1184.9,1872.7 1185.9,1872.7 1186.9,1872.3 1187.9,1872.1 1188.9,1871.7 1189.9,1871.5 1190.9,1871.5 1191.9,1872.4 1192.9,1872.4 1193.9,1872.0 1194.9,1873.7 1195.9,1873.5 1196.9,1873.2 1197.9,1873.2 1198.9,1873.1 1199.9,1874.0 1200.9,1873.6 1201.9,1872.7 1202.9,1873.0 1203.9,1873.6 1204.9,1873.0 1205.9,1872.3 1206.9,1873.0 1207.9,1873.6 1208.9,1872.8 1209.9,1872.2 1210.9,1872.3 1211.9,1871.9 1212.9,1872.9 1213.9,1873.6 1214.9,1873.2 1215.9,1873.0 1216.9,1873.3 1217.9,1874.0 1218.9,1872.7 1219.9,1872.3 1220.9,1872.8 1221.9,1872.8 1222.9,1872.8 1223.9,1873.4 1224.9,1871.4 1225.9,1871.8 1226.9,1873.1 1227.9,1873.6 1228.9,1872.8 1229.9,1871.3 1230.9,1871.4 1231.9,1872.8 1232.9,1872.0 1233.9,1872.8 1234.9,1872.6 1235.9,1871.6 1236.9,1871.9 1237.9,1872.9 1238.9,1871.8 1239.9,1872.6 1240.9,1872.7 1241.9,1871.9 1242.9,1871.9 1243.9,1871.6 1244.9,1871.7 1245.9,1872.1 1246.9,1871.8 1247.9,1872.5 1248.9,1872.4 1249.9,1872.6 1250.9,1873.9 1251.9,1873.4 1252.9,1873.0 1253.9,1873.7 1254.9,1873.8 1255.9,1873.4 1256.9,1872.4 1257.9,1872.0 1258.9,1872.3 1259.9,1872.7 1260.9,1873.5 1261.9,1873.6 1262.9,1873.2 1263.9,1873.5 1264.9,1874.8 1265.9,1876.5 1266.9,1875.0 1267.9,1872.3 1268.9,1871.5 1269.9,1872.2 1270.9,1873.4 1271.9,1873.4 1272.9,1872.7 1273.9,1872.5 1274.9,1872.9 1275.9,1874.2 1276.9,1873.5 1277.9,1872.2 1278.9,1871.5 1279.9,1871.5 1280.9,1872.7 1281.9,1874.3 1282.9,1873.8 1283.9,1872.2 1284.9,1872.7 1285.9,1873.1 1286.9,1873.1 1287.9,1871.4 1288.9,1871.1 1289.9,1871.3 1290.9,1871.5 1291.9,1871.3 1292.9,1872.0 1293.9,1872.5 1294.9,1872.2 1295.9,1872.0 1296.9,1872.3 1297.9,1872.4 1298.9,1872.8 1299.9,1872.0 1300.9,1872.6 1301.9,1873.0 1302.9,1873.3 1303.9,1873.3 1304.9,1872.4 1305.9,1872.1 1306.9,1872.3 1307.9,1872.8 1308.9,1871.8 1309.9,1870.9 1310.9,1871.3 1311.9,1872.3 1312.9,1872.1 1313.9,1872.0 1314.9,1872.8 1315.9,1872.4 1316.9,1872.1 1317.9,1872.7 1318.9,1872.2 1319.9,1872.1 1320.9,1872.2 1321.9,1872.6 1322.9,1872.6 1323.9,1872.1 1324.9,1872.9 1325.9,1873.8 1326.9,1872.4 1327.9,1871.3 1328.9,1871.6 1329.9,1872.9 1330.9,1873.4 1331.9,1872.5 1332.9,1872.6 1333.9,1871.8 1334.9,1870.7 1335.9,1872.1 1336.9,1872.3 1337.9,1872.6 1338.9,1872.8 1339.9,1872.4 1340.9,1872.6 1341.9,1872.2 1342.9,1871.6 1343.9,1872.9 1344.9,1873.3 1345.9,1873.1 1346.9,1873.6 1347.9,1873.2 1348.9,1872.9 1349.9,1873.5 1350.9,1872.9 1351.9,1871.6 1352.9,1872.2 1353.9,1871.3 1354.9,1871.5 1355.9,1872.8 1356.9,1874.7 1357.9,1873.0 1358.9,1871.5 1359.9,1871.1 1360.9,1872.3 1361.9,1871.6 1362.9,1872.3 1363.9,1871.8 1364.9,1871.8 1365.9,1873.0 1366.9,1874.1 1367.9,1873.3 1368.9,1873.9 1369.9,1874.2 1370.9,1873.3 1371.9,1872.6 1372.9,1872.3 1373.9,1872.4 1374.9,1871.9 1375.9,1871.5 1376.9,1871.0 1377.9,1870.3 1378.9,1871.3 1379.9,1872.4 1380.9,1872.0 1381.9,1871.3 1382.9,1871.6 1383.9,1871.8 1384.9,1871.4 1385.9,1871.3 1386.9,1872.5 1387.9,1873.9 1388.9,1873.9 1389.9,1872.5" fill="none" stroke="#ff0f0f" stroke-width="6.4" stroke-linejoin="round" stroke-linecap="butt" />
<polyline points="132.9,1743.1 133.9,1743.6 134.9,1743.2 135.9,1744.3 136.9,1745.5 137.9,1744.4 138.9,1743.7 139.9,1743.9 140.9,1743.0 141.9,1744.6 142.9,1745.0 143.9,1744.2 144.9,1744.7 145.9,1744.2 146.9,1743.4 147.9,1742.5 148.9,1743.3 149.9,1744.1 150.9,1742.6 151.9,1741.6 152.9,1742.3 153.9,1743.1 154.9,1743.9 155.9,1744.0 156.9,1743.8 157.9,1743.5 158.9,1743.8 159.9,1745.3 160.9,1745.4 161.9,1744.3 162.9,1745.0 163.9,1746.2 164.9,1745.7 165.9,1746.2 166.9,1745.4 167.9,1744.0 168.9,1742.9 169.9,1743.1 170.9,1744.4 171.9,1744.6 172.9,1744.3 173.9,1744.5 174.9,1744.4 175.9,1744.3 176.9,1744.2 177.9,1744.1 178.9,1744.1 179.9,1744.1 180.9,1743.7 181.9,1743.8 182.9,1743.7 183.9,1743.7 184.9,1744.2 185.9,1744.5 186.9,1744.0 187.9,1742.7 188.9,1743.1 189.9,1743.8 190.9,1743.5 191.9,1744.5 192.9,1744.9 193.9,1744.1 194.9,1744.7 195.9,1744.7 196.9,1743.9 197.9,1744.3 198.9,1744.5 199.9,1745.6 200.9,1744.1 201.9,1742.3 202.9,1743.3 203.9,1743.4 204.9,1743.1 205.9,1743.5 206.9,1743.0 207.9,1741.7 208.9,1741.4 209.9,1741.9 210.9,1742.2 211.9,1742.1 212.9,1742.0 213.9,1743.1 214.9,1743.9 215.9,1744.5 216.9,1743.2 217.9,1741.9 218.9,1743.4 219.9,1743.7 220.9,1742.5 221.9,1741.9 222.9,1742.0 223.9,1742.4 224.9,1742.0 225.9,1742.6 226.9,1742.8 227.9,1742.4 228.9,1741.9 229.9,1741.8 230.9,1742.3 231.9,1742.9 232.9,1742.9 233.9,1742.3 234.9,1742.6 235.9,1740.7 236.9,1741.5 237.9,1742.8 238.9,1742.3 239.9,1741.1 240.9,1740.7 241.9,1741.2 242.9,1743.3 243.9,1742.3 244.9,1741.9 245.9,1743.7 246.9,1742.8 247.9,1741.9 248.9,1743.1 249.9,1741.9 250.9,1741.9 251.9,1741.7 252.9,1741.6 253.9,1743.1 254.9,1742.8 255.9,1742.2 256.9,1741.6 257.9,1742.2 258.9,1744.3 259.9,1743.1 260.9,1742.1 261.9,1741.8 262.9,1741.4 263.9,1740.6 264.9,1740.8 265.9,1740.4 266.9,1740.2 267.9,1741.0 268.9,1741.4 269.9,1742.4 270.9,1741.9 271.9,1741.0 272.9,1740.5 273.9,1741.9 274.9,1742.7 275.9,1741.5 276.9,1740.5 277.9,1740.1 278.9,1740.9 279.9,1740.4 280.9,1740.4 281.9,1741.3 282.9,1741.3 283.9,1741.0 284.9,1740.8 285.9,1740.6 286.9,1740.3 287.9,1740.5 288.9,1740.7 289.9,1740.1 290.9,1740.1 291.9,1739.9 292.9,1739.3 293.9,1739.0 294.9,1739.6 295.9,1738.8 296.9,1738.1 297.9,1739.4 298.9,1739.3 299.9,1739.7 300.9,1740.4 301.9,1739.5 302.9,1738.3 303.9,1737.9 304.9,1738.4 305.9,1740.5 306.9,1739.9 307.9,1737.9 308.9,1738.8 309.9,1739.8 310.9,1739.3 311.9,1738.6 312.9,1737.7 313.9,1738.3 314.9,1737.1 315.9,1736.8 316.9,1737.7 317.9,1737.2 318.9,1738.3 319.9,1738.7 320.9,1738.2 321.9,1738.2 322.9,1738.1 323.9,1738.8 324.9,1738.3 325.9,1737.7 326.9,1739.0 327.9,1739.4 328.9,1739.7 329.9,1740.7 330.9,1739.7 331.9,1739.2 332.9,1740.0 333.9,1740.0 334.9,1740.9 335.9,1742.1 336.9,1741.3 337.9,1740.4 338.9,1739.4 339.9,1739.6 340.9,1740.9 341.9,1740.9 342.9,1741.3 343.9,1743.7 344.9,1742.5 345.9,1741.4 346.9,1742.9 347.9,1743.4 348.9,1742.7 349.9,1742.5 350.9,1743.0 351.9,1743.6 352.9,1743.4 353.9,1743.6 354.9,1743.6 355.9,1743.9 356.9,1744.2 357.9,1743.4 358.9,1743.2 359.9,1744.9 360.9,1744.9 361.9,1744.7 362.9,1745.1 363.9,1745.1 364.9,1745.6 365.9,1745.2 366.9,1744.7 367.9,1744.7 368.9,1744.3 369.9,1743.9 370.9,1743.9 371.9,1745.0 372.9,1745.6 373.9,1745.3 374.9,1745.5 375.9,1745.6 376.9,1744.6 377.9,1745.1 378.9,1745.4 379.9,1744.3 380.9,1744.7 381.9,1746.3 382.9,1745.8 383.9,1744.9 384.9,1745.8 385.9,1746.5 386.9,1745.7 387.9,1744.9 388.9,1744.8 389.9,1744.1 390.9,1745.9 391.9,1747.4 392.9,1745.4 393.9,1744.7 394.9,1746.1 395.9,1745.8 396.9,1746.8 397.9,1746.9 398.9,1746.7 399.9,1746.3 400.9,1746.7 401.9,1747.8 402.9,1746.6 403.9,1745.2 404.9,1745.6 405.9,1745.6 406.9,1745.2 407.9,1745.8 408.9,1746.2 409.9,1745.9 410.9,1745.3 411.9,1745.4 412.9,1745.5 413.9,1745.7 414.9,1745.2 415.9,1745.4 416.9,1745.8 417.9,1747.0 418.9,1746.9 419.9,1745.8 420.9,1746.9 421.9,1746.9 422.9,1746.2 423.9,1746.8 424.9,1745.7 425.9,1744.4 426.9,1743.2 427.9,1742.9 428.9,1741.0 429.9,1740.0 430.9,1739.1 431.9,1738.3 432.9,1737.9 433.9,1736.8 434.9,1735.5 435.9,1735.5 436.9,1734.6 437.9,1736.0 438.9,1737.3 439.9,1737.3 440.9,1738.7 441.9,1741.5 442.9,1743.6 443.9,1745.5 444.9,1745.8 445.9,1745.0 446.9,1745.6 447.9,1746.7 448.9,1747.5 449.9,1748.2 450.9,1748.1 451.9,1748.1 452.9,1748.4 453.9,1748.1 454.9,1748.5 455.9,1749.0 456.9,1748.1 457.9,1748.1 458.9,1748.9 459.9,1749.3 460.9,1749.7 461.9,1750.9 462.9,1751.6 463.9,1750.1 464.9,1749.5 465.9,1749.5 466.9,1749.5 467.9,1750.1 468.9,1751.4 469.9,1752.1 470.9,1751.5 471.9,1750.3 472.9,1750.0 473.9,1750.1 474.9,1749.9 475.9,1750.0 476.9,1749.1 477.9,1749.9 478.9,1749.9 479.9,1748.7 480.9,1748.9 481.9,1749.2 482.9,1748.7 483.9,1748.8 484.9,1749.2 485.9,1749.8 486.9,1749.6 487.9,1749.3 488.9,1751.0 489.9,1750.6 490.9,1750.5 491.9,1751.2 492.9,1750.2 493.9,1749.9 494.9,1750.4 495.9,1750.9 496.9,1750.8 497.9,1750.7 498.9,1749.7 499.9,1750.4 500.9,1750.8 501.9,1749.7 502.9,1749.8 503.9,1750.1 504.9,1750.0 505.9,1749.8 506.9,1751.1 507.9,1751.8 508.9,1751.6 509.9,1752.3 510.9,1752.1 511.9,1750.8 512.9,1750.8 513.9,1751.1 514.9,1751.5 515.9,1752.1 516.9,1751.7 517.9,1751.2 518.9,1749.3 519.9,1749.4 520.9,1750.4 521.9,1749.8 522.9,1749.0 523.9,1748.6 524.9,1748.1 525.9,1748.1 526.9,1747.8 527.9,1746.7 528.9,1746.9 529.9,1745.9 530.9,1744.0 531.9,1741.7 532.9,1739.7 533.9,1736.4 534.9,1730.2 535.9,1724.7 536.9,1717.7 537.9,1707.0 538.9,1696.3 539.9,1684.9 540.9,1675.5 541.9,1668.3 542.9,1663.0 543.9,1663.0 544.9,1669.2 545.9,1677.8 546.9,1689.6 547.9,1701.1 548.9,1710.4 549.9,1718.4 550.9,1726.7 551.9,1733.4 552.9,1737.8 553.9,1740.4 554.9,1744.1 555.9,1746.3 556.9,1747.6 557.9,1748.2 558.9,1748.1 559.9,1747.8 560.9,1748.6 561.9,1748.8 562.9,1748.9 563.9,1749.2 564.9,1749.4 565.9,1749.8 566.9,1751.1 567.9,1751.2 568.9,1750.8 569.9,1750.7 570.9,1752.0 571.9,1751.8 572.9,1751.5 573.9,1751.4 574.9,1751.5 575.9,1751.6 576.9,1750.6 577.9,1750.8 578.9,1751.7 579.9,1752.1 580.9,1752.4 581.9,1752.4 582.9,1752.9 583.9,1750.9 584.9,1750.4 585.9,1752.1 586.9,1752.5 587.9,1751.8 588.9,1751.8 589.9,1751.6 590.9,1752.1 591.9,1752.9 592.9,1753.6 593.9,1752.7 594.9,1752.4 595.9,1753.5 596.9,1753.4 597.9,1753.9 598.9,1753.7 599.9,1753.3 600.9,1753.5 601.9,1753.0 602.9,1753.0 603.9,1753.6 604.9,1752.5 605.9,1752.5 606.9,1753.3 607.9,1753.1 608.9,1752.0 609.9,1752.1 610.9,1753.6 611.9,1755.0 612.9,1753.1 613.9,1751.9 614.9,1751.9 615.9,1751.3 616.9,1750.7 617.9,1751.2 618.9,1752.2 619.9,1753.1 620.9,1753.5 621.9,1754.6 622.9,1753.7 623.9,1752.4 624.9,1751.3 625.9,1751.5 626.9,1752.3 627.9,1753.0 628.9,1752.1 629.9,1751.5 630.9,1751.9 631.9,1752.7 632.9,1751.9 633.9,1752.6 634.9,1753.0 635.9,1752.3 636.9,1752.0 637.9,1752.3 638.9,1752.4 639.9,1752.7 640.9,1753.4 641.9,1753.4 642.9,1753.0 643.9,1753.4 644.9,1752.1 645.9,1751.3 646.9,1752.1 647.9,1752.7 648.9,1752.3 649.9,1752.4 650.9,1751.6 651.9,1752.7 652.9,1754.6 653.9,1754.0 654.9,1751.8 655.9,1751.1 656.9,1752.3 657.9,1751.5 658.9,1751.1 659.9,1751.7 660.9,1753.2 661.9,1753.0 662.9,1751.7 663.9,1751.6 664.9,1750.8 665.9,1752.2 666.9,1752.6 667.9,1752.2 668.9,1753.5 669.9,1753.9 670.9,1753.5 671.9,1753.7 672.9,1753.5 673.9,1752.6 674.9,1753.5 675.9,1753.6 676.9,1752.9 677.9,1752.1 678.9,1752.7 679.9,1754.0 680.9,1754.0 681.9,1753.4 682.9,1753.9 683.9,1754.7 684.9,1753.1 685.9,1752.6 686.9,1752.0 687.9,1752.1 688.9,1753.0 689.9,1752.8 690.9,1752.4 691.9,1752.9 692.9,1753.5 693.9,1753.6 694.9,1754.6 695.9,1754.3 696.9,1752.3 697.9,1752.6 698.9,1752.4 699.9,1751.6 700.9,1751.4 701.9,1751.3 702.9,1752.1 703.9,1753.1 704.9,1754.3 705.9,1754.0 706.9,1753.9 707.9,1753.6 708.9,1752.6 709.9,1753.6 710.9,1753.8 711.9,1752.3 712.9,1753.2 713.9,1753.7 714.9,1754.4 715.9,1754.6 716.9,1753.3 717.9,1752.8 718.9,1753.9 719.9,1753.0 720.9,1753.9 721.9,1754.1 722.9,1753.4 723.9,1753.9 724.9,1754.7 725.9,1754.0 726.9,1753.8 727.9,1752.9 728.9,1751.9 729.9,1752.1 730.9,1751.9 731.9,1752.3 732.9,1751.8 733.9,1751.5 734.9,1751.2 735.9,1752.1 736.9,1753.6 737.9,1752.8 738.9,1752.7 739.9,1753.2 740.9,1753.1 741.9,1752.9 742.9,1753.4 743.9,1752.9 744.9,1752.3 745.9,1751.8 746.9,1752.6 747.9,1752.5 748.9,1751.2 749.9,1752.4 750.9,1752.9 751.9,1752.7 752.9,1752.9 753.9,1752.9 754.9,1753.0 755.9,1752.9 756.9,1752.2 757.9,1753.4 758.9,1754.5 759.9,1754.5 760.9,1753.2 761.9,1753.8 762.9,1754.2 763.9,1754.5 764.9,1754.6 765.9,1752.7 766.9,1753.0 767.9,1753.1 768.9,1753.2 769.9,1753.4 770.9,1753.5 771.9,1754.4 772.9,1753.9 773.9,1754.4 774.9,1755.1 775.9,1754.2 776.9,1753.6 777.9,1753.6 778.9,1753.9 779.9,1753.1 780.9,1752.8 781.9,1753.3 782.9,1754.0 783.9,1754.0 784.9,1753.6 785.9,1753.2 786.9,1753.3 787.9,1753.1 788.9,1752.9 789.9,1753.2 790.9,1753.3 791.9,1753.0 792.9,1754.4 793.9,1753.5 794.9,1753.1 795.9,1754.5 796.9,1754.1 797.9,1753.5 798.9,1754.7 799.9,1756.1 800.9,1755.4 801.9,1754.4 802.9,1754.9 803.9,1755.4 804.9,1755.0 805.9,1754.6 806.9,1752.9 807.9,1752.4 808.9,1752.8 809.9,1753.9 810.9,1753.9 811.9,1754.1 812.9,1754.0 813.9,1753.6 814.9,1753.6 815.9,1753.2 816.9,1752.7 817.9,1753.4 818.9,1754.1 819.9,1754.6 820.9,1754.0 821.9,1754.1 822.9,1754.0 823.9,1754.2 824.9,1753.4 825.9,1751.8 826.9,1752.9 827.9,1753.3 828.9,1752.7 829.9,1752.5 830.9,1752.5 831.9,1751.5 832.9,1751.2 833.9,1752.7 834.9,1752.4 835.9,1752.6 836.9,1752.7 837.9,1752.2 838.9,1752.8 839.9,1752.9 840.9,1751.0 841.9,1751.9 842.9,1752.2 843.9,1751.8 844.9,1752.0 845.9,1751.4 846.9,1751.9 847.9,1752.9 848.9,1752.6 849.9,1753.2 850.9,1751.9 851.9,1751.1 852.9,1752.0 853.9,1753.6 854.9,1753.8 855.9,1753.7 856.9,1754.2 857.9,1754.2 858.9,1754.6 859.9,1753.7 860.9,1753.4 861.9,1753.8 862.9,1752.8 863.9,1751.8 864.9,1752.6 865.9,1752.9 866.9,1752.7 867.9,1751.9 868.9,1752.9 869.9,1753.9 870.9,1752.8 871.9,1752.9 872.9,1751.2 873.9,1750.9 874.9,1750.5 875.9,1749.6 876.9,1749.2 877.9,1749.1 878.9,1747.9 879.9,1746.2 880.9,1745.2 881.9,1745.1 882.9,1744.2 883.9,1741.4 884.9,1741.0 885.9,1741.7 886.9,1739.7 887.9,1737.4 888.9,1737.6 889.9,1738.4 890.9,1738.6 891.9,1737.9 892.9,1739.3 893.9,1742.6 894.9,1742.7 895.9,1742.9 896.9,1744.8 897.9,1745.7 898.9,1746.3 899.9,1747.4 900.9,1749.0 901.9,1750.1 902.9,1748.8 903.9,1748.1 904.9,1749.7 905.9,1751.3 906.9,1752.2 907.9,1753.4 908.9,1754.1 909.9,1752.8 910.9,1752.5 911.9,1753.9 912.9,1754.8 913.9,1753.9 914.9,1753.8 915.9,1754.5 916.9,1754.2 917.9,1753.6 918.9,1754.9 919.9,1754.4 920.9,1754.1 921.9,1756.0 922.9,1755.9 923.9,1754.3 924.9,1753.8 925.9,1754.3 926.9,1754.4 927.9,1754.8 928.9,1754.8 929.9,1755.7 930.9,1754.9 931.9,1754.1 932.9,1753.7 933.9,1755.1 934.9,1755.8 935.9,1754.4 936.9,1753.9 937.9,1754.7 938.9,1754.7 939.9,1755.3 940.9,1755.9 941.9,1756.0 942.9,1757.3 943.9,1756.8 944.9,1754.8 945.9,1755.9 946.9,1756.2 947.9,1755.9 948.9,1755.6 949.9,1754.5 950.9,1755.2 951.9,1755.3 952.9,1755.0 953.9,1755.7 954.9,1755.3 955.9,1754.1 956.9,1755.1 957.9,1754.6 958.9,1753.9 959.9,1754.4 960.9,1755.0 961.9,1755.5 962.9,1755.2 963.9,1755.0 964.9,1755.3 965.9,1756.9 966.9,1757.4 967.9,1756.0 968.9,1755.3 969.9,1756.2 970.9,1755.2 971.9,1754.2 972.9,1753.2 973.9,1753.0 974.9,1754.5 975.9,1755.9 976.9,1754.9 977.9,1753.6 978.9,1753.0 979.9,1754.6 980.9,1755.4 981.9,1754.8 982.9,1753.9 983.9,1754.4 984.9,1755.3 985.9,1755.4 986.9,1755.8 987.9,1755.5 988.9,1756.6 989.9,1756.9 990.9,1756.0 991.9,1755.1 992.9,1755.4 993.9,1756.0 994.9,1756.5 995.9,1756.8 996.9,1756.6 997.9,1756.8 998.9,1756.2 999.9,1755.5 1000.9,1755.6 1001.9,1757.0 1002.9,1756.9 1003.9,1756.5 1004.9,1757.0 1005.9,1757.2 1006.9,1756.8 1007.9,1754.9 1008.9,1754.2 1009.9,1755.3 1010.9,1756.0 1011.9,1755.9 1012.9,1757.6 1013.9,1757.6 1014.9,1758.1 1015.9,1758.3 1016.9,1757.2 1017.9,1756.1 1018.9,1756.6 1019.9,1755.2 1020.9,1755.5 1021.9,1756.5 1022.9,1756.6 1023.9,1755.9 1024.9,1755.0 1025.9,1754.6 1026.9,1755.0 1027.9,1755.2 1028.9,1755.2 1029.9,1756.3 1030.9,1756.6 1031.9,1755.7 1032.9,1755.5 1033.9,1755.3 1034.9,1755.3 1035.9,1756.3 1036.9,1756.2 1037.9,1754.6 1038.9,1754.4 1039.9,1755.3 1040.9,1756.0 1041.9,1755.6 1042.9,1754.8 1043.9,1754.0 1044.9,1754.0 1045.9,1754.5 1046.9,1754.7 1047.9,1755.2 1048.9,1755.4 1049.9,1755.3 1050.9,1755.1 1051.9,1754.6 1052.9,1755.1 1053.9,1755.5 1054.9,1755.0 1055.9,1754.8 1056.9,1755.6 1057.9,1755.5 1058.9,1755.8 1059.9,1756.5 1060.9,1754.6 1061.9,1754.8 1062.9,1756.3 1063.9,1755.3 1064.9,1754.5 1065.9,1755.4 1066.9,1756.3 1067.9,1756.0 1068.9,1755.5 1069.9,1755.1 1070.9,1756.0 1071.9,1755.8 1072.9,1754.0 1073.9,1754.7 1074.9,1755.8 1075.9,1755.5 1076.9,1755.4 1077.9,1754.9 1078.9,1754.8 1079.9,1755.5 1080.9,1755.0 1081.9,1754.3 1082.9,1754.1 1083.9,1753.9 1084.9,1754.4 1085.9,1753.8 1086.9,1753.8 1087.9,1752.7 1088.9,1752.6 1089.9,1752.6 1090.9,1752.7 1091.9,1753.1 1092.9,1752.7 1093.9,1752.8 1094.9,1753.0 1095.9,1751.9 1096.9,1751.1 1097.9,1749.6 1098.9,1749.0 1099.9,1749.7 1100.9,1749.8 1101.9,1751.5 1102.9,1749.9 1103.9,1748.4 1104.9,1748.0 1105.9,1748.2 1106.9,1749.0 1107.9,1749.5 1108.9,1747.9 1109.9,1748.7 1110.9,1749.0 1111.9,1749.7 1112.9,1748.1 1113.9,1748.1 1114.9,1748.7 1115.9,1750.3 1116.9,1750.4 1117.9,1750.8 1118.9,1751.0 1119.9,1751.6 1120.9,1751.5 1121.9,1751.9 1122.9,1752.1 1123.9,1751.6 1124.9,1752.8 1125.9,1752.8 1126.9,1752.5 1127.9,1753.3 1128.9,1753.8 1129.9,1755.1 1130.9,1756.4 1131.9,1756.1 1132.9,1755.3 1133.9,1754.3 1134.9,1753.0 1135.9,1753.1 1136.9,1751.6 1137.9,1752.4 1138.9,1754.2 1139.9,1755.4 1140.9,1757.2 1141.9,1757.2 1142.9,1756.8 1143.9,1757.0 1144.9,1756.6 1145.9,1756.7 1146.9,1755.7 1147.9,1756.6 1148.9,1757.2 1149.9,1755.0 1150.9,1755.4 1151.9,1756.1 1152.9,1755.2 1153.9,1755.2 1154.9,1755.5 1155.9,1755.9 1156.9,1755.5 1157.9,1755.3 1158.9,1753.8 1159.9,1754.7 1160.9,1755.7 1161.9,1754.9 1162.9,1753.9 1163.9,1753.0 1164.9,1753.7 1165.9,1754.6 1166.9,1754.7 1167.9,1754.9 1168.9,1754.2 1169.9,1753.5 1170.9,1752.8 1171.9,1751.7 1172.9,1751.9 1173.9,1752.1 1174.9,1752.2 1175.9,1752.5 1176.9,1751.4 1177.9,1752.6 1178.9,1753.7 1179.9,1753.3 1180.9,1752.2 1181.9,1751.9 1182.9,1752.8 1183.9,1752.4 1184.9,1752.5 1185.9,1753.0 1186.9,1753.6 1187.9,1753.2 1188.9,1753.0 1189.9,1755.6 1190.9,1756.5 1191.9,1755.4 1192.9,1754.0 1193.9,1754.4 1194.9,1754.4 1195.9,1754.0 1196.9,1755.3 1197.9,1756.4 1198.9,1755.6 1199.9,1756.3 1200.9,1755.4 1201.9,1754.8 1202.9,1755.7 1203.9,1756.4 1204.9,1756.5 1205.9,1755.1 1206.9,1754.4 1207.9,1755.6 1208.9,1755.2 1209.9,1754.6 1210.9,1755.8 1211.9,1756.1 1212.9,1755.4 1213.9,1754.9 1214.9,1756.0 1215.9,1756.0 1216.9,1756.2 1217.9,1756.4 1218.9,1757.5 1219.9,1757.9 1220.9,1756.4 1221.9,1754.2 1222.9,1754.5 1223.9,1755.2 1224.9,1754.8 1225.9,1752.6 1226.9,1753.1 1227.9,1754.2 1228.9,1754.6 1229.9,1754.2 1230.9,1755.8 1231.9,1756.5 1232.9,1756.2 1233.9,1755.0 1234.9,1756.0 1235.9,1757.0 1236.9,1758.2 1237.9,1758.5 1238.9,1758.0 1239.9,1756.1 1240.9,1756.0 1241.9,1757.1 1242.9,1756.3 1243.9,1756.7 1244.9,1757.2 1245.9,1755.5 1246.9,1754.8 1247.9,1756.7 1248.9,1757.3 1249.9,1756.6 1250.9,1756.6 1251.9,1757.0 1252.9,1758.6 1253.9,1757.4 1254.9,1755.8 1255.9,1756.7 1256.9,1757.5 1257.9,1757.0 1258.9,1756.4 1259.9,1756.5 1260.9,1756.5 1261.9,1756.5 1262.9,1756.8 1263.9,1756.0 1264.9,1756.9 1265.9,1757.3 1266.9,1756.5 1267.9,1757.0 1268.9,1757.9 1269.9,1757.2 1270.9,1757.4 1271.9,1757.8 1272.9,1756.5 1273.9,1755.2 1274.9,1756.1 1275.9,1757.1 1276.9,1756.5 1277.9,1756.1 1278.9,1756.6 1279.9,1757.0 1280.9,1757.2 1281.9,1757.2 1282.9,1756.5 1283.9,1756.1 1284.9,1756.6 1285.9,1756.0 1286.9,1757.0 1287.9,1757.0 1288.9,1756.5 1289.9,1757.4 1290.9,1758.6 1291.9,1757.3 1292.9,1756.7 1293.9,1757.1 1294.9,1757.1 1295.9,1757.0 1296.9,1755.8 1297.9,1754.8 1298.9,1755.8 1299.9,1755.7 1300.9,1757.3 1301.9,1759.6 1302.9,1758.5 1303.9,1757.0 1304.9,1758.2 1305.9,1757.4 1306.9,1757.0 1307.9,1758.6 1308.9,1757.1 1309.9,1757.2 1310.9,1758.9 1311.9,1758.6 1312.9,1758.4 1313.9,1757.8 1314.9,1756.9 1315.9,1757.2 1316.9,1756.8 1317.9,1756.8 1318.9,1756.0 1319.9,1755.3 1320.9,1755.3 1321.9,1755.9 1322.9,1756.8 1323.9,1758.0 1324.9,1758.4 1325.9,1757.2 1326.9,1756.5 1327.9,1758.3 1328.9,1757.2 1329.9,1756.6 1330.9,1756.5 1331.9,1756.4 1332.9,1757.3 1333.9,1757.5 1334.9,1757.2 1335.9,1756.3 1336.9,1755.3 1337.9,1754.8 1338.9,1756.6 1339.9,1757.6 1340.9,1757.4 1341.9,1757.4 1342.9,1758.0 1343.9,1758.8 1344.9,1758.4 1345.9,1757.3 1346.9,1757.6 1347.9,1757.0 1348.9,1756.4 1349.9,1756.6 1350.9,1756.8 1351.9,1756.1 1352.9,1757.2 1353.9,1756.7 1354.9,1754.9 1355.9,1755.3 1356.9,1756.0 1357.9,1755.6 1358.9,1756.1 1359.9,1757.2 1360.9,1757.7 1361.9,1757.8 1362.9,1757.0 1363.9,1756.4 1364.9,1757.2 1365.9,1755.8 1366.9,1755.4 1367.9,1755.4 1368.9,1755.8 1369.9,1756.1 1370.9,1757.4 1371.9,1756.3 1372.9,1755.7 1373.9,1757.0 1374.9,1757.4 1375.9,1757.2 1376.9,1757.7 1377.9,1757.6 1378.9,1757.2 1379.9,1756.7 1380.9,1756.0 1381.9,1755.6 1382.9,1755.9 1383.9,1756.2 1384.9,1756.2 1385.9,1757.4 1386.9,1757.9 1387.9,1756.7 1388.9,1756.2 1389.9,1756.4" fill="none" stroke="#0b4ca8" stroke-width="6.4" stroke-linejoin="round" stroke-linecap="butt" />
<polyline points="132.9,1631.9 133.9,1630.8 134.9,1629.7 135.9,1629.3 136.9,1628.3 137.9,1627.7 138.9,1628.6 139.9,1629.2 140.9,1627.7 141.9,1627.9 142.9,1629.2 143.9,1630.5 144.9,1631.0 145.9,1630.3 146.9,1630.0 147.9,1630.7 148.9,1631.4 149.9,1631.0 150.9,1630.1 151.9,1629.6 152.9,1628.8 153.9,1628.3 154.9,1629.2 155.9,1628.9 156.9,1628.7 157.9,1629.3 158.9,1628.9 159.9,1629.2 160.9,1629.7 161.9,1629.9 162.9,1629.4 163.9,1629.1 164.9,1630.4 165.9,1630.2 166.9,1629.8 167.9,1629.5 168.9,1628.1 169.9,1629.7 170.9,1629.3 171.9,1628.9 172.9,1629.6 173.9,1629.2 174.9,1627.3 175.9,1627.9 176.9,1629.5 177.9,1629.5 178.9,1628.9 179.9,1629.0 180.9,1628.6 181.9,1628.5 182.9,1629.9 183.9,1630.5 184.9,1629.8 185.9,1629.3 186.9,1628.4 187.9,1629.2 188.9,1629.4 189.9,1629.6 190.9,1629.8 191.9,1630.3 192.9,1629.6 193.9,1629.5 194.9,1630.1 195.9,1629.6 196.9,1629.0 197.9,1628.5 198.9,1626.6 199.9,1626.9 200.9,1627.6 201.9,1628.9 202.9,1629.6 203.9,1630.4 204.9,1630.2 205.9,1629.4 206.9,1629.8 207.9,1630.9 208.9,1631.2 209.9,1630.4 210.9,1629.6 211.9,1630.6 212.9,1629.9 213.9,1628.4 214.9,1628.7 215.9,1629.2 216.9,1628.7 217.9,1628.7 218.9,1629.1 219.9,1628.1 220.9,1627.4 221.9,1627.8 222.9,1627.9 223.9,1628.4 224.9,1628.9 225.9,1628.5 226.9,1629.9 227.9,1630.3 228.9,1629.5 229.9,1629.3 230.9,1627.9 231.9,1627.6 232.9,1628.4 233.9,1628.3 234.9,1629.0 235.9,1629.0 236.9,1628.8 237.9,1627.8 238.9,1627.7 239.9,1628.8 240.9,1628.4 241.9,1628.9 242.9,1628.2 243.9,1628.2 244.9,1629.9 245.9,1629.6 246.9,1627.9 247.9,1629.1 248.9,1630.2 249.9,1629.9 250.9,1629.2 251.9,1628.6 252.9,1628.4 253.9,1629.0 254.9,1629.8 255.9,1629.6 256.9,1628.9 257.9,1629.4 258.9,1628.7 259.9,1627.4 260.9,1626.8 261.9,1626.6 262.9,1627.3 263.9,1627.7 264.9,1627.9 265.9,1628.7 266.9,1629.4 267.9,1629.5 268.9,1629.5 269.9,1629.1 270.9,1627.8 271.9,1628.5 272.9,1629.7 273.9,1629.1 274.9,1628.6 275.9,1628.0 276.9,1627.2 277.9,1628.0 278.9,1628.2 279.9,1627.7 280.9,1627.8 281.9,1626.7 282.9,1627.5 283.9,1628.2 284.9,1626.2 285.9,1627.0 286.9,1627.9 287.9,1627.3 288.9,1626.3 289.9,1625.3 290.9,1625.5 291.9,1626.6 292.9,1626.4 293.9,1626.5 294.9,1626.4 295.9,1626.2 296.9,1626.0 297.9,1625.1 298.9,1625.4 299.9,1624.8 300.9,1624.2 301.9,1623.4 302.9,1622.2 303.9,1622.2 304.9,1622.0 305.9,1621.2 306.9,1620.8 307.9,1620.2 308.9,1618.9 309.9,1618.6 310.9,1617.4 311.9,1616.1 312.9,1614.9 313.9,1614.1 314.9,1614.8 315.9,1615.1 316.9,1613.7 317.9,1614.3 318.9,1612.2 319.9,1612.4 320.9,1614.5 321.9,1614.8 322.9,1615.2 323.9,1615.9 324.9,1617.5 325.9,1619.7 326.9,1620.2 327.9,1620.5 328.9,1620.9 329.9,1621.2 330.9,1621.6 331.9,1622.9 332.9,1623.6 333.9,1623.2 334.9,1623.9 335.9,1625.0 336.9,1625.8 337.9,1626.0 338.9,1625.6 339.9,1625.7 340.9,1626.1 341.9,1625.5 342.9,1626.2 343.9,1627.3 344.9,1627.2 345.9,1627.1 346.9,1627.7 347.9,1628.0 348.9,1627.8 349.9,1627.4 350.9,1627.9 351.9,1627.5 352.9,1627.5 353.9,1627.2 354.9,1627.2 355.9,1628.0 356.9,1629.0 357.9,1628.3 358.9,1626.5 359.9,1627.4 360.9,1627.8 361.9,1627.2 362.9,1628.3 363.9,1628.7 364.9,1628.6 365.9,1627.8 366.9,1628.4 367.9,1629.2 368.9,1629.0 369.9,1628.9 370.9,1628.8 371.9,1630.2 372.9,1631.0 373.9,1629.8 374.9,1629.1 375.9,1628.8 376.9,1627.9 377.9,1627.8 378.9,1628.0 379.9,1628.8 380.9,1628.6 381.9,1628.3 382.9,1628.6 383.9,1629.6 384.9,1629.3 385.9,1629.4 386.9,1630.5 387.9,1629.4 388.9,1628.8 389.9,1628.9 390.9,1629.1 391.9,1630.3 392.9,1630.5 393.9,1629.1 394.9,1628.7 395.9,1629.0 396.9,1630.7 397.9,1630.6 398.9,1629.0 399.9,1629.1 400.9,1629.1 401.9,1628.6 402.9,1629.1 403.9,1628.2 404.9,1628.1 405.9,1627.9 406.9,1628.5 407.9,1629.2 408.9,1629.8 409.9,1628.6 410.9,1627.7 411.9,1628.4 412.9,1629.5 413.9,1630.0 414.9,1630.0 415.9,1628.5 416.9,1627.5 417.9,1630.9 418.9,1630.8 419.9,1630.1 420.9,1629.3 421.9,1627.9 422.9,1628.3 423.9,1628.5 424.9,1627.5 425.9,1627.9 426.9,1627.0 427.9,1625.1 428.9,1625.4 429.9,1625.0 430.9,1622.8 431.9,1620.4 432.9,1619.1 433.9,1615.8 434.9,1613.9 435.9,1611.4 436.9,1608.6 437.9,1606.6 438.9,1605.9 439.9,1604.2 440.9,1604.0 441.9,1605.3 442.9,1606.0 443.9,1608.5 444.9,1611.7 445.9,1614.3 446.9,1616.2 447.9,1618.9 448.9,1621.9 449.9,1623.3 450.9,1624.9 451.9,1627.3 452.9,1628.4 453.9,1630.5 454.9,1632.6 455.9,1630.6 456.9,1630.3 457.9,1630.9 458.9,1630.0 459.9,1631.1 460.9,1631.6 461.9,1631.0 462.9,1632.1 463.9,1632.2 464.9,1631.5 465.9,1632.2 466.9,1633.8 467.9,1634.5 468.9,1634.9 469.9,1635.0 470.9,1633.6 471.9,1633.4 472.9,1634.6 473.9,1635.2 474.9,1635.5 475.9,1635.3 476.9,1634.3 477.9,1634.7 478.9,1633.4 479.9,1632.1 480.9,1632.9 481.9,1632.2 482.9,1632.6 483.9,1633.0 484.9,1632.7 485.9,1633.7 486.9,1633.4 487.9,1633.0 488.9,1633.8 489.9,1633.4 490.9,1633.5 491.9,1634.0 492.9,1632.4 493.9,1632.3 494.9,1633.9 495.9,1633.2 496.9,1632.6 497.9,1632.7 498.9,1632.2 499.9,1632.8 500.9,1633.3 501.9,1632.9 502.9,1631.3 503.9,1632.6 504.9,1634.0 505.9,1633.7 506.9,1633.5 507.9,1633.7 508.9,1632.0 509.9,1632.1 510.9,1633.0 511.9,1632.7 512.9,1632.1 513.9,1632.1 514.9,1632.4 515.9,1632.1 516.9,1631.1 517.9,1630.6 518.9,1631.8 519.9,1631.8 520.9,1630.8 521.9,1631.3 522.9,1631.5 523.9,1631.3 524.9,1632.5 525.9,1632.9 526.9,1632.9 527.9,1631.4 528.9,1630.0 529.9,1630.2 530.9,1630.2 531.9,1629.0 532.9,1628.0 533.9,1628.5 534.9,1627.8 535.9,1625.0 536.9,1623.1 537.9,1620.5 538.9,1618.6 539.9,1616.7 540.9,1612.0 541.9,1607.7 542.9,1604.8 543.9,1600.0 544.9,1593.7 545.9,1588.6 546.9,1585.1 547.9,1580.4 548.9,1577.7 549.9,1576.2 550.9,1576.3 551.9,1580.2 552.9,1584.0 553.9,1588.3 554.9,1595.7 555.9,1600.5 556.9,1605.6 557.9,1610.4 558.9,1614.0 559.9,1616.9 560.9,1619.8 561.9,1622.0 562.9,1624.2 563.9,1626.5 564.9,1627.2 565.9,1627.0 566.9,1629.1 567.9,1629.5 568.9,1630.2 569.9,1629.4 570.9,1628.6 571.9,1628.8 572.9,1630.4 573.9,1630.8 574.9,1630.4 575.9,1631.1 576.9,1632.2 577.9,1630.9 578.9,1631.3 579.9,1632.2 580.9,1633.4 581.9,1633.8 582.9,1633.1 583.9,1633.0 584.9,1632.5 585.9,1631.7 586.9,1632.1 587.9,1633.3 588.9,1634.2 589.9,1633.6 590.9,1632.4 591.9,1632.4 592.9,1633.7 593.9,1632.9 594.9,1632.6 595.9,1633.7 596.9,1634.2 597.9,1633.3 598.9,1632.9 599.9,1633.2 600.9,1633.3 601.9,1633.6 602.9,1634.0 603.9,1633.7 604.9,1631.9 605.9,1630.9 606.9,1631.7 607.9,1632.6 608.9,1633.9 609.9,1633.8 610.9,1632.9 611.9,1633.9 612.9,1634.9 613.9,1633.4 614.9,1632.6 615.9,1632.7 616.9,1632.7 617.9,1633.0 618.9,1632.4 619.9,1632.4 620.9,1631.6 621.9,1631.4 622.9,1632.2 623.9,1632.2 624.9,1631.3 625.9,1631.2 626.9,1633.5 627.9,1633.6 628.9,1631.8 629.9,1632.8 630.9,1634.4 631.9,1633.7 632.9,1632.7 633.9,1633.5 634.9,1632.7 635.9,1632.8 636.9,1633.5 637.9,1633.2 638.9,1632.0 639.9,1633.0 640.9,1633.5 641.9,1633.3 642.9,1633.3 643.9,1633.5 644.9,1633.9 645.9,1634.2 646.9,1633.4 647.9,1633.4 648.9,1632.9 649.9,1632.4 650.9,1633.3 651.9,1633.3 652.9,1633.1 653.9,1633.4 654.9,1632.8 655.9,1632.6 656.9,1631.3 657.9,1629.9 658.9,1631.9 659.9,1632.4 660.9,1632.1 661.9,1630.3 662.9,1631.0 663.9,1632.4 664.9,1632.1 665.9,1631.5 666.9,1632.5 667.9,1631.1 668.9,1630.5 669.9,1631.2 670.9,1631.8 671.9,1632.5 672.9,1632.0 673.9,1631.3 674.9,1632.0 675.9,1630.8 676.9,1630.7 677.9,1631.4 678.9,1630.7 679.9,1630.2 680.9,1630.9 681.9,1629.8 682.9,1630.9 683.9,1632.3 684.9,1630.2 685.9,1630.7 686.9,1630.8 687.9,1630.4 688.9,1631.4 689.9,1632.1 690.9,1633.0 691.9,1632.9 692.9,1632.8 693.9,1632.7 694.9,1632.8 695.9,1633.0 696.9,1633.3 697.9,1632.6 698.9,1632.3 699.9,1632.5 700.9,1632.7 701.9,1632.4 702.9,1631.8 703.9,1631.6 704.9,1632.8 705.9,1631.8 706.9,1630.0 707.9,1630.7 708.9,1631.5 709.9,1631.5 710.9,1632.1 711.9,1633.2 712.9,1632.8 713.9,1632.1 714.9,1632.2 715.9,1633.1 716.9,1633.3 717.9,1632.8 718.9,1632.4 719.9,1631.6 720.9,1632.0 721.9,1632.7 722.9,1633.2 723.9,1633.6 724.9,1633.9 725.9,1633.1 726.9,1632.4 727.9,1633.3 728.9,1632.5 729.9,1631.8 730.9,1633.4 731.9,1632.4 732.9,1631.3 733.9,1630.5 734.9,1632.2 735.9,1635.0 736.9,1634.7 737.9,1633.7 738.9,1633.5 739.9,1633.3 740.9,1633.8 741.9,1634.4 742.9,1633.8 743.9,1633.1 744.9,1633.1 745.9,1634.1 746.9,1634.9 747.9,1635.0 748.9,1634.5 749.9,1634.7 750.9,1634.0 751.9,1633.7 752.9,1633.6 753.9,1632.5 754.9,1633.5 755.9,1633.9 756.9,1633.4 757.9,1633.7 758.9,1634.1 759.9,1632.9 760.9,1632.5 761.9,1632.0 762.9,1631.4 763.9,1632.5 764.9,1632.8 765.9,1633.6 766.9,1634.7 767.9,1634.4 768.9,1634.1 769.9,1635.5 770.9,1636.0 771.9,1634.9 772.9,1635.0 773.9,1635.1 774.9,1635.7 775.9,1636.1 776.9,1634.7 777.9,1634.3 778.9,1634.5 779.9,1633.8 780.9,1633.3 781.9,1632.5 782.9,1632.5 783.9,1633.8 784.9,1633.3 785.9,1632.6 786.9,1633.4 787.9,1633.4 788.9,1634.3 789.9,1635.4 790.9,1634.8 791.9,1633.9 792.9,1632.9 793.9,1632.7 794.9,1633.7 795.9,1633.6 796.9,1633.7 797.9,1633.9 798.9,1633.8 799.9,1633.2 800.9,1632.9 801.9,1633.4 802.9,1633.3 803.9,1632.9 804.9,1631.8 805.9,1632.1 806.9,1633.5 807.9,1634.3 808.9,1633.9 809.9,1634.5 810.9,1634.2 811.9,1634.8 812.9,1633.9 813.9,1633.5 814.9,1633.9 815.9,1634.1 816.9,1633.2 817.9,1633.4 818.9,1633.0 819.9,1632.5 820.9,1633.1 821.9,1633.7 822.9,1634.7 823.9,1633.8 824.9,1633.8 825.9,1633.5 826.9,1632.2 827.9,1632.1 828.9,1633.0 829.9,1634.2 830.9,1633.7 831.9,1634.0 832.9,1634.5 833.9,1633.3 834.9,1634.1 835.9,1635.9 836.9,1635.7 837.9,1634.8 838.9,1634.0 839.9,1633.5 840.9,1634.3 841.9,1634.9 842.9,1634.6 843.9,1634.7 844.9,1634.9 845.9,1634.5 846.9,1635.4 847.9,1634.7 848.9,1635.8 849.9,1635.5 850.9,1634.3 851.9,1635.5 852.9,1635.1 853.9,1634.2 854.9,1634.7 855.9,1634.9 856.9,1634.1 857.9,1633.5 858.9,1634.3 859.9,1636.0 860.9,1635.9 861.9,1634.4 862.9,1633.6 863.9,1633.3 864.9,1632.7 865.9,1634.1 866.9,1634.6 867.9,1635.5 868.9,1634.4 869.9,1632.5 870.9,1632.9 871.9,1634.3 872.9,1633.6 873.9,1632.4 874.9,1633.0 875.9,1634.3 876.9,1633.9 877.9,1633.0 878.9,1632.0 879.9,1631.1 880.9,1630.6 881.9,1630.0 882.9,1630.0 883.9,1630.0 884.9,1629.2 885.9,1629.5 886.9,1629.2 887.9,1627.0 888.9,1626.1 889.9,1624.9 890.9,1623.5 891.9,1623.7 892.9,1622.4 893.9,1622.2 894.9,1622.7 895.9,1622.2 896.9,1621.5 897.9,1621.7 898.9,1621.4 899.9,1620.4 900.9,1621.3 901.9,1621.9 902.9,1621.2 903.9,1622.0 904.9,1623.7 905.9,1624.8 906.9,1624.5 907.9,1625.2 908.9,1625.6 909.9,1626.3 910.9,1628.1 911.9,1629.7 912.9,1630.0 913.9,1630.9 914.9,1630.7 915.9,1631.2 916.9,1631.9 917.9,1632.1 918.9,1633.1 919.9,1633.3 920.9,1633.1 921.9,1634.5 922.9,1635.3 923.9,1634.3 924.9,1634.4 925.9,1634.1 926.9,1635.5 927.9,1635.3 928.9,1635.8 929.9,1637.0 930.9,1638.4 931.9,1638.1 932.9,1637.2 933.9,1636.3 934.9,1636.2 935.9,1637.2 936.9,1637.6 937.9,1638.0 938.9,1637.5 939.9,1637.3 940.9,1636.6 941.9,1635.8 942.9,1636.5 943.9,1637.5 944.9,1637.7 945.9,1637.9 946.9,1637.7 947.9,1636.6 948.9,1637.6 949.9,1638.4 950.9,1638.4 951.9,1638.7 952.9,1637.9 953.9,1636.8 954.9,1637.0 955.9,1637.0 956.9,1637.9 957.9,1638.3 958.9,1636.3 959.9,1636.7 960.9,1637.1 961.9,1637.0 962.9,1637.1 963.9,1637.2 964.9,1639.4 965.9,1639.5 966.9,1636.7 967.9,1636.9 968.9,1637.3 969.9,1637.9 970.9,1638.5 971.9,1637.6 972.9,1637.4 973.9,1638.6 974.9,1638.7 975.9,1637.4 976.9,1637.5 977.9,1638.0 978.9,1637.9 979.9,1637.5 980.9,1638.5 981.9,1639.3 982.9,1638.0 983.9,1636.9 984.9,1637.7 985.9,1638.2 986.9,1638.2 987.9,1638.4 988.9,1638.3 989.9,1638.4 990.9,1638.6 991.9,1638.1 992.9,1638.8 993.9,1639.4 994.9,1638.3 995.9,1638.1 996.9,1640.9 997.9,1640.0 998.9,1638.9 999.9,1640.6 1000.9,1639.3 1001.9,1637.1 1002.9,1637.9 1003.9,1637.3 1004.9,1637.3 1005.9,1638.0 1006.9,1638.1 1007.9,1637.8 1008.9,1637.4 1009.9,1637.2 1010.9,1638.5 1011.9,1639.3 1012.9,1639.1 1013.9,1638.3 1014.9,1639.6 1015.9,1639.2 1016.9,1638.6 1017.9,1639.0 1018.9,1638.4 1019.9,1639.3 1020.9,1639.4 1021.9,1636.4 1022.9,1637.8 1023.9,1638.9 1024.9,1639.2 1025.9,1638.8 1026.9,1638.4 1027.9,1637.8 1028.9,1638.4 1029.9,1639.1 1030.9,1638.3 1031.9,1637.5 1032.9,1638.0 1033.9,1638.0 1034.9,1639.1 1035.9,1638.3 1036.9,1637.8 1037.9,1637.7 1038.9,1638.3 1039.9,1638.4 1040.9,1637.3 1041.9,1638.2 1042.9,1638.7 1043.9,1637.6 1044.9,1637.9 1045.9,1637.9 1046.9,1638.1 1047.9,1639.7 1048.9,1639.0 1049.9,1638.7 1050.9,1639.3 1051.9,1640.2 1052.9,1639.9 1053.9,1639.7 1054.9,1639.6 1055.9,1639.8 1056.9,1638.2 1057.9,1637.2 1058.9,1637.3 1059.9,1637.2 1060.9,1637.2 1061.9,1637.7 1062.9,1637.7 1063.9,1637.8 1064.9,1637.4 1065.9,1636.1 1066.9,1636.7 1067.9,1638.0 1068.9,1638.1 1069.9,1637.4 1070.9,1637.1 1071.9,1636.6 1072.9,1636.3 1073.9,1637.3 1074.9,1637.9 1075.9,1638.9 1076.9,1637.7 1077.9,1636.7 1078.9,1637.1 1079.9,1637.7 1080.9,1637.9 1081.9,1638.3 1082.9,1638.0 1083.9,1637.4 1084.9,1637.6 1085.9,1637.7 1086.9,1637.1 1087.9,1636.9 1088.9,1635.6 1089.9,1635.8 1090.9,1636.0 1091.9,1635.1 1092.9,1635.5 1093.9,1637.1 1094.9,1635.0 1095.9,1634.9 1096.9,1635.3 1097.9,1633.7 1098.9,1634.2 1099.9,1634.4 1100.9,1634.2 1101.9,1633.9 1102.9,1634.0 1103.9,1634.3 1104.9,1634.7 1105.9,1635.5 1106.9,1635.5 1107.9,1634.1 1108.9,1634.5 1109.9,1634.1 1110.9,1634.2 1111.9,1635.4 1112.9,1634.2 1113.9,1633.6 1114.9,1634.0 1115.9,1633.0 1116.9,1632.2 1117.9,1632.1 1118.9,1631.5 1119.9,1632.0 1120.9,1633.8 1121.9,1633.5 1122.9,1632.0 1123.9,1632.7 1124.9,1633.0 1125.9,1632.1 1126.9,1630.1 1127.9,1630.8 1128.9,1632.7 1129.9,1633.7 1130.9,1635.0 1131.9,1636.3 1132.9,1635.3 1133.9,1634.5 1134.9,1635.2 1135.9,1635.6 1136.9,1634.6 1137.9,1634.6 1138.9,1634.3 1139.9,1634.6 1140.9,1633.8 1141.9,1633.5 1142.9,1634.4 1143.9,1634.0 1144.9,1634.1 1145.9,1633.4 1146.9,1634.1 1147.9,1633.5 1148.9,1633.3 1149.9,1634.9 1150.9,1636.0 1151.9,1634.9 1152.9,1634.3 1153.9,1635.1 1154.9,1635.8 1155.9,1635.5 1156.9,1635.4 1157.9,1635.8 1158.9,1635.8 1159.9,1636.3 1160.9,1635.9 1161.9,1636.5 1162.9,1636.6 1163.9,1634.5 1164.9,1635.0 1165.9,1636.5 1166.9,1637.1 1167.9,1638.0 1168.9,1638.2 1169.9,1638.3 1170.9,1637.8 1171.9,1637.7 1172.9,1636.6 1173.9,1636.1 1174.9,1636.7 1175.9,1637.1 1176.9,1637.0 1177.9,1636.0 1178.9,1634.6 1179.9,1634.4 1180.9,1635.9 1181.9,1634.7 1182.9,1633.1 1183.9,1633.3 1184.9,1634.6 1185.9,1634.5 1186.9,1634.5 1187.9,1634.6 1188.9,1633.6 1189.9,1633.4 1190.9,1634.2 1191.9,1635.6 1192.9,1635.7 1193.9,1634.8 1194.9,1636.1 1195.9,1636.4 1196.9,1636.4 1197.9,1636.9 1198.9,1637.8 1199.9,1637.9 1200.9,1636.6 1201.9,1636.1 1202.9,1636.6 1203.9,1637.9 1204.9,1637.7 1205.9,1638.2 1206.9,1637.8 1207.9,1637.3 1208.9,1637.2 1209.9,1636.1 1210.9,1635.8 1211.9,1637.1 1212.9,1638.1 1213.9,1637.9 1214.9,1637.7 1215.9,1637.2 1216.9,1636.3 1217.9,1637.7 1218.9,1638.9 1219.9,1638.9 1220.9,1638.6 1221.9,1639.0 1222.9,1638.7 1223.9,1637.8 1224.9,1638.1 1225.9,1638.6 1226.9,1637.8 1227.9,1638.5 1228.9,1639.1 1229.9,1638.3 1230.9,1637.7 1231.9,1637.6 1232.9,1638.4 1233.9,1638.4 1234.9,1637.6 1235.9,1638.6 1236.9,1637.7 1237.9,1638.0 1238.9,1638.3 1239.9,1638.2 1240.9,1638.5 1241.9,1637.4 1242.9,1636.9 1243.9,1637.9 1244.9,1637.7 1245.9,1637.4 1246.9,1636.5 1247.9,1636.0 1248.9,1638.1 1249.9,1637.7 1250.9,1637.3 1251.9,1637.2 1252.9,1636.0 1253.9,1635.8 1254.9,1638.7 1255.9,1638.3 1256.9,1636.3 1257.9,1636.9 1258.9,1637.5 1259.9,1638.2 1260.9,1638.9 1261.9,1637.9 1262.9,1637.5 1263.9,1638.0 1264.9,1638.5 1265.9,1638.1 1266.9,1637.5 1267.9,1637.9 1268.9,1637.2 1269.9,1637.5 1270.9,1639.6 1271.9,1638.7 1272.9,1637.2 1273.9,1637.6 1274.9,1637.8 1275.9,1638.7 1276.9,1638.5 1277.9,1637.0 1278.9,1637.4 1279.9,1637.8 1280.9,1637.1 1281.9,1637.6 1282.9,1638.7 1283.9,1638.4 1284.9,1638.0 1285.9,1637.9 1286.9,1638.2 1287.9,1638.2 1288.9,1638.2 1289.9,1638.9 1290.9,1639.1 1291.9,1639.4 1292.9,1639.1 1293.9,1637.6 1294.9,1637.4 1295.9,1637.2 1296.9,1638.3 1297.9,1638.6 1298.9,1636.3 1299.9,1637.3 1300.9,1637.9 1301.9,1638.0 1302.9,1639.3 1303.9,1638.2 1304.9,1637.0 1305.9,1637.9 1306.9,1638.6 1307.9,1638.6 1308.9,1638.8 1309.9,1638.3 1310.9,1637.4 1311.9,1637.5 1312.9,1638.7 1313.9,1639.3 1314.9,1638.4 1315.9,1638.1 1316.9,1638.4 1317.9,1639.1 1318.9,1638.1 1319.9,1637.2 1320.9,1637.7 1321.9,1637.8 1322.9,1638.4 1323.9,1637.9 1324.9,1637.1 1325.9,1637.1 1326.9,1638.2 1327.9,1637.6 1328.9,1637.6 1329.9,1638.6 1330.9,1639.4 1331.9,1638.8 1332.9,1637.8 1333.9,1639.0 1334.9,1639.6 1335.9,1639.6 1336.9,1639.2 1337.9,1638.4 1338.9,1638.8 1339.9,1639.4 1340.9,1639.6 1341.9,1639.6 1342.9,1638.8 1343.9,1638.2 1344.9,1638.9 1345.9,1639.9 1346.9,1639.2 1347.9,1639.1 1348.9,1639.1 1349.9,1639.1 1350.9,1638.5 1351.9,1639.3 1352.9,1638.1 1353.9,1637.7 1354.9,1638.1 1355.9,1638.2 1356.9,1637.4 1357.9,1637.0 1358.9,1638.5 1359.9,1638.2 1360.9,1637.7 1361.9,1638.1 1362.9,1638.1 1363.9,1638.3 1364.9,1638.4 1365.9,1638.6 1366.9,1638.0 1367.9,1637.5 1368.9,1638.7 1369.9,1639.2 1370.9,1638.9 1371.9,1639.2 1372.9,1639.0 1373.9,1638.4 1374.9,1638.5 1375.9,1638.5 1376.9,1637.3 1377.9,1636.6 1378.9,1638.2 1379.9,1637.5 1380.9,1637.3 1381.9,1636.8 1382.9,1637.1 1383.9,1637.2 1384.9,1637.1 1385.9,1637.5 1386.9,1637.1 1387.9,1636.5 1388.9,1637.5 1389.9,1636.8" fill="none" stroke="#c853a6" stroke-width="6.4" stroke-linejoin="round" stroke-linecap="butt" />
<polyline points="132.9,1539.4 133.9,1540.0 134.9,1539.1 135.9,1538.1 136.9,1537.8 137.9,1538.3 138.9,1539.0 139.9,1540.5 140.9,1540.1 141.9,1539.5 142.9,1540.4 143.9,1540.0 144.9,1542.2 145.9,1541.4 146.9,1540.3 147.9,1539.9 148.9,1540.9 149.9,1540.9 150.9,1540.5 151.9,1541.0 152.9,1541.0 153.9,1539.4 154.9,1539.5 155.9,1541.2 156.9,1538.2 157.9,1536.2 158.9,1537.6 159.9,1539.6 160.9,1538.8 161.9,1540.5 162.9,1541.5 163.9,1538.4 164.9,1539.7 165.9,1541.1 166.9,1539.9 167.9,1540.1 168.9,1539.5 169.9,1538.8 170.9,1539.2 171.9,1538.2 172.9,1538.3 173.9,1538.4 174.9,1538.3 175.9,1539.1 176.9,1539.1 177.9,1539.9 178.9,1539.1 179.9,1539.2 180.9,1539.6 181.9,1541.5 182.9,1542.5 183.9,1542.2 184.9,1541.0 185.9,1541.9 186.9,1543.1 187.9,1541.4 188.9,1539.9 189.9,1540.3 190.9,1541.2 191.9,1541.2 192.9,1541.2 193.9,1539.9 194.9,1538.3 195.9,1538.9 196.9,1539.4 197.9,1539.1 198.9,1540.7 199.9,1541.0 200.9,1541.0 201.9,1540.1 202.9,1538.8 203.9,1537.4 204.9,1537.7 205.9,1539.3 206.9,1538.6 207.9,1537.4 208.9,1537.6 209.9,1538.6 210.9,1538.1 211.9,1540.0 212.9,1540.3 213.9,1538.6 214.9,1539.0 215.9,1539.8 216.9,1537.6 217.9,1537.8 218.9,1539.3 219.9,1538.4 220.9,1538.5 221.9,1538.3 222.9,1536.0 223.9,1536.6 224.9,1536.6 225.9,1536.5 226.9,1537.2 227.9,1536.8 228.9,1537.0 229.9,1537.6 230.9,1538.4 231.9,1538.9 232.9,1537.8 233.9,1537.8 234.9,1539.4 235.9,1537.9 236.9,1538.0 237.9,1539.1 238.9,1537.9 239.9,1539.1 240.9,1541.0 241.9,1540.6 242.9,1538.7 243.9,1539.2 244.9,1540.7 245.9,1540.0 246.9,1538.9 247.9,1539.2 248.9,1538.9 249.9,1539.5 250.9,1539.6 251.9,1539.4 252.9,1539.7 253.9,1539.4 254.9,1539.0 255.9,1539.2 256.9,1539.5 257.9,1540.3 258.9,1538.5 259.9,1537.3 260.9,1537.4 261.9,1537.3 262.9,1537.7 263.9,1538.0 264.9,1537.8 265.9,1538.1 266.9,1537.4 267.9,1538.5 268.9,1538.6 269.9,1536.3 270.9,1536.8 271.9,1537.7 272.9,1537.7 273.9,1537.1 274.9,1535.4 275.9,1536.7 276.9,1536.4 277.9,1536.4 278.9,1536.6 279.9,1537.4 280.9,1537.1 281.9,1539.4 282.9,1538.8 283.9,1539.0 284.9,1538.7 285.9,1538.3 286.9,1537.5 287.9,1535.8 288.9,1536.7 289.9,1537.5 290.9,1535.0 291.9,1534.9 292.9,1535.3 293.9,1535.4 294.9,1535.8 295.9,1535.9 296.9,1536.0 297.9,1534.7 298.9,1532.9 299.9,1532.8 300.9,1532.8 301.9,1531.5 302.9,1531.8 303.9,1531.6 304.9,1531.6 305.9,1532.7 306.9,1533.3 307.9,1533.6 308.9,1531.4 309.9,1531.2 310.9,1533.1 311.9,1533.8 312.9,1532.6 313.9,1532.8 314.9,1534.2 315.9,1532.6 316.9,1530.2 317.9,1529.4 318.9,1530.9 319.9,1532.9 320.9,1532.5 321.9,1530.5 322.9,1531.8 323.9,1531.6 324.9,1529.6 325.9,1531.5 326.9,1533.4 327.9,1532.0 328.9,1532.8 329.9,1534.0 330.9,1534.0 331.9,1535.0 332.9,1535.6 333.9,1536.6 334.9,1535.2 335.9,1533.8 336.9,1534.8 337.9,1534.9 338.9,1535.3 339.9,1536.2 340.9,1537.0 341.9,1538.7 342.9,1538.0 343.9,1537.1 344.9,1534.8 345.9,1534.1 346.9,1535.5 347.9,1535.6 348.9,1535.7 349.9,1536.4 350.9,1536.3 351.9,1536.2 352.9,1536.2 353.9,1537.4 354.9,1537.9 355.9,1535.7 356.9,1534.6 357.9,1535.1 358.9,1535.7 359.9,1535.8 360.9,1536.2 361.9,1538.4 362.9,1539.2 363.9,1539.5 364.9,1538.4 365.9,1539.4 366.9,1540.1 367.9,1539.8 368.9,1537.9 369.9,1537.0 370.9,1536.9 371.9,1537.9 372.9,1535.7 373.9,1534.0 374.9,1535.2 375.9,1537.3 376.9,1537.2 377.9,1537.9 378.9,1537.0 379.9,1535.8 380.9,1537.3 381.9,1537.7 382.9,1538.3 383.9,1539.1 384.9,1538.3 385.9,1538.5 386.9,1539.0 387.9,1539.2 388.9,1538.5 389.9,1538.8 390.9,1538.5 391.9,1538.3 392.9,1538.9 393.9,1539.7 394.9,1539.9 395.9,1539.9 396.9,1539.5 397.9,1538.3 398.9,1538.7 399.9,1539.0 400.9,1537.8 401.9,1538.5 402.9,1537.9 403.9,1536.4 404.9,1538.0 405.9,1539.7 406.9,1539.5 407.9,1537.5 408.9,1535.7 409.9,1536.4 410.9,1537.8 411.9,1534.6 412.9,1536.1 413.9,1537.4 414.9,1536.5 415.9,1536.6 416.9,1536.5 417.9,1534.5 418.9,1533.7 419.9,1533.2 420.9,1533.8 421.9,1531.9 422.9,1529.9 423.9,1528.8 424.9,1531.1 425.9,1530.2 426.9,1528.0 427.9,1527.8 428.9,1527.3 429.9,1527.1 430.9,1526.3 431.9,1526.2 432.9,1526.3 433.9,1526.0 434.9,1524.9 435.9,1524.6 436.9,1525.3 437.9,1525.1 438.9,1526.2 439.9,1529.4 440.9,1529.0 441.9,1529.3 442.9,1531.9 443.9,1532.8 444.9,1533.1 445.9,1532.2 446.9,1533.2 447.9,1535.2 448.9,1535.6 449.9,1536.6 450.9,1537.6 451.9,1537.0 452.9,1537.3 453.9,1536.8 454.9,1537.3 455.9,1539.2 456.9,1539.7 457.9,1537.5 458.9,1538.9 459.9,1539.7 460.9,1540.5 461.9,1542.5 462.9,1542.0 463.9,1539.7 464.9,1541.9 465.9,1543.4 466.9,1542.2 467.9,1541.1 468.9,1541.7 469.9,1544.3 470.9,1543.8 471.9,1543.3 472.9,1545.1 473.9,1545.4 474.9,1544.3 475.9,1545.6 476.9,1546.8 477.9,1546.0 478.9,1545.6 479.9,1545.3 480.9,1544.4 481.9,1545.4 482.9,1546.1 483.9,1545.5 484.9,1543.6 485.9,1544.2 486.9,1544.8 487.9,1544.6 488.9,1545.0 489.9,1543.9 490.9,1542.3 491.9,1544.7 492.9,1543.2 493.9,1542.1 494.9,1545.9 495.9,1546.4 496.9,1544.5 497.9,1544.2 498.9,1543.9 499.9,1543.7 500.9,1540.8 501.9,1541.3 502.9,1543.0 503.9,1542.1 504.9,1542.2 505.9,1542.9 506.9,1543.6 507.9,1545.0 508.9,1545.4 509.9,1543.8 510.9,1542.1 511.9,1543.0 512.9,1543.0 513.9,1543.2 514.9,1542.9 515.9,1542.2 516.9,1542.1 517.9,1541.5 518.9,1541.1 519.9,1541.4 520.9,1540.9 521.9,1540.8 522.9,1540.3 523.9,1539.6 524.9,1539.5 525.9,1538.9 526.9,1539.3 527.9,1539.4 528.9,1537.6 529.9,1536.4 530.9,1538.3 531.9,1537.8 532.9,1535.8 533.9,1536.2 534.9,1538.1 535.9,1537.3 536.9,1535.7 537.9,1535.9 538.9,1535.5 539.9,1534.1 540.9,1532.0 541.9,1533.3 542.9,1534.8 543.9,1532.4 544.9,1532.7 545.9,1534.8 546.9,1533.6 547.9,1532.7 548.9,1532.0 549.9,1533.2 550.9,1532.8 551.9,1531.4 552.9,1531.8 553.9,1530.9 554.9,1530.6 555.9,1532.3 556.9,1531.8 557.9,1533.1 558.9,1534.2 559.9,1532.6 560.9,1532.5 561.9,1533.3 562.9,1533.8 563.9,1533.8 564.9,1535.3 565.9,1536.2 566.9,1537.3 567.9,1537.2 568.9,1537.0 569.9,1537.5 570.9,1537.9 571.9,1539.1 572.9,1539.8 573.9,1539.7 574.9,1539.1 575.9,1538.6 576.9,1537.9 577.9,1539.5 578.9,1540.5 579.9,1541.5 580.9,1542.2 581.9,1541.2 582.9,1540.8 583.9,1541.8 584.9,1541.3 585.9,1541.0 586.9,1540.5 587.9,1540.7 588.9,1540.0 589.9,1541.1 590.9,1542.1 591.9,1540.9 592.9,1540.9 593.9,1542.7 594.9,1544.4 595.9,1544.0 596.9,1543.3 597.9,1544.1 598.9,1544.3 599.9,1544.3 600.9,1544.3 601.9,1543.5 602.9,1543.7 603.9,1546.9 604.9,1546.1 605.9,1543.8 606.9,1543.9 607.9,1543.0 608.9,1542.6 609.9,1543.3 610.9,1542.9 611.9,1543.8 612.9,1543.2 613.9,1543.0 614.9,1542.8 615.9,1543.4 616.9,1543.5 617.9,1544.2 618.9,1545.9 619.9,1545.2 620.9,1543.2 621.9,1543.1 622.9,1546.1 623.9,1546.1 624.9,1545.4 625.9,1546.0 626.9,1547.2 627.9,1546.9 628.9,1545.2 629.9,1544.5 630.9,1545.4 631.9,1545.6 632.9,1544.9 633.9,1545.2 634.9,1545.5 635.9,1546.3 636.9,1547.1 637.9,1546.5 638.9,1546.8 639.9,1546.7 640.9,1546.8 641.9,1547.3 642.9,1547.8 643.9,1547.0 644.9,1547.1 645.9,1546.4 646.9,1546.5 647.9,1545.7 648.9,1545.2 649.9,1546.2 650.9,1545.4 651.9,1543.7 652.9,1542.4 653.9,1543.4 654.9,1543.8 655.9,1544.0 656.9,1544.7 657.9,1545.2 658.9,1545.9 659.9,1546.3 660.9,1546.9 661.9,1546.7 662.9,1546.5 663.9,1545.6 664.9,1546.4 665.9,1546.4 666.9,1546.1 667.9,1545.1 668.9,1545.4 669.9,1546.7 670.9,1546.3 671.9,1546.3 672.9,1546.8 673.9,1545.1 674.9,1545.8 675.9,1546.8 676.9,1546.6 677.9,1546.8 678.9,1546.7 679.9,1545.9 680.9,1545.9 681.9,1546.6 682.9,1547.8 683.9,1547.8 684.9,1548.2 685.9,1546.3 686.9,1544.5 687.9,1543.4 688.9,1545.3 689.9,1546.2 690.9,1546.2 691.9,1545.7 692.9,1546.5 693.9,1546.0 694.9,1545.5 695.9,1545.6 696.9,1546.7 697.9,1548.1 698.9,1548.2 699.9,1547.4 700.9,1547.2 701.9,1547.3 702.9,1546.1 703.9,1543.4 704.9,1544.7 705.9,1546.2 706.9,1544.9 707.9,1544.2 708.9,1542.4 709.9,1543.6 710.9,1544.8 711.9,1545.1 712.9,1546.0 713.9,1548.1 714.9,1549.5 715.9,1547.9 716.9,1546.0 717.9,1545.6 718.9,1545.1 719.9,1545.6 720.9,1546.7 721.9,1546.1 722.9,1545.5 723.9,1546.3 724.9,1548.9 725.9,1548.2 726.9,1546.8 727.9,1545.7 728.9,1546.5 729.9,1548.1 730.9,1548.4 731.9,1548.3 732.9,1547.2 733.9,1546.3 734.9,1546.5 735.9,1546.7 736.9,1545.6 737.9,1544.1 738.9,1544.5 739.9,1546.2 740.9,1547.2 741.9,1548.3 742.9,1548.0 743.9,1548.2 744.9,1547.6 745.9,1546.4 746.9,1547.3 747.9,1548.3 748.9,1548.1 749.9,1547.5 750.9,1548.1 751.9,1550.1 752.9,1549.0 753.9,1547.9 754.9,1547.1 755.9,1547.1 756.9,1547.0 757.9,1547.3 758.9,1546.8 759.9,1546.4 760.9,1546.6 761.9,1548.3 762.9,1547.4 763.9,1545.9 764.9,1546.5 765.9,1548.3 766.9,1547.6 767.9,1546.2 768.9,1546.8 769.9,1549.3 770.9,1548.2 771.9,1548.2 772.9,1547.9 773.9,1547.4 774.9,1548.7 775.9,1547.5 776.9,1547.2 777.9,1547.3 778.9,1547.6 779.9,1547.3 780.9,1548.2 781.9,1548.2 782.9,1549.7 783.9,1548.2 784.9,1548.0 785.9,1548.1 786.9,1546.4 787.9,1546.8 788.9,1548.1 789.9,1547.9 790.9,1548.4 791.9,1547.4 792.9,1548.4 793.9,1549.7 794.9,1549.7 795.9,1548.7 796.9,1548.4 797.9,1547.9 798.9,1548.5 799.9,1547.9 800.9,1548.4 801.9,1549.9 802.9,1547.8 803.9,1545.9 804.9,1546.7 805.9,1546.6 806.9,1545.0 807.9,1544.9 808.9,1545.4 809.9,1547.2 810.9,1548.8 811.9,1549.0 812.9,1548.1 813.9,1547.4 814.9,1546.8 815.9,1547.1 816.9,1547.0 817.9,1546.6 818.9,1547.2 819.9,1546.7 820.9,1546.1 821.9,1546.6 822.9,1547.6 823.9,1546.9 824.9,1546.6 825.9,1547.4 826.9,1548.1 827.9,1548.3 828.9,1547.8 829.9,1548.6 830.9,1548.2 831.9,1547.5 832.9,1547.9 833.9,1548.9 834.9,1549.0 835.9,1548.0 836.9,1546.7 837.9,1546.1 838.9,1545.4 839.9,1546.9 840.9,1546.9 841.9,1546.7 842.9,1547.5 843.9,1548.2 844.9,1550.0 845.9,1549.7 846.9,1547.6 847.9,1547.1 848.9,1545.3 849.9,1546.2 850.9,1548.5 851.9,1548.6 852.9,1546.5 853.9,1545.9 854.9,1546.7 855.9,1546.9 856.9,1548.0 857.9,1548.8 858.9,1547.4 859.9,1547.8 860.9,1547.7 861.9,1545.8 862.9,1546.2 863.9,1544.8 864.9,1542.0 865.9,1544.0 866.9,1546.7 867.9,1545.9 868.9,1545.9 869.9,1547.1 870.9,1547.5 871.9,1545.6 872.9,1544.6 873.9,1543.9 874.9,1543.0 875.9,1542.4 876.9,1542.8 877.9,1544.6 878.9,1545.4 879.9,1543.6 880.9,1542.0 881.9,1542.3 882.9,1542.0 883.9,1541.9 884.9,1542.8 885.9,1544.2 886.9,1543.7 887.9,1543.7 888.9,1544.7 889.9,1544.7 890.9,1545.8 891.9,1544.6 892.9,1543.1 893.9,1544.2 894.9,1542.8 895.9,1542.2 896.9,1541.9 897.9,1541.4 898.9,1542.1 899.9,1542.5 900.9,1540.7 901.9,1541.8 902.9,1541.2 903.9,1541.8 904.9,1542.6 905.9,1542.9 906.9,1541.8 907.9,1540.9 908.9,1543.3 909.9,1545.2 910.9,1545.5 911.9,1545.5 912.9,1542.7 913.9,1543.2 914.9,1544.0 915.9,1543.9 916.9,1545.9 917.9,1547.5 918.9,1545.8 919.9,1545.8 920.9,1548.2 921.9,1547.3 922.9,1546.3 923.9,1545.5 924.9,1544.2 925.9,1545.8 926.9,1546.2 927.9,1545.3 928.9,1544.8 929.9,1545.8 930.9,1546.3 931.9,1546.1 932.9,1545.7 933.9,1547.1 934.9,1548.0 935.9,1546.5 936.9,1545.5 937.9,1547.8 938.9,1549.5 939.9,1548.6 940.9,1550.0 941.9,1549.7 942.9,1548.2 943.9,1547.5 944.9,1547.0 945.9,1546.2 946.9,1546.1 947.9,1545.6 948.9,1546.6 949.9,1546.7 950.9,1547.1 951.9,1549.0 952.9,1548.9 953.9,1548.4 954.9,1549.6 955.9,1548.0 956.9,1548.5 957.9,1549.8 958.9,1549.1 959.9,1548.3 960.9,1548.9 961.9,1550.1 962.9,1549.7 963.9,1549.0 964.9,1549.8 965.9,1550.7 966.9,1550.5 967.9,1550.0 968.9,1549.1 969.9,1550.1 970.9,1550.2 971.9,1547.4 972.9,1546.9 973.9,1549.6 974.9,1549.1 975.9,1548.5 976.9,1549.3 977.9,1550.5 978.9,1550.4 979.9,1550.4 980.9,1549.5 981.9,1550.3 982.9,1551.5 983.9,1550.1 984.9,1549.8 985.9,1548.5 986.9,1549.8 987.9,1551.3 988.9,1550.2 989.9,1550.9 990.9,1552.1 991.9,1551.2 992.9,1550.0 993.9,1549.9 994.9,1550.8 995.9,1550.8 996.9,1551.5 997.9,1551.2 998.9,1549.3 999.9,1548.9 1000.9,1549.0 1001.9,1548.4 1002.9,1548.2 1003.9,1549.7 1004.9,1550.3 1005.9,1551.9 1006.9,1551.3 1007.9,1550.1 1008.9,1549.5 1009.9,1550.2 1010.9,1551.2 1011.9,1551.8 1012.9,1548.7 1013.9,1548.7 1014.9,1550.0 1015.9,1548.9 1016.9,1548.4 1017.9,1550.1 1018.9,1549.1 1019.9,1547.1 1020.9,1548.5 1021.9,1552.4 1022.9,1552.0 1023.9,1549.1 1024.9,1548.2 1025.9,1550.1 1026.9,1550.9 1027.9,1552.1 1028.9,1553.1 1029.9,1549.7 1030.9,1548.1 1031.9,1550.3 1032.9,1549.6 1033.9,1550.7 1034.9,1549.4 1035.9,1547.1 1036.9,1548.5 1037.9,1549.9 1038.9,1551.4 1039.9,1550.2 1040.9,1549.3 1041.9,1550.1 1042.9,1549.7 1043.9,1547.8 1044.9,1548.0 1045.9,1549.2 1046.9,1548.4 1047.9,1547.2 1048.9,1548.5 1049.9,1549.4 1050.9,1548.8 1051.9,1550.5 1052.9,1549.3 1053.9,1547.9 1054.9,1550.4 1055.9,1550.8 1056.9,1549.6 1057.9,1549.8 1058.9,1550.3 1059.9,1551.3 1060.9,1551.6 1061.9,1551.5 1062.9,1549.9 1063.9,1549.7 1064.9,1549.6 1065.9,1548.8 1066.9,1548.4 1067.9,1548.9 1068.9,1549.8 1069.9,1549.2 1070.9,1549.9 1071.9,1552.3 1072.9,1552.6 1073.9,1551.1 1074.9,1549.5 1075.9,1548.2 1076.9,1548.9 1077.9,1550.4 1078.9,1550.2 1079.9,1549.8 1080.9,1549.5 1081.9,1551.6 1082.9,1551.4 1083.9,1550.1 1084.9,1550.9 1085.9,1551.5 1086.9,1551.6 1087.9,1550.9 1088.9,1549.2 1089.9,1548.6 1090.9,1549.0 1091.9,1549.0 1092.9,1549.7 1093.9,1551.4 1094.9,1551.1 1095.9,1549.7 1096.9,1549.6 1097.9,1549.9 1098.9,1550.0 1099.9,1550.2 1100.9,1550.8 1101.9,1551.2 1102.9,1551.1 1103.9,1552.5 1104.9,1552.6 1105.9,1549.5 1106.9,1549.7 1107.9,1550.7 1108.9,1550.1 1109.9,1549.4 1110.9,1549.0 1111.9,1547.9 1112.9,1549.6 1113.9,1549.5 1114.9,1549.6 1115.9,1550.1 1116.9,1549.0 1117.9,1549.4 1118.9,1550.2 1119.9,1550.2 1120.9,1549.1 1121.9,1550.5 1122.9,1550.2 1123.9,1550.6 1124.9,1550.8 1125.9,1549.6 1126.9,1549.7 1127.9,1550.3 1128.9,1550.9 1129.9,1551.7 1130.9,1552.9 1131.9,1552.6 1132.9,1551.2 1133.9,1550.0 1134.9,1550.4 1135.9,1553.4 1136.9,1552.4 1137.9,1549.7 1138.9,1550.7 1139.9,1552.6 1140.9,1549.9 1141.9,1547.2 1142.9,1550.1 1143.9,1550.7 1144.9,1548.9 1145.9,1549.3 1146.9,1551.2 1147.9,1553.3 1148.9,1552.3 1149.9,1551.5 1150.9,1552.5 1151.9,1551.7 1152.9,1552.4 1153.9,1554.0 1154.9,1554.1 1155.9,1552.5 1156.9,1551.6 1157.9,1551.7 1158.9,1551.8 1159.9,1552.4 1160.9,1552.6 1161.9,1550.5 1162.9,1551.9 1163.9,1550.5 1164.9,1550.0 1165.9,1550.5 1166.9,1550.5 1167.9,1549.8 1168.9,1550.6 1169.9,1551.4 1170.9,1551.7 1171.9,1551.1 1172.9,1549.9 1173.9,1550.8 1174.9,1551.6 1175.9,1551.0 1176.9,1548.9 1177.9,1548.2 1178.9,1548.6 1179.9,1548.6 1180.9,1548.2 1181.9,1548.1 1182.9,1549.0 1183.9,1550.3 1184.9,1549.2 1185.9,1548.8 1186.9,1551.0 1187.9,1552.4 1188.9,1552.3 1189.9,1552.6 1190.9,1551.9 1191.9,1552.0 1192.9,1552.5 1193.9,1550.1 1194.9,1550.0 1195.9,1550.4 1196.9,1550.4 1197.9,1550.9 1198.9,1549.9 1199.9,1549.7 1200.9,1552.2 1201.9,1552.3 1202.9,1551.8 1203.9,1550.3 1204.9,1551.0 1205.9,1550.7 1206.9,1548.5 1207.9,1549.5 1208.9,1550.1 1209.9,1549.7 1210.9,1551.3 1211.9,1550.6 1212.9,1552.0 1213.9,1553.1 1214.9,1552.7 1215.9,1551.1 1216.9,1549.5 1217.9,1548.4 1218.9,1550.4 1219.9,1552.7 1220.9,1551.8 1221.9,1551.4 1222.9,1553.0 1223.9,1551.6 1224.9,1552.0 1225.9,1552.5 1226.9,1551.4 1227.9,1551.4 1228.9,1551.4 1229.9,1551.7 1230.9,1551.8 1231.9,1551.4 1232.9,1552.0 1233.9,1553.8 1234.9,1553.0 1235.9,1551.9 1236.9,1552.9 1237.9,1553.5 1238.9,1551.4 1239.9,1551.5 1240.9,1552.9 1241.9,1553.5 1242.9,1551.3 1243.9,1549.6 1244.9,1550.8 1245.9,1550.9 1246.9,1549.6 1247.9,1552.2 1248.9,1553.7 1249.9,1551.4 1250.9,1550.0 1251.9,1550.7 1252.9,1549.2 1253.9,1550.4 1254.9,1550.5 1255.9,1550.3 1256.9,1551.1 1257.9,1552.3 1258.9,1552.6 1259.9,1551.6 1260.9,1551.3 1261.9,1551.2 1262.9,1550.9 1263.9,1551.1 1264.9,1551.1 1265.9,1551.0 1266.9,1551.3 1267.9,1552.3 1268.9,1553.3 1269.9,1552.9 1270.9,1550.3 1271.9,1549.9 1272.9,1551.9 1273.9,1553.6 1274.9,1553.0 1275.9,1551.2 1276.9,1549.8 1277.9,1549.7 1278.9,1549.9 1279.9,1550.8 1280.9,1551.9 1281.9,1551.5 1282.9,1550.8 1283.9,1551.6 1284.9,1551.4 1285.9,1552.5 1286.9,1552.4 1287.9,1551.3 1288.9,1550.8 1289.9,1551.1 1290.9,1551.7 1291.9,1549.9 1292.9,1549.1 1293.9,1549.7 1294.9,1550.6 1295.9,1551.7 1296.9,1550.9 1297.9,1551.5 1298.9,1550.3 1299.9,1550.5 1300.9,1551.1 1301.9,1551.2 1302.9,1551.8 1303.9,1552.0 1304.9,1551.2 1305.9,1551.0 1306.9,1551.0 1307.9,1551.4 1308.9,1550.6 1309.9,1549.7 1310.9,1549.7 1311.9,1551.5 1312.9,1552.7 1313.9,1551.3 1314.9,1550.0 1315.9,1551.9 1316.9,1551.1 1317.9,1551.7 1318.9,1552.9 1319.9,1552.8 1320.9,1552.1 1321.9,1552.4 1322.9,1553.4 1323.9,1553.5 1324.9,1552.8 1325.9,1551.9 1326.9,1551.6 1327.9,1551.7 1328.9,1551.0 1329.9,1550.3 1330.9,1550.7 1331.9,1549.9 1332.9,1550.2 1333.9,1551.9 1334.9,1550.7 1335.9,1551.1 1336.9,1551.0 1337.9,1550.7 1338.9,1551.0 1339.9,1550.4 1340.9,1550.3 1341.9,1551.7 1342.9,1551.9 1343.9,1553.1 1344.9,1552.5 1345.9,1551.9 1346.9,1551.1 1347.9,1549.1 1348.9,1549.4 1349.9,1550.1 1350.9,1549.5 1351.9,1550.3 1352.9,1550.4 1353.9,1550.9 1354.9,1552.3 1355.9,1553.0 1356.9,1551.9 1357.9,1552.9 1358.9,1553.0 1359.9,1551.5 1360.9,1550.3 1361.9,1550.7 1362.9,1550.4 1363.9,1550.0 1364.9,1551.2 1365.9,1552.7 1366.9,1551.9 1367.9,1553.1 1368.9,1552.3 1369.9,1552.1 1370.9,1551.9 1371.9,1552.5 1372.9,1552.8 1373.9,1551.4 1374.9,1551.3 1375.9,1550.8 1376.9,1550.0 1377.9,1550.1 1378.9,1549.3 1379.9,1549.2 1380.9,1549.9 1381.9,1549.7 1382.9,1548.9 1383.9,1550.3 1384.9,1550.0 1385.9,1550.5 1386.9,1551.8 1387.9,1552.4 1388.9,1552.6 1389.9,1553.3" fill="none" stroke="#0b8439" stroke-width="6.4" stroke-linejoin="round" stroke-linecap="butt" />
<path d="M132.7,2137.8 V1192.3 H1390.4 V2137.8" fill="none" stroke="#000" stroke-width="4.9" stroke-linejoin="miter"/>
<line x1="130.3" y1="2125.9" x2="1392.8" y2="2125.9" stroke="#000" stroke-width="4.6" />
<line x1="312.6" y1="2125.9" x2="312.6" y2="2143.5" stroke="#000" stroke-width="4.8" />
<line x1="492.3" y1="2125.9" x2="492.3" y2="2143.5" stroke="#000" stroke-width="4.8" />
<line x1="671.9" y1="2125.9" x2="671.9" y2="2143.5" stroke="#000" stroke-width="4.8" />
<line x1="851.6" y1="2125.9" x2="851.6" y2="2143.5" stroke="#000" stroke-width="4.8" />
<line x1="1031.3" y1="2125.9" x2="1031.3" y2="2143.5" stroke="#000" stroke-width="4.8" />
<line x1="1211.0" y1="2125.9" x2="1211.0" y2="2143.5" stroke="#000" stroke-width="4.8" />
<line x1="222.7" y1="2125.9" x2="222.7" y2="2135.5" stroke="#000" stroke-width="4.0" />
<line x1="402.4" y1="2125.9" x2="402.4" y2="2135.5" stroke="#000" stroke-width="4.0" />
<line x1="582.1" y1="2125.9" x2="582.1" y2="2135.5" stroke="#000" stroke-width="4.0" />
<line x1="761.8" y1="2125.9" x2="761.8" y2="2135.5" stroke="#000" stroke-width="4.0" />
<line x1="941.5" y1="2125.9" x2="941.5" y2="2135.5" stroke="#000" stroke-width="4.0" />
<line x1="1121.1" y1="2125.9" x2="1121.1" y2="2135.5" stroke="#000" stroke-width="4.0" />
<line x1="1300.8" y1="2125.9" x2="1300.8" y2="2135.5" stroke="#000" stroke-width="4.0" />
<path d="M132.6,2137.0 L132.6,2775.5" stroke="#231815" stroke-width="2.8" fill="none"/>
<path d="M1390.9,2137.0 L1393.3,2775.5" stroke="#231815" stroke-width="2.6" fill="none"/>
<line x1="131.1" y1="2758.2" x2="1394.6" y2="2758.2" stroke="#231815" stroke-width="3.4" />
<line x1="314.0" y1="2758.2" x2="314.0" y2="2777.5" stroke="#231815" stroke-width="2.8" />
<line x1="493.4" y1="2758.2" x2="493.4" y2="2777.5" stroke="#231815" stroke-width="2.8" />
<line x1="672.7" y1="2758.2" x2="672.7" y2="2777.5" stroke="#231815" stroke-width="2.8" />
<line x1="852.1" y1="2758.2" x2="852.1" y2="2777.5" stroke="#231815" stroke-width="2.8" />
<line x1="1031.5" y1="2758.2" x2="1031.5" y2="2777.5" stroke="#231815" stroke-width="2.8" />
<line x1="1210.9" y1="2758.2" x2="1210.9" y2="2777.5" stroke="#231815" stroke-width="2.8" />
<line x1="225.3" y1="2758.2" x2="225.3" y2="2768.6" stroke="#231815" stroke-width="2.6" />
<line x1="404.7" y1="2758.2" x2="404.7" y2="2768.6" stroke="#231815" stroke-width="2.6" />
<line x1="584.0" y1="2758.2" x2="584.0" y2="2768.6" stroke="#231815" stroke-width="2.6" />
<line x1="763.4" y1="2758.2" x2="763.4" y2="2768.6" stroke="#231815" stroke-width="2.6" />
<line x1="942.8" y1="2758.2" x2="942.8" y2="2768.6" stroke="#231815" stroke-width="2.6" />
<line x1="1122.2" y1="2758.2" x2="1122.2" y2="2768.6" stroke="#231815" stroke-width="2.6" />
<line x1="1301.6" y1="2758.2" x2="1301.6" y2="2768.6" stroke="#231815" stroke-width="2.6" />
<rect x="311.5" y="2229.3" width="6.0" height="529.4" fill="#ff0000"/>
<rect x="387.2" y="2706.1" width="5.3" height="52.6" fill="#ff0000"/>
<rect x="405.0" y="2667.5" width="5.6" height="91.2" fill="#ff0000"/>
<rect x="679.6" y="2599.4" width="5.8" height="159.3" fill="#ff0000"/>
<rect x="691.0" y="2642.0" width="5.6" height="116.7" fill="#ff0000"/>
<rect x="837.2" y="2689.3" width="5.6" height="69.4" fill="#ff0000"/>
<rect x="857.5" y="2674.6" width="5.6" height="84.1" fill="#ff0000"/>
<rect x="914.2" y="2732.5" width="5.6" height="26.2" fill="#ff0000"/>
<rect x="1222.2" y="2732.2" width="5.7" height="26.5" fill="#ff0000"/>
<rect x="1237.2" y="2744.0" width="5.6" height="14.7" fill="#ff0000"/>
<rect x="1254.4" y="2745.2" width="5.6" height="13.5" fill="#ff0000"/>
<path d="M314.2,1592.1 V2229.3" stroke="#231815" stroke-width="3.2" fill="none" stroke-dasharray="18.6 18.3"/>
<text x="0.0" y="0.0" font-size="55.5" font-weight="bold" text-anchor="middle" fill="#231815" transform="translate(134.7 2824.2) scale(1.050 1)" >20</text>
<text x="0.0" y="0.0" font-size="55.5" font-weight="bold" text-anchor="middle" fill="#231815" transform="translate(314.3 2824.2) scale(1.050 1)" >30</text>
<text x="0.0" y="0.0" font-size="55.5" font-weight="bold" text-anchor="middle" fill="#231815" transform="translate(493.9 2824.2) scale(1.050 1)" >40</text>
<text x="0.0" y="0.0" font-size="55.5" font-weight="bold" text-anchor="middle" fill="#231815" transform="translate(673.5 2824.2) scale(1.050 1)" >50</text>
<text x="0.0" y="0.0" font-size="55.5" font-weight="bold" text-anchor="middle" fill="#231815" transform="translate(853.1 2824.2) scale(1.050 1)" >60</text>
<text x="0.0" y="0.0" font-size="55.5" font-weight="bold" text-anchor="middle" fill="#231815" transform="translate(1032.7 2824.2) scale(1.050 1)" >70</text>
<text x="0.0" y="0.0" font-size="55.5" font-weight="bold" text-anchor="middle" fill="#231815" transform="translate(1212.3 2824.2) scale(1.050 1)" >80</text>
<text x="0.0" y="0.0" font-size="55.5" font-weight="bold" text-anchor="middle" fill="#231815" transform="translate(1391.9 2824.2) scale(1.050 1)" >90</text>
<text x="0.0" y="0.0" font-size="66" font-weight="bold" text-anchor="middle" fill="#231815" transform="translate(777.5 2892.3) scale(1.017 1)" >2θ (degrees)</text>
<text x="0.0" y="0.0" font-size="66" font-weight="bold" text-anchor="middle" fill="#231815" transform="translate(66.0 1703.0) rotate(-90) scale(1.017 1)" >Intensity (cps)</text>
<text x="0.0" y="0.0" font-size="66" font-weight="bold" text-anchor="middle" fill="#231815" transform="translate(67.0 2464.6) rotate(-90) scale(1.017 1)" >Intensity (cps)</text>
<text x="0.0" y="0.0" font-size="124.3" font-weight="bold" text-anchor="start" fill="#000" transform="translate(152.0 1326.6) scale(1.040 1)" >(b)</text>
<text x="1368.4" y="2191.8" font-size="48.5" font-weight="bold" text-anchor="end" fill="#231815" >JCPDS Card No. 79-1769</text>
<path d="M235.5,1460.3 H506.3" stroke="#ff0f0f" stroke-width="4" fill="none" stroke-dasharray="21 20.3"/>
<path d="M506.3,1478.5 V1545" stroke="#ff0f0f" stroke-width="4" fill="none" stroke-dasharray="21 20.5"/>
<path d="M237.5,1458.3 V1554.6" stroke="#ff0f0f" stroke-width="4" fill="none" stroke-dasharray="21 20.5"/>
<path d="M235.5,1552.6 H500" stroke="#ff0f0f" stroke-width="4" fill="none" stroke-dasharray="21 20.5" stroke-dashoffset="7"/>
<line x1="431.4" y1="1454.0" x2="709.9" y2="1402.2" stroke="#000" stroke-width="3.8" />
<path d="M733.0,1397.9 L708.9,1410.3 L709.9,1402.2 L706.0,1395.0 Z" fill="#000"/>
<rect x="783.9" y="1212.4" width="365.5" height="270.7" fill="#fff" stroke="#000" stroke-width="2"/>
<line x1="823.2" y1="1483.1" x2="823.2" y2="1486.6" stroke="#000" stroke-width="1.2" />
<line x1="925.0" y1="1483.1" x2="925.0" y2="1486.6" stroke="#000" stroke-width="1.2" />
<line x1="1024.2" y1="1483.1" x2="1024.2" y2="1486.6" stroke="#000" stroke-width="1.2" />
<line x1="1126.0" y1="1483.1" x2="1126.0" y2="1486.6" stroke="#000" stroke-width="1.2" />
<polyline points="784.9,1402.5 786.5,1400.2 788.1,1399.6 789.7,1397.6 791.3,1398.2 792.9,1398.3 794.5,1396.7 796.1,1399.0 797.7,1397.3 799.3,1402.5 800.9,1402.6 802.5,1398.1 804.1,1401.0 805.7,1397.8 807.3,1398.1 808.9,1400.0 810.5,1399.3 812.1,1397.8 813.7,1394.0 815.3,1397.8 816.9,1400.5 818.5,1398.5 820.1,1398.6 821.7,1399.2 823.3,1395.9 824.9,1390.9 826.5,1389.9 828.1,1390.6 829.7,1389.5 831.3,1391.5 832.9,1394.5 834.5,1395.5 836.1,1396.7 837.7,1396.0 839.3,1395.1 840.9,1395.9 842.5,1394.4 844.1,1392.9 845.7,1394.7 847.3,1394.6 848.9,1393.4 850.5,1394.3 852.1,1397.7 853.7,1398.3 855.3,1395.2 856.9,1393.4 858.5,1393.7 860.1,1398.7 861.7,1393.1 863.3,1389.9 864.9,1395.9 866.5,1396.3 868.1,1393.7 869.7,1395.9 871.3,1399.6 872.9,1395.6 874.5,1394.0 876.1,1392.6 877.7,1392.3 879.3,1393.2 880.9,1394.7 882.5,1395.5 884.1,1393.4 885.7,1393.7 887.3,1394.5 888.9,1393.3 890.5,1389.1 892.1,1390.1 893.7,1390.4 895.3,1386.3 896.9,1387.8 898.5,1390.1 900.1,1392.4 901.7,1388.0 903.3,1387.7 904.9,1393.2 906.5,1389.3 908.1,1385.6 909.7,1384.9 911.3,1383.6 912.9,1381.7 914.5,1379.2 916.1,1380.6 917.7,1383.5 919.3,1386.5 920.9,1383.6 922.5,1376.0 924.1,1377.4 925.7,1379.7 927.3,1379.7 928.9,1379.6 930.5,1376.6 932.1,1376.3 933.7,1380.4 935.3,1382.5 936.9,1379.7 938.5,1381.2 940.1,1380.7 941.7,1378.6 943.3,1382.0 944.9,1381.0 946.5,1379.1 948.1,1382.2 949.7,1384.9 951.3,1385.2 952.9,1385.0 954.5,1384.2 956.1,1384.5 957.7,1392.7 959.3,1393.7 960.9,1391.7 962.5,1392.4 964.1,1392.7 965.7,1396.5 967.3,1395.2 968.9,1392.1 970.5,1389.1 972.1,1392.2 973.7,1392.6 975.3,1388.7 976.9,1394.0 978.5,1399.1 980.1,1396.7 981.7,1393.8 983.3,1392.8 984.9,1394.1 986.5,1394.6 988.1,1391.4 989.7,1391.2 991.3,1394.5 992.9,1393.2 994.5,1391.1 996.1,1394.1 997.7,1398.8 999.3,1398.7 1000.9,1395.5 1002.5,1398.4 1004.1,1396.1 1005.7,1391.1 1007.3,1394.2 1008.9,1397.2 1010.5,1396.2 1012.1,1389.3 1013.7,1389.6 1015.3,1395.2 1016.9,1393.7 1018.5,1393.4 1020.1,1395.6 1021.7,1394.3 1023.3,1389.7 1024.9,1385.8 1026.5,1387.0 1028.1,1388.4 1029.7,1386.4 1031.3,1384.8 1032.9,1385.4 1034.5,1387.9 1036.1,1387.3 1037.7,1383.1 1039.3,1383.0 1040.9,1384.7 1042.5,1377.8 1044.1,1377.3 1045.7,1377.0 1047.3,1372.6 1048.9,1376.8 1050.5,1378.6 1052.1,1374.0 1053.7,1369.8 1055.3,1370.1 1056.9,1367.1 1058.5,1366.4 1060.1,1369.0 1061.7,1369.9 1063.3,1371.1 1064.9,1369.2 1066.5,1371.9 1068.1,1373.9 1069.7,1373.8 1071.3,1374.7 1072.9,1376.8 1074.5,1379.7 1076.1,1383.3 1077.7,1385.3 1079.3,1385.6 1080.9,1387.3 1082.5,1390.9 1084.1,1394.2 1085.7,1394.6 1087.3,1395.5 1088.9,1397.5 1090.5,1396.7 1092.1,1397.3 1093.7,1400.1 1095.3,1402.1 1096.9,1403.6 1098.5,1404.8 1100.1,1406.7 1101.7,1407.6 1103.3,1406.9 1104.9,1409.2 1106.5,1411.1 1108.1,1412.4 1109.7,1413.2 1111.3,1414.6 1112.9,1414.9 1114.5,1412.9 1116.1,1414.6 1117.7,1417.0 1119.3,1415.1 1120.9,1414.4 1122.5,1415.9 1124.1,1414.8 1125.7,1412.8 1127.3,1409.9 1128.9,1408.4 1130.5,1409.5 1132.1,1411.3 1133.7,1411.7 1135.3,1410.5 1136.9,1410.6 1138.5,1409.6 1140.1,1409.8 1141.7,1410.3 1143.3,1411.0 1144.9,1411.8 1146.5,1409.9 1148.1,1409.2" fill="none" stroke="#0b8439" stroke-width="2.9" stroke-linejoin="round" stroke-linecap="butt" />
<path d="M929.2,1356.0 L932.0,1359.3 L929.2,1362.5 L926.5,1359.3 Z" fill="#000"/>
<circle cx="1061.2" cy="1353.2" r="2.6" fill="#000"/>
<text x="924.3" y="1506.0" font-size="21.6" font-weight="bold" text-anchor="middle" fill="#231815" >30</text>
<text x="1126.0" y="1506.0" font-size="21.6" font-weight="bold" text-anchor="middle" fill="#231815" >40</text>
<text x="969.8" y="1527.5" font-size="21.6" font-weight="bold" text-anchor="middle" fill="#231815" >2θ (degrees)</text>
<text x="0.0" y="0.0" font-size="21.6" font-weight="bold" text-anchor="middle" fill="#231815" transform="translate(764.4 1350.7) rotate(-90)" >Intensity (cps)</text>
<circle cx="1241.8" cy="1240.6" r="8.0" fill="#000"/>
<text x="1252.8" y="1253.7" font-size="45.6" font-weight="normal" text-anchor="start" fill="#000" >FCC</text>
<path d="M1248.6,1289.7 L1259.3,1303.1 L1248.6,1316.5 L1237.8,1303.1 Z" fill="#000"/>
<text x="1266" y="1316.6" font-size="46" font-weight="normal" fill="#000">ZrO<tspan font-size="26.5" dx="0" dy="15.5">2</tspan></text>
<circle cx="426.3" cy="1876.2" r="8.2" fill="#000"/>
<circle cx="873.0" cy="2034.6" r="8.2" fill="#000"/>
<circle cx="1088.8" cy="2077.4" r="8.2" fill="#000"/>
<circle cx="430.8" cy="1760.3" r="8.2" fill="#000"/>
<circle cx="880.3" cy="1840.0" r="8.2" fill="#000"/>
<circle cx="1097.9" cy="1843.0" r="8.2" fill="#000"/>
<circle cx="435.8" cy="1714.0" r="8.2" fill="#000"/>
<circle cx="544.5" cy="1646.0" r="8.2" fill="#000"/>
<circle cx="891.4" cy="1719.6" r="8.2" fill="#000"/>
<circle cx="1108.0" cy="1729.8" r="8.2" fill="#000"/>
<circle cx="440.4" cy="1582.3" r="8.2" fill="#000"/>
<circle cx="550.2" cy="1563.2" r="8.2" fill="#000"/>
<circle cx="899.4" cy="1606.0" r="8.2" fill="#000"/>
<circle cx="1121.0" cy="1618.5" r="8.2" fill="#000"/>
<circle cx="437.0" cy="1505.3" r="8.2" fill="#000"/>
<circle cx="551.7" cy="1510.6" r="8.2" fill="#000"/>
<path d="M318.7,1490.2 L328.9,1503.0 L318.7,1515.8 L308.4,1503.0 Z" fill="#000"/>
<path d="M317.4,1580.0 L327.6,1592.8 L317.4,1605.5 L307.1,1592.8 Z" fill="#000"/>
<text x="0.0" y="0.0" font-size="45.5" font-weight="bold" text-anchor="middle" fill="#231815" transform="translate(396.0 1947.0) rotate(-90)" >(111)</text>
<text x="0.0" y="0.0" font-size="45.5" font-weight="bold" text-anchor="middle" fill="#231815" transform="translate(847.6 2036.0) rotate(-90)" >(220)</text>
<text x="0.0" y="0.0" font-size="45.5" font-weight="bold" text-anchor="middle" fill="#231815" transform="translate(1065.0 2036.5) rotate(-90)" >(311)</text>
<text x="0.0" y="0.0" font-size="46" font-weight="bold" text-anchor="middle" fill="#231815" transform="translate(517.0 1691.7) rotate(-90)" >(200)</text>
<text x="1407.2" y="1561.9" font-size="54.5" font-weight="bold" text-anchor="start" fill="#231815" >L4</text>
<text x="1407.2" y="1648.6" font-size="54.5" font-weight="bold" text-anchor="start" fill="#231815" >L3</text>
<text x="1407.2" y="1771.5" font-size="54.5" font-weight="bold" text-anchor="start" fill="#231815" >L2</text>
<text x="1407.2" y="1882.0" font-size="54.5" font-weight="bold" text-anchor="start" fill="#231815" >L1</text>
<text x="1407.2" y="2111.8" font-size="54.5" font-weight="bold" text-anchor="start" fill="#231815" >L0</text>
</g>
</svg></body></html>
